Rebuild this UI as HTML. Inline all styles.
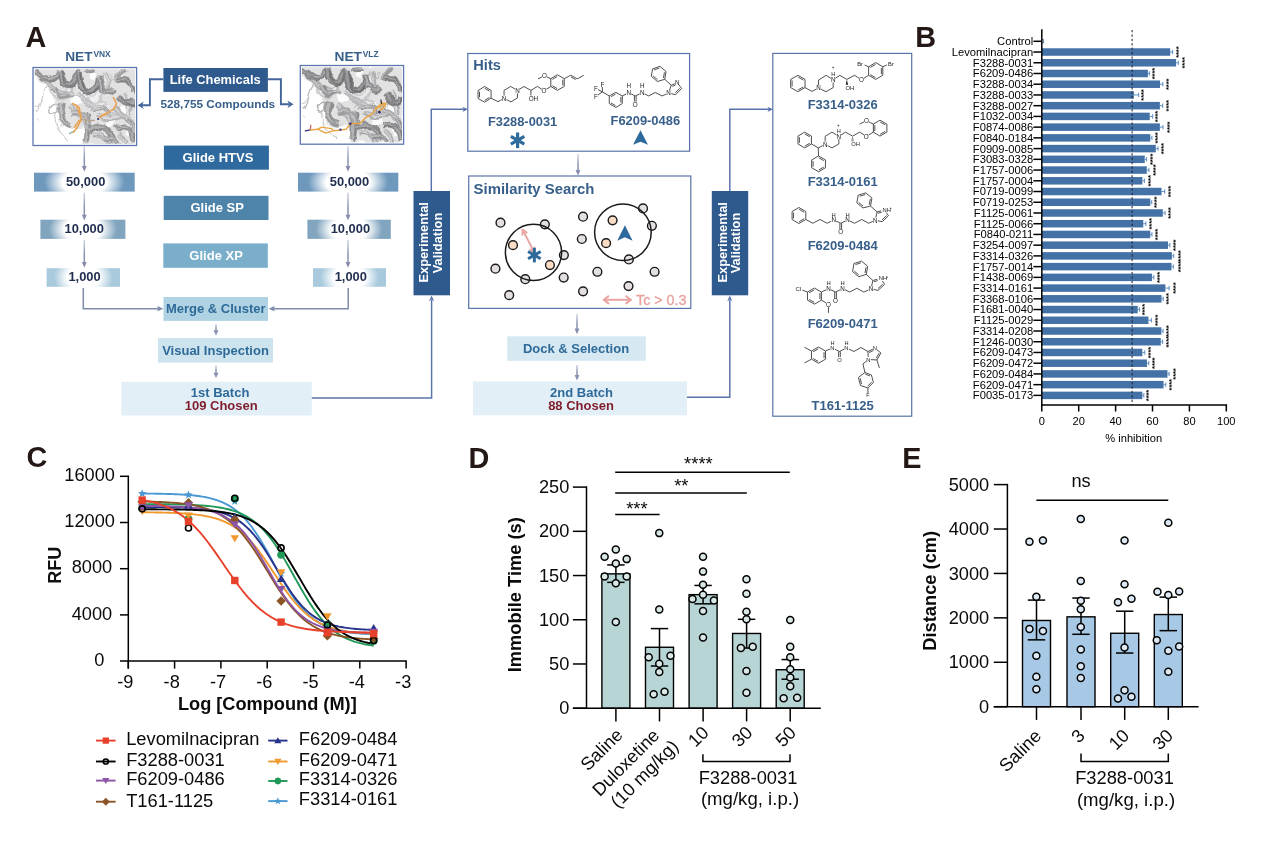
<!DOCTYPE html>
<html lang="en"><head><meta charset="utf-8"><title>Figure</title>
<style>
html,body{margin:0;padding:0;background:#fff;}
body{width:1270px;height:851px;overflow:hidden;}
svg{display:block;font-family:"Liberation Sans", Arial, sans-serif;}
</style></head><body>
<svg width="1270" height="851" viewBox="0 0 1270 851">
<rect width="1270" height="851" fill="#fff"/>
<defs>
<radialGradient id="g50" cx=".5" cy=".5" r="1" gradientTransform="translate(.5 .5) scale(.4 1.17) translate(-.5 -.5)"><stop offset="0" stop-color="#fff"/><stop offset=".55" stop-color="#fff"/><stop offset="1" stop-color="#6e99bd"/></radialGradient>
<radialGradient id="g10" cx=".5" cy=".5" r="1" gradientTransform="translate(.5 .5) scale(.4 1.17) translate(-.5 -.5)"><stop offset="0" stop-color="#fff"/><stop offset=".55" stop-color="#fff"/><stop offset="1" stop-color="#82a5bf"/></radialGradient>
<radialGradient id="g1" cx=".5" cy=".5" r="1" gradientTransform="translate(.5 .5) scale(.4 1.17) translate(-.5 -.5)"><stop offset="0" stop-color="#fff"/><stop offset=".55" stop-color="#fff"/><stop offset="1" stop-color="#a9cadd"/></radialGradient>
<linearGradient id="ag" x1="0" y1="0" x2="0" y2="1"><stop offset="0" stop-color="#d3d7e6"/><stop offset=".6" stop-color="#8d94b3"/><stop offset="1" stop-color="#878dac"/></linearGradient>
</defs>
<text x="25.60" y="46.70" font-size="28.8" fill="#231815" font-weight="bold" text-anchor="start" >A</text>
<text x="65.2" y="60.8" font-size="13.7" font-weight="bold" fill="#375f8a" text-anchor="start">NET<tspan font-size="8.4" dy="-4.3" dx="0.8">VNX</tspan></text>
<text x="334.6" y="60.8" font-size="13.7" font-weight="bold" fill="#375f8a" text-anchor="start">NET<tspan font-size="8.4" dy="-4.3" dx="0.8">VLZ</tspan></text>
<rect x="163.40" y="68.00" width="104.50" height="23.90" fill="#2f5a8e" />
<text x="215.20" y="84.20" font-size="12.9" fill="#fff" font-weight="bold" text-anchor="middle" >Life Chemicals</text>
<text x="217.80" y="107.80" font-size="11.8" fill="#375f8a" font-weight="bold" text-anchor="middle" >528,755 Compounds</text>
<rect x="163.90" y="145.60" width="105.00" height="24.10" fill="#2f6a9e" />
<text x="218.00" y="161.90" font-size="13" fill="#fff" font-weight="bold" text-anchor="middle" >Glide HTVS</text>
<rect x="163.70" y="195.80" width="104.80" height="24.20" fill="#4f84aa" />
<text x="217.20" y="212.20" font-size="13" fill="#fff" font-weight="bold" text-anchor="middle" >Glide SP</text>
<rect x="163.30" y="243.40" width="104.50" height="24.40" fill="#7aaeca" />
<text x="216.10" y="259.80" font-size="13" fill="#fff" font-weight="bold" text-anchor="middle" >Glide XP</text>
<rect x="163.50" y="297.00" width="104.50" height="23.90" fill="#b0d3e3" />
<text x="215.80" y="313.30" font-size="13" fill="#2e6a99" font-weight="bold" text-anchor="middle" >Merge &amp; Cluster</text>
<rect x="157.90" y="338.00" width="115.10" height="24.60" fill="#cde3ee" />
<text x="215.50" y="354.60" font-size="13" fill="#2e6a99" font-weight="bold" text-anchor="middle" >Visual Inspection</text>
<rect x="121.30" y="381.80" width="190.50" height="33.70" fill="#e3eff7" />
<text x="220.10" y="396.50" font-size="13" fill="#2e6a99" font-weight="bold" text-anchor="middle" >1st Batch</text>
<text x="221.20" y="409.80" font-size="13" fill="#7f1d2b" font-weight="bold" text-anchor="middle" >109 Chosen</text>
<polyline points="163.40,79.30 149.90,79.30 149.90,105.30 142.00,105.30" stroke="#44659a" stroke-width="1.9" fill="none" />
<polygon points="137.60,105.30 143.80,101.60 141.94,105.30 143.80,109.00" fill="#44659a" stroke="none" stroke-width="1" />
<polyline points="267.90,79.30 280.90,79.30 280.90,104.30 289.00,104.30" stroke="#44659a" stroke-width="1.9" fill="none" />
<polygon points="293.60,104.30 287.40,108.00 289.26,104.30 287.40,100.60" fill="#44659a" stroke="none" stroke-width="1" />
<rect x="34.00" y="172.70" width="100.70" height="18.90" fill="url(#g50)" />
<rect x="40.40" y="219.70" width="85.00" height="19.20" fill="url(#g10)" />
<rect x="46.60" y="268.20" width="73.40" height="18.60" fill="url(#g1)" />
<text x="85.65" y="185.90" font-size="12.9" fill="#1f2d4f" font-weight="bold" text-anchor="middle" >50,000</text>
<text x="84.20" y="232.90" font-size="12.9" fill="#1f2d4f" font-weight="bold" text-anchor="middle" >10,000</text>
<text x="84.60" y="280.80" font-size="12.9" fill="#1f2d4f" font-weight="bold" text-anchor="middle" >1,000</text>
<rect x="83.55" y="146.00" width="1.50" height="20.80" fill="url(#ag)" />
<polygon points="81.85,166.00 86.75,166.00 84.30,171.80" fill="#898fae" stroke="none" stroke-width="1" />
<rect x="83.55" y="192.50" width="1.50" height="23.00" fill="url(#ag)" />
<polygon points="81.85,214.70 86.75,214.70 84.30,220.50" fill="#898fae" stroke="none" stroke-width="1" />
<rect x="83.55" y="239.80" width="1.50" height="23.00" fill="url(#ag)" />
<polygon points="81.85,262.00 86.75,262.00 84.30,267.80" fill="#898fae" stroke="none" stroke-width="1" />
<rect x="298.00" y="172.70" width="100.30" height="18.90" fill="url(#g50)" />
<rect x="307.40" y="219.70" width="83.40" height="19.20" fill="url(#g10)" />
<rect x="313.00" y="268.20" width="73.00" height="18.60" fill="url(#g1)" />
<text x="349.45" y="185.90" font-size="12.9" fill="#1f2d4f" font-weight="bold" text-anchor="middle" >50,000</text>
<text x="350.40" y="232.90" font-size="12.9" fill="#1f2d4f" font-weight="bold" text-anchor="middle" >10,000</text>
<text x="350.80" y="280.80" font-size="12.9" fill="#1f2d4f" font-weight="bold" text-anchor="middle" >1,000</text>
<rect x="347.25" y="146.00" width="1.50" height="20.80" fill="url(#ag)" />
<polygon points="345.55,166.00 350.45,166.00 348.00,171.80" fill="#898fae" stroke="none" stroke-width="1" />
<rect x="347.25" y="192.50" width="1.50" height="23.00" fill="url(#ag)" />
<polygon points="345.55,214.70 350.45,214.70 348.00,220.50" fill="#898fae" stroke="none" stroke-width="1" />
<rect x="347.25" y="239.80" width="1.50" height="23.00" fill="url(#ag)" />
<polygon points="345.55,262.00 350.45,262.00 348.00,267.80" fill="#898fae" stroke="none" stroke-width="1" />
<polyline points="83.30,288.00 83.30,308.70 158.50,308.70" stroke="#7f8cab" stroke-width="1.5" fill="none" />
<polygon points="163.30,308.70 157.60,306.10 157.60,311.30" fill="#7f8cab" stroke="none" stroke-width="1" />
<polyline points="348.20,288.00 348.20,308.70 273.50,308.70" stroke="#7f8cab" stroke-width="1.5" fill="none" />
<polygon points="268.70,308.70 274.40,306.10 274.40,311.30" fill="#7f8cab" stroke="none" stroke-width="1" />
<rect x="215.25" y="324.00" width="1.50" height="7.00" fill="url(#ag)" />
<polygon points="213.50,330.20 218.50,330.20 216.00,335.60" fill="#898fae" stroke="none" stroke-width="1" />
<rect x="215.25" y="365.50" width="1.50" height="8.00" fill="url(#ag)" />
<polygon points="213.50,372.70 218.50,372.70 216.00,378.10" fill="#898fae" stroke="none" stroke-width="1" />
<rect x="413.50" y="191.00" width="36.50" height="104.30" fill="#2f5a8e" />
<text transform="translate(428.3,242.3) rotate(-90)" font-size="12.8" font-weight="bold" fill="#fff" text-anchor="middle">Experimental</text>
<text transform="translate(441.9,243.0) rotate(-90)" font-size="12.8" font-weight="bold" fill="#fff" text-anchor="middle">Validation</text>
<polyline points="311.80,398.00 431.60,398.00 431.60,300.00" stroke="#5873a9" stroke-width="1.45" fill="none" />
<polygon points="431.60,295.60 434.20,301.20 431.60,299.52 429.00,301.20" fill="#5873a9" stroke="none" stroke-width="1" />
<polyline points="431.30,191.00 431.30,109.30 464.00,109.30" stroke="#5873a9" stroke-width="1.45" fill="none" />
<polygon points="468.00,109.30 462.40,111.90 464.08,109.30 462.40,106.70" fill="#5873a9" stroke="none" stroke-width="1" />
<rect x="467.80" y="53.50" width="221.80" height="97.70" fill="#fff" stroke="#5873a9" stroke-width="1.2" />
<text x="473.30" y="70.30" font-size="14.6" fill="#375f8a" font-weight="bold" text-anchor="start" >Hits</text>
<text x="522.60" y="126.30" font-size="12.85" fill="#375f8a" font-weight="bold" text-anchor="middle" >F3288-0031</text>
<text x="645.30" y="124.60" font-size="12.9" fill="#375f8a" font-weight="bold" text-anchor="middle" >F6209-0486</text>
<rect x="577.25" y="154.00" width="1.50" height="16.70" fill="url(#ag)" />
<polygon points="575.55,169.90 580.45,169.90 578.00,175.70" fill="#898fae" stroke="none" stroke-width="1" />
<rect x="468.70" y="176.00" width="222.10" height="132.40" fill="#fff" stroke="#5873a9" stroke-width="1.2" />
<text x="473.60" y="193.70" font-size="14.9" fill="#375f8a" font-weight="bold" text-anchor="start" >Similarity Search</text>
<rect x="576.25" y="314.00" width="1.50" height="15.20" fill="url(#ag)" />
<polygon points="574.55,328.40 579.45,328.40 577.00,334.20" fill="#898fae" stroke="none" stroke-width="1" />
<rect x="507.20" y="336.30" width="138.60" height="24.50" fill="#d6e8f1" />
<text x="576.00" y="353.00" font-size="13" fill="#2e6a99" font-weight="bold" text-anchor="middle" >Dock &amp; Selection</text>
<rect x="576.25" y="365.00" width="1.50" height="10.80" fill="url(#ag)" />
<polygon points="574.60,375.00 579.40,375.00 577.00,380.40" fill="#898fae" stroke="none" stroke-width="1" />
<rect x="473.00" y="381.40" width="214.00" height="33.90" fill="#e3eff7" />
<text x="581.50" y="396.50" font-size="13" fill="#2e6a99" font-weight="bold" text-anchor="middle" >2nd Batch</text>
<text x="581.00" y="410.00" font-size="13" fill="#7f1d2b" font-weight="bold" text-anchor="middle" >88 Chosen</text>
<rect x="711.80" y="191.00" width="36.40" height="104.30" fill="#2f5a8e" />
<text transform="translate(726.6,242.3) rotate(-90)" font-size="12.8" font-weight="bold" fill="#fff" text-anchor="middle">Experimental</text>
<text transform="translate(740.2,243.0) rotate(-90)" font-size="12.8" font-weight="bold" fill="#fff" text-anchor="middle">Validation</text>
<polyline points="687.00,397.30 729.80,397.30 729.80,300.00" stroke="#5873a9" stroke-width="1.45" fill="none" />
<polygon points="729.80,295.60 732.40,301.20 729.80,299.52 727.20,301.20" fill="#5873a9" stroke="none" stroke-width="1" />
<polyline points="729.80,191.00 729.80,109.30 769.00,109.30" stroke="#5873a9" stroke-width="1.45" fill="none" />
<polygon points="773.00,109.30 767.40,111.90 769.08,109.30 767.40,106.70" fill="#5873a9" stroke="none" stroke-width="1" />
<rect x="772.80" y="53.40" width="138.90" height="362.80" fill="#fff" stroke="#5873a9" stroke-width="1.2" />
<text x="842.70" y="108.60" font-size="13" fill="#375f8a" font-weight="bold" text-anchor="middle" >F3314-0326</text>
<text x="842.70" y="185.80" font-size="13" fill="#375f8a" font-weight="bold" text-anchor="middle" >F3314-0161</text>
<text x="842.70" y="250.00" font-size="13" fill="#375f8a" font-weight="bold" text-anchor="middle" >F6209-0484</text>
<text x="842.70" y="327.70" font-size="13" fill="#375f8a" font-weight="bold" text-anchor="middle" >F6209-0471</text>
<text x="842.70" y="410.00" font-size="13" fill="#375f8a" font-weight="bold" text-anchor="middle" >T161-1125</text>
<defs><clipPath id="cp1"><rect x="34.8" y="69.3" width="100.2" height="74.6"/></clipPath><clipPath id="cp2"><rect x="302.1" y="67.3" width="99.9" height="75.3"/></clipPath><filter id="blurcp1" x="-5%" y="-5%" width="110%" height="110%" color-interpolation-filters="sRGB"><feTurbulence type="fractalNoise" baseFrequency="0.09" numOctaves="2" seed="3" result="n"/><feDisplacementMap in="SourceGraphic" in2="n" scale="7" xChannelSelector="R" yChannelSelector="G" result="d"/><feGaussianBlur in="d" stdDeviation="0.65"/></filter><filter id="blurcp2" x="-5%" y="-5%" width="110%" height="110%" color-interpolation-filters="sRGB"><feTurbulence type="fractalNoise" baseFrequency="0.09" numOctaves="2" seed="7" result="n"/><feDisplacementMap in="SourceGraphic" in2="n" scale="7" xChannelSelector="R" yChannelSelector="G" result="d"/><feGaussianBlur in="d" stdDeviation="0.65"/></filter></defs>
<rect x="33.00" y="67.50" width="103.60" height="78.00" fill="#fff" />
<g clip-path="url(#cp1)" filter="url(#blurcp1)">
<path d="M 33.9,67.9 L 136.2,67.9 L 136.2,144.5 L 82.3,144.5 L 83.3,127.2 L 71.5,129.2 L 59.6,127.2 L 56.7,105.5 L 48.8,86.7 L 33.9,76.8 Z" fill="#cfcfd1" opacity="0.6"/>
<ellipse cx="76.4" cy="99.5" rx="6.9" ry="4.9" fill="#fff" opacity="0.9"/>
<ellipse cx="99.1" cy="105.5" rx="8.9" ry="3.9" fill="#fff" opacity="0.9"/>
<ellipse cx="54.7" cy="96.6" rx="3.9" ry="3.9" fill="#fff" opacity="0.9"/>
<ellipse cx="124.8" cy="110.4" rx="4.9" ry="3.9" fill="#fff" opacity="0.9"/>
<ellipse cx="93.2" cy="75.8" rx="3.0" ry="3.9" fill="#fff" opacity="0.9"/>
<ellipse cx="111.0" cy="123.2" rx="3.9" ry="4.9" fill="#fff" opacity="0.9"/>
<ellipse cx="128.7" cy="133.1" rx="3.0" ry="3.9" fill="#fff" opacity="0.9"/>
<path d="M 51.7,88.7 C 55.7,101.5 67.5,99.5 69.5,86.7" stroke="#d2d2d4" stroke-width="6.91" fill="none" stroke-linecap="butt" stroke-linejoin="round" opacity="1"/>
<path d="M 51.7,88.7 C 55.7,101.5 67.5,99.5 69.5,86.7" stroke="#f5f5f7" stroke-width="2.28" fill="none" stroke-linecap="butt" transform="translate(-0.7,-0.5)" opacity="0.85"/>
<path d="M 51.7,88.7 C 55.7,101.5 67.5,99.5 69.5,86.7" stroke="#bcbcbe" stroke-width="1.11" fill="none" stroke-linecap="butt" transform="translate(1.9,1.2)" opacity="0.7"/>
<path d="M 85.3,96.6 C 91.2,103.5 99.1,101.5 101.1,93.6" stroke="#d7d7d9" stroke-width="6.91" fill="none" stroke-linecap="butt" stroke-linejoin="round" opacity="1"/>
<path d="M 85.3,96.6 C 91.2,103.5 99.1,101.5 101.1,93.6" stroke="#f5f5f7" stroke-width="2.28" fill="none" stroke-linecap="butt" transform="translate(-0.7,-0.5)" opacity="0.85"/>
<path d="M 85.3,96.6 C 91.2,103.5 99.1,101.5 101.1,93.6" stroke="#c1c1c3" stroke-width="1.11" fill="none" stroke-linecap="butt" transform="translate(1.9,1.2)" opacity="0.7"/>
<path d="M 89.2,110.4 C 93.2,103.5 101.1,101.5 105.0,105.5" stroke="#cdcdcf" stroke-width="5.92" fill="none" stroke-linecap="butt" stroke-linejoin="round" opacity="1"/>
<path d="M 89.2,110.4 C 93.2,103.5 101.1,101.5 105.0,105.5" stroke="#f3f3f5" stroke-width="1.96" fill="none" stroke-linecap="butt" transform="translate(-0.7,-0.5)" opacity="0.85"/>
<path d="M 89.2,110.4 C 93.2,103.5 101.1,101.5 105.0,105.5" stroke="#b7b7b9" stroke-width="0.95" fill="none" stroke-linecap="butt" transform="translate(1.9,1.2)" opacity="0.7"/>
<path d="M 111.0,110.4 C 118.9,115.3 126.8,115.3 132.7,123.2" stroke="#c8c8ca" stroke-width="5.92" fill="none" stroke-linecap="butt" stroke-linejoin="round" opacity="1"/>
<path d="M 111.0,110.4 C 118.9,115.3 126.8,115.3 132.7,123.2" stroke="#eeeef0" stroke-width="1.96" fill="none" stroke-linecap="butt" transform="translate(-0.7,-0.5)" opacity="0.85"/>
<path d="M 111.0,110.4 C 118.9,115.3 126.8,115.3 132.7,123.2" stroke="#b2b2b4" stroke-width="0.95" fill="none" stroke-linecap="butt" transform="translate(1.9,1.2)" opacity="0.7"/>
<path d="M 99.1,127.2 C 105.0,133.1 109.0,137.1 111.0,143.0" stroke="#cdcdcf" stroke-width="6.91" fill="none" stroke-linecap="butt" stroke-linejoin="round" opacity="1"/>
<path d="M 99.1,127.2 C 105.0,133.1 109.0,137.1 111.0,143.0" stroke="#f3f3f5" stroke-width="2.28" fill="none" stroke-linecap="butt" transform="translate(-0.7,-0.5)" opacity="0.85"/>
<path d="M 99.1,127.2 C 105.0,133.1 109.0,137.1 111.0,143.0" stroke="#b7b7b9" stroke-width="1.11" fill="none" stroke-linecap="butt" transform="translate(1.9,1.2)" opacity="0.7"/>
<path d="M 122.8,93.6 C 127.8,101.5 128.7,107.4 129.7,115.3" stroke="#c3c3c5" stroke-width="5.92" fill="none" stroke-linecap="butt" stroke-linejoin="round" opacity="1"/>
<path d="M 122.8,93.6 C 127.8,101.5 128.7,107.4 129.7,115.3" stroke="#e9e9eb" stroke-width="1.96" fill="none" stroke-linecap="butt" transform="translate(-0.7,-0.5)" opacity="0.85"/>
<path d="M 122.8,93.6 C 127.8,101.5 128.7,107.4 129.7,115.3" stroke="#adadaf" stroke-width="0.95" fill="none" stroke-linecap="butt" transform="translate(1.9,1.2)" opacity="0.7"/>
<path d="M 40.9,75.8 C 49.7,88.7 62.6,96.6 72.5,93.6" stroke="#b6b6b8" stroke-width="5.13" fill="none" stroke-linecap="butt" stroke-linejoin="round" opacity="1"/>
<path d="M 40.9,75.8 C 49.7,88.7 62.6,96.6 72.5,93.6" stroke="#dcdcde" stroke-width="1.69" fill="none" stroke-linecap="butt" transform="translate(-0.7,-0.5)" opacity="0.85"/>
<path d="M 40.9,75.8 C 49.7,88.7 62.6,96.6 72.5,93.6" stroke="#a0a0a2" stroke-width="0.82" fill="none" stroke-linecap="butt" transform="translate(1.9,1.2)" opacity="0.7"/>
<path d="M 76.4,93.6 C 85.3,101.5 93.2,105.5 101.1,107.4" stroke="#bebec0" stroke-width="4.94" fill="none" stroke-linecap="butt" stroke-linejoin="round" opacity="1"/>
<path d="M 76.4,93.6 C 85.3,101.5 93.2,105.5 101.1,107.4" stroke="#e4e4e6" stroke-width="1.63" fill="none" stroke-linecap="butt" transform="translate(-0.7,-0.5)" opacity="0.85"/>
<path d="M 76.4,93.6 C 85.3,101.5 93.2,105.5 101.1,107.4" stroke="#a8a8aa" stroke-width="0.79" fill="none" stroke-linecap="butt" transform="translate(1.9,1.2)" opacity="0.7"/>
<path d="M 69.5,105.5 C 76.4,111.4 83.3,119.3 85.3,129.2" stroke="#bababc" stroke-width="4.74" fill="none" stroke-linecap="butt" stroke-linejoin="round" opacity="1"/>
<path d="M 69.5,105.5 C 76.4,111.4 83.3,119.3 85.3,129.2" stroke="#e0e0e2" stroke-width="1.56" fill="none" stroke-linecap="butt" transform="translate(-0.7,-0.5)" opacity="0.85"/>
<path d="M 69.5,105.5 C 76.4,111.4 83.3,119.3 85.3,129.2" stroke="#a4a4a6" stroke-width="0.76" fill="none" stroke-linecap="butt" transform="translate(1.9,1.2)" opacity="0.7"/>
<path d="M 97.1,115.3 C 105.0,119.3 114.9,119.3 124.8,115.3" stroke="#bcbcbe" stroke-width="4.94" fill="none" stroke-linecap="butt" stroke-linejoin="round" opacity="1"/>
<path d="M 97.1,115.3 C 105.0,119.3 114.9,119.3 124.8,115.3" stroke="#e2e2e4" stroke-width="1.63" fill="none" stroke-linecap="butt" transform="translate(-0.7,-0.5)" opacity="0.85"/>
<path d="M 97.1,115.3 C 105.0,119.3 114.9,119.3 124.8,115.3" stroke="#a6a6a8" stroke-width="0.79" fill="none" stroke-linecap="butt" transform="translate(1.9,1.2)" opacity="0.7"/>
<path d="M 114.9,106.5 C 118.9,113.4 124.8,119.3 132.7,119.3" stroke="#b4b4b6" stroke-width="4.54" fill="none" stroke-linecap="butt" stroke-linejoin="round" opacity="1"/>
<path d="M 114.9,106.5 C 118.9,113.4 124.8,119.3 132.7,119.3" stroke="#dadadc" stroke-width="1.50" fill="none" stroke-linecap="butt" transform="translate(-0.7,-0.5)" opacity="0.85"/>
<path d="M 114.9,106.5 C 118.9,113.4 124.8,119.3 132.7,119.3" stroke="#9e9ea0" stroke-width="0.73" fill="none" stroke-linecap="butt" transform="translate(1.9,1.2)" opacity="0.7"/>
<path d="M 93.2,135.1 C 101.1,133.1 107.0,139.0 109.0,144.0" stroke="#b6b6b8" stroke-width="4.94" fill="none" stroke-linecap="butt" stroke-linejoin="round" opacity="1"/>
<path d="M 93.2,135.1 C 101.1,133.1 107.0,139.0 109.0,144.0" stroke="#dcdcde" stroke-width="1.63" fill="none" stroke-linecap="butt" transform="translate(-0.7,-0.5)" opacity="0.85"/>
<path d="M 93.2,135.1 C 101.1,133.1 107.0,139.0 109.0,144.0" stroke="#a0a0a2" stroke-width="0.79" fill="none" stroke-linecap="butt" transform="translate(1.9,1.2)" opacity="0.7"/>
<path d="M 118.9,133.1 C 122.8,137.1 124.8,141.0 126.8,144.0" stroke="#bababc" stroke-width="4.34" fill="none" stroke-linecap="butt" stroke-linejoin="round" opacity="1"/>
<path d="M 118.9,133.1 C 122.8,137.1 124.8,141.0 126.8,144.0" stroke="#e0e0e2" stroke-width="1.43" fill="none" stroke-linecap="butt" transform="translate(-0.7,-0.5)" opacity="0.85"/>
<path d="M 118.9,133.1 C 122.8,137.1 124.8,141.0 126.8,144.0" stroke="#a4a4a6" stroke-width="0.70" fill="none" stroke-linecap="butt" transform="translate(1.9,1.2)" opacity="0.7"/>
<path d="M 105.0,72.9 C 108.0,79.8 109.0,86.7 107.0,93.6" stroke="#bcbcbe" stroke-width="4.34" fill="none" stroke-linecap="butt" stroke-linejoin="round" opacity="1"/>
<path d="M 105.0,72.9 C 108.0,79.8 109.0,86.7 107.0,93.6" stroke="#e2e2e4" stroke-width="1.43" fill="none" stroke-linecap="butt" transform="translate(-0.7,-0.5)" opacity="0.85"/>
<path d="M 105.0,72.9 C 108.0,79.8 109.0,86.7 107.0,93.6" stroke="#a6a6a8" stroke-width="0.70" fill="none" stroke-linecap="butt" transform="translate(1.9,1.2)" opacity="0.7"/>
<path d="M 34.4,110.4 C 44.8,111.4 38.9,89.7 48.8,85.2" stroke="#c3c3c5" stroke-width="1.18" fill="none" stroke-linecap="butt" stroke-linejoin="round" opacity="1"/>
<path d="M 34.9,105.5 C 40.9,105.5 41.8,101.5 42.8,96.6" stroke="#cdcdcf" stroke-width="0.99" fill="none" stroke-linecap="butt" stroke-linejoin="round" opacity="1"/>
<path d="M 49.7,111.4 C 52.7,101.5 61.6,103.5 58.6,107.4 C 56.7,115.3 49.7,115.3 49.7,111.4" stroke="#b4b4b6" stroke-width="1.38" fill="none" stroke-linecap="butt" stroke-linejoin="round" opacity="1"/>
<path d="M 54.7,113.4 C 54.7,131.1 65.5,135.1 68.0,143.0" stroke="#c3c3c5" stroke-width="0.99" fill="none" stroke-linecap="butt" stroke-linejoin="round" opacity="1"/>
<path d="M 109.0,75.8 C 112.0,71.9 113.9,75.8 109.0,83.7" stroke="#c3c3c5" stroke-width="1.18" fill="none" stroke-linecap="butt" stroke-linejoin="round" opacity="1"/>
<path d="M 34.9,117.3 C 35.9,119.3 36.9,119.3 37.9,119.3" stroke="#d2d2d4" stroke-width="0.79" fill="none" stroke-linecap="butt" stroke-linejoin="round" opacity="1"/>
<path d="M 34.9,70.9 C 38.9,72.9 42.8,80.8 50.7,79.8 C 55.7,78.8 58.6,73.9 59.6,69.9" stroke="#919193" stroke-width="6.12" fill="none" stroke-linecap="butt" stroke-linejoin="round" opacity="1"/>
<path d="M 34.9,70.9 C 38.9,72.9 42.8,80.8 50.7,79.8 C 55.7,78.8 58.6,73.9 59.6,69.9" stroke="#b7b7b9" stroke-width="2.02" fill="none" stroke-linecap="butt" transform="translate(-0.7,-0.5)" opacity="0.85"/>
<path d="M 34.9,70.9 C 38.9,72.9 42.8,80.8 50.7,79.8 C 55.7,78.8 58.6,73.9 59.6,69.9" stroke="#7b7b7d" stroke-width="0.98" fill="none" stroke-linecap="butt" transform="translate(1.9,1.2)" opacity="0.7"/>
<path d="M 59.6,70.9 C 62.6,83.7 69.5,88.7 73.4,81.8 C 76.4,76.8 77.4,73.9 79.4,71.9" stroke="#878789" stroke-width="6.52" fill="none" stroke-linecap="butt" stroke-linejoin="round" opacity="1"/>
<path d="M 59.6,70.9 C 62.6,83.7 69.5,88.7 73.4,81.8 C 76.4,76.8 77.4,73.9 79.4,71.9" stroke="#adadaf" stroke-width="2.15" fill="none" stroke-linecap="butt" transform="translate(-0.7,-0.5)" opacity="0.85"/>
<path d="M 59.6,70.9 C 62.6,83.7 69.5,88.7 73.4,81.8 C 76.4,76.8 77.4,73.9 79.4,71.9" stroke="#717173" stroke-width="1.04" fill="none" stroke-linecap="butt" transform="translate(1.9,1.2)" opacity="0.7"/>
<path d="M 79.4,72.9 C 80.4,86.7 85.3,96.6 93.2,91.6 C 98.1,88.7 99.1,81.8 99.1,76.8" stroke="#828284" stroke-width="6.91" fill="none" stroke-linecap="butt" stroke-linejoin="round" opacity="1"/>
<path d="M 79.4,72.9 C 80.4,86.7 85.3,96.6 93.2,91.6 C 98.1,88.7 99.1,81.8 99.1,76.8" stroke="#a8a8aa" stroke-width="2.28" fill="none" stroke-linecap="butt" transform="translate(-0.7,-0.5)" opacity="0.85"/>
<path d="M 79.4,72.9 C 80.4,86.7 85.3,96.6 93.2,91.6 C 98.1,88.7 99.1,81.8 99.1,76.8" stroke="#6c6c6e" stroke-width="1.11" fill="none" stroke-linecap="butt" transform="translate(1.9,1.2)" opacity="0.7"/>
<path d="M 85.3,69.9 C 89.2,72.9 93.2,72.9 94.2,70.9" stroke="#969698" stroke-width="3.95" fill="none" stroke-linecap="butt" stroke-linejoin="round" opacity="1"/>
<path d="M 85.3,69.9 C 89.2,72.9 93.2,72.9 94.2,70.9" stroke="#bcbcbe" stroke-width="1.30" fill="none" stroke-linecap="butt" transform="translate(-0.7,-0.5)" opacity="0.85"/>
<path d="M 85.3,69.9 C 89.2,72.9 93.2,72.9 94.2,70.9" stroke="#808082" stroke-width="0.63" fill="none" stroke-linecap="butt" transform="translate(1.9,1.2)" opacity="0.7"/>
<path d="M 99.1,77.8 C 102.1,93.6 109.0,96.6 113.9,88.7" stroke="#969698" stroke-width="5.92" fill="none" stroke-linecap="butt" stroke-linejoin="round" opacity="1"/>
<path d="M 99.1,77.8 C 102.1,93.6 109.0,96.6 113.9,88.7" stroke="#bcbcbe" stroke-width="1.96" fill="none" stroke-linecap="butt" transform="translate(-0.7,-0.5)" opacity="0.85"/>
<path d="M 99.1,77.8 C 102.1,93.6 109.0,96.6 113.9,88.7" stroke="#808082" stroke-width="0.95" fill="none" stroke-linecap="butt" transform="translate(1.9,1.2)" opacity="0.7"/>
<path d="M 114.9,81.8 C 118.9,72.9 122.8,69.9 125.8,69.9" stroke="#a0a0a2" stroke-width="4.34" fill="none" stroke-linecap="butt" stroke-linejoin="round" opacity="1"/>
<path d="M 114.9,81.8 C 118.9,72.9 122.8,69.9 125.8,69.9" stroke="#c6c6c8" stroke-width="1.43" fill="none" stroke-linecap="butt" transform="translate(-0.7,-0.5)" opacity="0.85"/>
<path d="M 114.9,81.8 C 118.9,72.9 122.8,69.9 125.8,69.9" stroke="#8a8a8c" stroke-width="0.70" fill="none" stroke-linecap="butt" transform="translate(1.9,1.2)" opacity="0.7"/>
<path d="M 116.9,80.8 C 124.8,77.8 132.7,81.8 133.7,93.6" stroke="#8c8c8e" stroke-width="5.53" fill="none" stroke-linecap="butt" stroke-linejoin="round" opacity="1"/>
<path d="M 116.9,80.8 C 124.8,77.8 132.7,81.8 133.7,93.6" stroke="#b2b2b4" stroke-width="1.82" fill="none" stroke-linecap="butt" transform="translate(-0.7,-0.5)" opacity="0.85"/>
<path d="M 116.9,80.8 C 124.8,77.8 132.7,81.8 133.7,93.6" stroke="#767678" stroke-width="0.88" fill="none" stroke-linecap="butt" transform="translate(1.9,1.2)" opacity="0.7"/>
<path d="M 118.9,96.6 C 124.8,105.5 132.7,105.5 134.7,99.5" stroke="#878789" stroke-width="6.91" fill="none" stroke-linecap="butt" stroke-linejoin="round" opacity="1"/>
<path d="M 118.9,96.6 C 124.8,105.5 132.7,105.5 134.7,99.5" stroke="#adadaf" stroke-width="2.28" fill="none" stroke-linecap="butt" transform="translate(-0.7,-0.5)" opacity="0.85"/>
<path d="M 118.9,96.6 C 124.8,105.5 132.7,105.5 134.7,99.5" stroke="#717173" stroke-width="1.11" fill="none" stroke-linecap="butt" transform="translate(1.9,1.2)" opacity="0.7"/>
<path d="M 54.7,87.7 C 57.6,96.6 63.6,98.6 67.5,93.6" stroke="#a0a0a2" stroke-width="4.94" fill="none" stroke-linecap="butt" stroke-linejoin="round" opacity="1"/>
<path d="M 54.7,87.7 C 57.6,96.6 63.6,98.6 67.5,93.6" stroke="#c6c6c8" stroke-width="1.63" fill="none" stroke-linecap="butt" transform="translate(-0.7,-0.5)" opacity="0.85"/>
<path d="M 54.7,87.7 C 57.6,96.6 63.6,98.6 67.5,93.6" stroke="#8a8a8c" stroke-width="0.79" fill="none" stroke-linecap="butt" transform="translate(1.9,1.2)" opacity="0.7"/>
<path d="M 62.6,103.5 C 59.6,115.3 62.6,125.2 71.5,125.2" stroke="#a0a0a2" stroke-width="6.52" fill="none" stroke-linecap="butt" stroke-linejoin="round" opacity="1"/>
<path d="M 62.6,103.5 C 59.6,115.3 62.6,125.2 71.5,125.2" stroke="#c6c6c8" stroke-width="2.15" fill="none" stroke-linecap="butt" transform="translate(-0.7,-0.5)" opacity="0.85"/>
<path d="M 62.6,103.5 C 59.6,115.3 62.6,125.2 71.5,125.2" stroke="#8a8a8c" stroke-width="1.04" fill="none" stroke-linecap="butt" transform="translate(1.9,1.2)" opacity="0.7"/>
<path d="M 89.2,113.4 C 85.3,123.2 88.3,133.1 85.3,142.0" stroke="#9b9b9d" stroke-width="6.52" fill="none" stroke-linecap="butt" stroke-linejoin="round" opacity="1"/>
<path d="M 89.2,113.4 C 85.3,123.2 88.3,133.1 85.3,142.0" stroke="#c1c1c3" stroke-width="2.15" fill="none" stroke-linecap="butt" transform="translate(-0.7,-0.5)" opacity="0.85"/>
<path d="M 89.2,113.4 C 85.3,123.2 88.3,133.1 85.3,142.0" stroke="#858587" stroke-width="1.04" fill="none" stroke-linecap="butt" transform="translate(1.9,1.2)" opacity="0.7"/>
<path d="M 71.5,113.4 C 81.3,110.4 85.3,117.3 89.2,125.2" stroke="#aaaaac" stroke-width="5.53" fill="none" stroke-linecap="butt" stroke-linejoin="round" opacity="1"/>
<path d="M 71.5,113.4 C 81.3,110.4 85.3,117.3 89.2,125.2" stroke="#d0d0d2" stroke-width="1.82" fill="none" stroke-linecap="butt" transform="translate(-0.7,-0.5)" opacity="0.85"/>
<path d="M 71.5,113.4 C 81.3,110.4 85.3,117.3 89.2,125.2" stroke="#949496" stroke-width="0.88" fill="none" stroke-linecap="butt" transform="translate(1.9,1.2)" opacity="0.7"/>
<path d="M 93.2,110.4 C 99.1,106.5 105.0,107.4 109.0,115.3" stroke="#aaaaac" stroke-width="4.94" fill="none" stroke-linecap="butt" stroke-linejoin="round" opacity="1"/>
<path d="M 93.2,110.4 C 99.1,106.5 105.0,107.4 109.0,115.3" stroke="#d0d0d2" stroke-width="1.63" fill="none" stroke-linecap="butt" transform="translate(-0.7,-0.5)" opacity="0.85"/>
<path d="M 93.2,110.4 C 99.1,106.5 105.0,107.4 109.0,115.3" stroke="#949496" stroke-width="0.79" fill="none" stroke-linecap="butt" transform="translate(1.9,1.2)" opacity="0.7"/>
<path d="M 89.2,131.1 C 99.1,123.2 109.0,125.2 114.9,142.0" stroke="#919193" stroke-width="6.12" fill="none" stroke-linecap="butt" stroke-linejoin="round" opacity="1"/>
<path d="M 89.2,131.1 C 99.1,123.2 109.0,125.2 114.9,142.0" stroke="#b7b7b9" stroke-width="2.02" fill="none" stroke-linecap="butt" transform="translate(-0.7,-0.5)" opacity="0.85"/>
<path d="M 89.2,131.1 C 99.1,123.2 109.0,125.2 114.9,142.0" stroke="#7b7b7d" stroke-width="0.98" fill="none" stroke-linecap="butt" transform="translate(1.9,1.2)" opacity="0.7"/>
<path d="M 116.9,129.2 C 123.8,123.2 132.7,127.2 134.7,142.0" stroke="#919193" stroke-width="5.92" fill="none" stroke-linecap="butt" stroke-linejoin="round" opacity="1"/>
<path d="M 116.9,129.2 C 123.8,123.2 132.7,127.2 134.7,142.0" stroke="#b7b7b9" stroke-width="1.96" fill="none" stroke-linecap="butt" transform="translate(-0.7,-0.5)" opacity="0.85"/>
<path d="M 116.9,129.2 C 123.8,123.2 132.7,127.2 134.7,142.0" stroke="#7b7b7d" stroke-width="0.95" fill="none" stroke-linecap="butt" transform="translate(1.9,1.2)" opacity="0.7"/>
<path d="M 105.0,139.0 C 111.0,137.1 116.9,140.0 118.9,143.0" stroke="#a0a0a2" stroke-width="4.94" fill="none" stroke-linecap="butt" stroke-linejoin="round" opacity="1"/>
<path d="M 105.0,139.0 C 111.0,137.1 116.9,140.0 118.9,143.0" stroke="#c6c6c8" stroke-width="1.63" fill="none" stroke-linecap="butt" transform="translate(-0.7,-0.5)" opacity="0.85"/>
<path d="M 105.0,139.0 C 111.0,137.1 116.9,140.0 118.9,143.0" stroke="#8a8a8c" stroke-width="0.79" fill="none" stroke-linecap="butt" transform="translate(1.9,1.2)" opacity="0.7"/>
<path d="M 128.7,119.3 C 132.7,123.2 133.7,127.2 134.7,133.1" stroke="#a0a0a2" stroke-width="4.34" fill="none" stroke-linecap="butt" stroke-linejoin="round" opacity="1"/>
<path d="M 128.7,119.3 C 132.7,123.2 133.7,127.2 134.7,133.1" stroke="#c6c6c8" stroke-width="1.43" fill="none" stroke-linecap="butt" transform="translate(-0.7,-0.5)" opacity="0.85"/>
<path d="M 128.7,119.3 C 132.7,123.2 133.7,127.2 134.7,133.1" stroke="#8a8a8c" stroke-width="0.70" fill="none" stroke-linecap="butt" transform="translate(1.9,1.2)" opacity="0.7"/>
</g>
<polyline points="69.50,133.62 73.45,131.15" stroke="#8fb59a" stroke-width="1.2" fill="none" stroke-linejoin="round" stroke-linecap="round"/>
<polyline points="73.45,132.13 77.40,127.20 81.35,119.30 78.39,110.41 76.41,105.47 72.46,103.50" stroke="#e8a353" stroke-width="1.6" fill="none" stroke-linejoin="round" stroke-linecap="round"/>
<polyline points="74.44,127.20 79.37,120.29" stroke="#e8a353" stroke-width="1.6" fill="none" stroke-linejoin="round" stroke-linecap="round"/>
<polyline points="76.41,105.47 79.37,107.45 81.35,119.30" stroke="#e8a353" stroke-width="1.3" fill="none" stroke-linejoin="round" stroke-linecap="round"/>
<polyline points="81.35,119.30 89.25,120.78 94.18,120.29" stroke="#b9a58a" stroke-width="1.4" fill="none" stroke-linejoin="round" stroke-linecap="round"/>
<polyline points="99.12,117.82 102.08,115.35 108.01,112.39 113.93,108.93 116.40,103.50 113.44,97.57" stroke="#e8a353" stroke-width="1.6" fill="none" stroke-linejoin="round" stroke-linecap="round"/>
<polyline points="101.10,116.34 107.02,113.87" stroke="#e8a353" stroke-width="1.4" fill="none" stroke-linejoin="round" stroke-linecap="round"/>
<circle cx="98.13" cy="119.00" r="1.10" fill="#2a2f7a" stroke="none" stroke-width="1" />
<rect x="33.00" y="67.50" width="103.60" height="78.00" fill="none" stroke="#5e76b0" stroke-width="1.3" />
<rect x="300.30" y="65.50" width="103.30" height="78.70" fill="#fff" />
<g clip-path="url(#cp2)" filter="url(#blurcp2)">
<path d="M 300.9,65.9 L 403.2,65.9 L 403.2,142.5 L 349.3,142.5 L 350.3,125.2 L 338.5,127.2 L 326.6,125.2 L 323.7,103.5 L 315.8,84.7 L 300.9,74.8 Z" fill="#cfcfd1" opacity="0.6"/>
<ellipse cx="343.4" cy="97.5" rx="6.9" ry="4.9" fill="#fff" opacity="0.9"/>
<ellipse cx="366.1" cy="103.5" rx="8.9" ry="3.9" fill="#fff" opacity="0.9"/>
<ellipse cx="321.7" cy="94.6" rx="3.9" ry="3.9" fill="#fff" opacity="0.9"/>
<ellipse cx="391.8" cy="108.4" rx="4.9" ry="3.9" fill="#fff" opacity="0.9"/>
<ellipse cx="360.2" cy="73.8" rx="3.0" ry="3.9" fill="#fff" opacity="0.9"/>
<ellipse cx="378.0" cy="121.2" rx="3.9" ry="4.9" fill="#fff" opacity="0.9"/>
<ellipse cx="395.7" cy="131.1" rx="3.0" ry="3.9" fill="#fff" opacity="0.9"/>
<path d="M 318.7,86.7 C 322.7,99.5 334.5,97.5 336.5,84.7" stroke="#cacacc" stroke-width="6.91" fill="none" stroke-linecap="butt" stroke-linejoin="round" opacity="1"/>
<path d="M 318.7,86.7 C 322.7,99.5 334.5,97.5 336.5,84.7" stroke="#ededef" stroke-width="2.28" fill="none" stroke-linecap="butt" transform="translate(-0.7,-0.5)" opacity="0.85"/>
<path d="M 318.7,86.7 C 322.7,99.5 334.5,97.5 336.5,84.7" stroke="#b4b4b6" stroke-width="1.11" fill="none" stroke-linecap="butt" transform="translate(1.9,1.2)" opacity="0.7"/>
<path d="M 352.3,94.6 C 358.2,101.5 366.1,99.5 368.1,91.6" stroke="#cfcfd1" stroke-width="6.91" fill="none" stroke-linecap="butt" stroke-linejoin="round" opacity="1"/>
<path d="M 352.3,94.6 C 358.2,101.5 366.1,99.5 368.1,91.6" stroke="#ededef" stroke-width="2.28" fill="none" stroke-linecap="butt" transform="translate(-0.7,-0.5)" opacity="0.85"/>
<path d="M 352.3,94.6 C 358.2,101.5 366.1,99.5 368.1,91.6" stroke="#b9b9bb" stroke-width="1.11" fill="none" stroke-linecap="butt" transform="translate(1.9,1.2)" opacity="0.7"/>
<path d="M 356.2,108.4 C 360.2,101.5 368.1,99.5 372.0,103.5" stroke="#c5c5c7" stroke-width="5.92" fill="none" stroke-linecap="butt" stroke-linejoin="round" opacity="1"/>
<path d="M 356.2,108.4 C 360.2,101.5 368.1,99.5 372.0,103.5" stroke="#ebebed" stroke-width="1.96" fill="none" stroke-linecap="butt" transform="translate(-0.7,-0.5)" opacity="0.85"/>
<path d="M 356.2,108.4 C 360.2,101.5 368.1,99.5 372.0,103.5" stroke="#afafb1" stroke-width="0.95" fill="none" stroke-linecap="butt" transform="translate(1.9,1.2)" opacity="0.7"/>
<path d="M 378.0,108.4 C 385.9,113.3 393.8,113.3 399.7,121.2" stroke="#c0c0c2" stroke-width="5.92" fill="none" stroke-linecap="butt" stroke-linejoin="round" opacity="1"/>
<path d="M 378.0,108.4 C 385.9,113.3 393.8,113.3 399.7,121.2" stroke="#e6e6e8" stroke-width="1.96" fill="none" stroke-linecap="butt" transform="translate(-0.7,-0.5)" opacity="0.85"/>
<path d="M 378.0,108.4 C 385.9,113.3 393.8,113.3 399.7,121.2" stroke="#aaaaac" stroke-width="0.95" fill="none" stroke-linecap="butt" transform="translate(1.9,1.2)" opacity="0.7"/>
<path d="M 366.1,125.2 C 372.0,131.1 376.0,135.1 378.0,141.0" stroke="#c5c5c7" stroke-width="6.91" fill="none" stroke-linecap="butt" stroke-linejoin="round" opacity="1"/>
<path d="M 366.1,125.2 C 372.0,131.1 376.0,135.1 378.0,141.0" stroke="#ebebed" stroke-width="2.28" fill="none" stroke-linecap="butt" transform="translate(-0.7,-0.5)" opacity="0.85"/>
<path d="M 366.1,125.2 C 372.0,131.1 376.0,135.1 378.0,141.0" stroke="#afafb1" stroke-width="1.11" fill="none" stroke-linecap="butt" transform="translate(1.9,1.2)" opacity="0.7"/>
<path d="M 389.8,91.6 C 394.8,99.5 395.7,105.4 396.7,113.3" stroke="#bbbbbd" stroke-width="5.92" fill="none" stroke-linecap="butt" stroke-linejoin="round" opacity="1"/>
<path d="M 389.8,91.6 C 394.8,99.5 395.7,105.4 396.7,113.3" stroke="#e1e1e3" stroke-width="1.96" fill="none" stroke-linecap="butt" transform="translate(-0.7,-0.5)" opacity="0.85"/>
<path d="M 389.8,91.6 C 394.8,99.5 395.7,105.4 396.7,113.3" stroke="#a5a5a7" stroke-width="0.95" fill="none" stroke-linecap="butt" transform="translate(1.9,1.2)" opacity="0.7"/>
<path d="M 307.9,73.8 C 316.7,86.7 329.6,94.6 339.5,91.6" stroke="#aeaeb0" stroke-width="5.13" fill="none" stroke-linecap="butt" stroke-linejoin="round" opacity="1"/>
<path d="M 307.9,73.8 C 316.7,86.7 329.6,94.6 339.5,91.6" stroke="#d4d4d6" stroke-width="1.69" fill="none" stroke-linecap="butt" transform="translate(-0.7,-0.5)" opacity="0.85"/>
<path d="M 307.9,73.8 C 316.7,86.7 329.6,94.6 339.5,91.6" stroke="#98989a" stroke-width="0.82" fill="none" stroke-linecap="butt" transform="translate(1.9,1.2)" opacity="0.7"/>
<path d="M 343.4,91.6 C 352.3,99.5 360.2,103.5 368.1,105.4" stroke="#b6b6b8" stroke-width="4.94" fill="none" stroke-linecap="butt" stroke-linejoin="round" opacity="1"/>
<path d="M 343.4,91.6 C 352.3,99.5 360.2,103.5 368.1,105.4" stroke="#dcdcde" stroke-width="1.63" fill="none" stroke-linecap="butt" transform="translate(-0.7,-0.5)" opacity="0.85"/>
<path d="M 343.4,91.6 C 352.3,99.5 360.2,103.5 368.1,105.4" stroke="#a0a0a2" stroke-width="0.79" fill="none" stroke-linecap="butt" transform="translate(1.9,1.2)" opacity="0.7"/>
<path d="M 336.5,103.5 C 343.4,109.4 350.3,117.3 352.3,127.2" stroke="#b2b2b4" stroke-width="4.74" fill="none" stroke-linecap="butt" stroke-linejoin="round" opacity="1"/>
<path d="M 336.5,103.5 C 343.4,109.4 350.3,117.3 352.3,127.2" stroke="#d8d8da" stroke-width="1.56" fill="none" stroke-linecap="butt" transform="translate(-0.7,-0.5)" opacity="0.85"/>
<path d="M 336.5,103.5 C 343.4,109.4 350.3,117.3 352.3,127.2" stroke="#9c9c9e" stroke-width="0.76" fill="none" stroke-linecap="butt" transform="translate(1.9,1.2)" opacity="0.7"/>
<path d="M 364.1,113.3 C 372.0,117.3 381.9,117.3 391.8,113.3" stroke="#b4b4b6" stroke-width="4.94" fill="none" stroke-linecap="butt" stroke-linejoin="round" opacity="1"/>
<path d="M 364.1,113.3 C 372.0,117.3 381.9,117.3 391.8,113.3" stroke="#dadadc" stroke-width="1.63" fill="none" stroke-linecap="butt" transform="translate(-0.7,-0.5)" opacity="0.85"/>
<path d="M 364.1,113.3 C 372.0,117.3 381.9,117.3 391.8,113.3" stroke="#9e9ea0" stroke-width="0.79" fill="none" stroke-linecap="butt" transform="translate(1.9,1.2)" opacity="0.7"/>
<path d="M 381.9,104.5 C 385.9,111.4 391.8,117.3 399.7,117.3" stroke="#acacae" stroke-width="4.54" fill="none" stroke-linecap="butt" stroke-linejoin="round" opacity="1"/>
<path d="M 381.9,104.5 C 385.9,111.4 391.8,117.3 399.7,117.3" stroke="#d2d2d4" stroke-width="1.50" fill="none" stroke-linecap="butt" transform="translate(-0.7,-0.5)" opacity="0.85"/>
<path d="M 381.9,104.5 C 385.9,111.4 391.8,117.3 399.7,117.3" stroke="#969698" stroke-width="0.73" fill="none" stroke-linecap="butt" transform="translate(1.9,1.2)" opacity="0.7"/>
<path d="M 360.2,133.1 C 368.1,131.1 374.0,137.0 376.0,142.0" stroke="#aeaeb0" stroke-width="4.94" fill="none" stroke-linecap="butt" stroke-linejoin="round" opacity="1"/>
<path d="M 360.2,133.1 C 368.1,131.1 374.0,137.0 376.0,142.0" stroke="#d4d4d6" stroke-width="1.63" fill="none" stroke-linecap="butt" transform="translate(-0.7,-0.5)" opacity="0.85"/>
<path d="M 360.2,133.1 C 368.1,131.1 374.0,137.0 376.0,142.0" stroke="#98989a" stroke-width="0.79" fill="none" stroke-linecap="butt" transform="translate(1.9,1.2)" opacity="0.7"/>
<path d="M 385.9,131.1 C 389.8,135.1 391.8,139.0 393.8,142.0" stroke="#b2b2b4" stroke-width="4.34" fill="none" stroke-linecap="butt" stroke-linejoin="round" opacity="1"/>
<path d="M 385.9,131.1 C 389.8,135.1 391.8,139.0 393.8,142.0" stroke="#d8d8da" stroke-width="1.43" fill="none" stroke-linecap="butt" transform="translate(-0.7,-0.5)" opacity="0.85"/>
<path d="M 385.9,131.1 C 389.8,135.1 391.8,139.0 393.8,142.0" stroke="#9c9c9e" stroke-width="0.70" fill="none" stroke-linecap="butt" transform="translate(1.9,1.2)" opacity="0.7"/>
<path d="M 372.0,70.9 C 375.0,77.8 376.0,84.7 374.0,91.6" stroke="#b4b4b6" stroke-width="4.34" fill="none" stroke-linecap="butt" stroke-linejoin="round" opacity="1"/>
<path d="M 372.0,70.9 C 375.0,77.8 376.0,84.7 374.0,91.6" stroke="#dadadc" stroke-width="1.43" fill="none" stroke-linecap="butt" transform="translate(-0.7,-0.5)" opacity="0.85"/>
<path d="M 372.0,70.9 C 375.0,77.8 376.0,84.7 374.0,91.6" stroke="#9e9ea0" stroke-width="0.70" fill="none" stroke-linecap="butt" transform="translate(1.9,1.2)" opacity="0.7"/>
<path d="M 301.4,108.4 C 311.8,109.4 305.9,87.7 315.8,83.2" stroke="#bbbbbd" stroke-width="1.18" fill="none" stroke-linecap="butt" stroke-linejoin="round" opacity="1"/>
<path d="M 301.9,103.5 C 307.9,103.5 308.8,99.5 309.8,94.6" stroke="#c5c5c7" stroke-width="0.99" fill="none" stroke-linecap="butt" stroke-linejoin="round" opacity="1"/>
<path d="M 316.7,109.4 C 319.7,99.5 328.6,101.5 325.6,105.4 C 323.7,113.3 316.7,113.3 316.7,109.4" stroke="#acacae" stroke-width="1.38" fill="none" stroke-linecap="butt" stroke-linejoin="round" opacity="1"/>
<path d="M 321.7,111.4 C 321.7,129.1 332.5,133.1 335.0,141.0" stroke="#bbbbbd" stroke-width="0.99" fill="none" stroke-linecap="butt" stroke-linejoin="round" opacity="1"/>
<path d="M 376.0,73.8 C 379.0,69.9 380.9,73.8 376.0,81.7" stroke="#bbbbbd" stroke-width="1.18" fill="none" stroke-linecap="butt" stroke-linejoin="round" opacity="1"/>
<path d="M 301.9,115.3 C 302.9,117.3 303.9,117.3 304.9,117.3" stroke="#cacacc" stroke-width="0.79" fill="none" stroke-linecap="butt" stroke-linejoin="round" opacity="1"/>
<path d="M 301.9,68.9 C 305.9,70.9 309.8,78.8 317.7,77.8 C 322.7,76.8 325.6,71.9 326.6,67.9" stroke="#89898b" stroke-width="6.12" fill="none" stroke-linecap="butt" stroke-linejoin="round" opacity="1"/>
<path d="M 301.9,68.9 C 305.9,70.9 309.8,78.8 317.7,77.8 C 322.7,76.8 325.6,71.9 326.6,67.9" stroke="#afafb1" stroke-width="2.02" fill="none" stroke-linecap="butt" transform="translate(-0.7,-0.5)" opacity="0.85"/>
<path d="M 301.9,68.9 C 305.9,70.9 309.8,78.8 317.7,77.8 C 322.7,76.8 325.6,71.9 326.6,67.9" stroke="#737375" stroke-width="0.98" fill="none" stroke-linecap="butt" transform="translate(1.9,1.2)" opacity="0.7"/>
<path d="M 326.6,68.9 C 329.6,81.7 336.5,86.7 340.4,79.8 C 343.4,74.8 344.4,71.9 346.4,69.9" stroke="#7f7f81" stroke-width="6.52" fill="none" stroke-linecap="butt" stroke-linejoin="round" opacity="1"/>
<path d="M 326.6,68.9 C 329.6,81.7 336.5,86.7 340.4,79.8 C 343.4,74.8 344.4,71.9 346.4,69.9" stroke="#a5a5a7" stroke-width="2.15" fill="none" stroke-linecap="butt" transform="translate(-0.7,-0.5)" opacity="0.85"/>
<path d="M 326.6,68.9 C 329.6,81.7 336.5,86.7 340.4,79.8 C 343.4,74.8 344.4,71.9 346.4,69.9" stroke="#69696b" stroke-width="1.04" fill="none" stroke-linecap="butt" transform="translate(1.9,1.2)" opacity="0.7"/>
<path d="M 346.4,70.9 C 347.4,84.7 352.3,94.6 360.2,89.6 C 365.1,86.7 366.1,79.8 366.1,74.8" stroke="#7a7a7c" stroke-width="6.91" fill="none" stroke-linecap="butt" stroke-linejoin="round" opacity="1"/>
<path d="M 346.4,70.9 C 347.4,84.7 352.3,94.6 360.2,89.6 C 365.1,86.7 366.1,79.8 366.1,74.8" stroke="#a0a0a2" stroke-width="2.28" fill="none" stroke-linecap="butt" transform="translate(-0.7,-0.5)" opacity="0.85"/>
<path d="M 346.4,70.9 C 347.4,84.7 352.3,94.6 360.2,89.6 C 365.1,86.7 366.1,79.8 366.1,74.8" stroke="#646466" stroke-width="1.11" fill="none" stroke-linecap="butt" transform="translate(1.9,1.2)" opacity="0.7"/>
<path d="M 352.3,67.9 C 356.2,70.9 360.2,70.9 361.2,68.9" stroke="#8e8e90" stroke-width="3.95" fill="none" stroke-linecap="butt" stroke-linejoin="round" opacity="1"/>
<path d="M 352.3,67.9 C 356.2,70.9 360.2,70.9 361.2,68.9" stroke="#b4b4b6" stroke-width="1.30" fill="none" stroke-linecap="butt" transform="translate(-0.7,-0.5)" opacity="0.85"/>
<path d="M 352.3,67.9 C 356.2,70.9 360.2,70.9 361.2,68.9" stroke="#78787a" stroke-width="0.63" fill="none" stroke-linecap="butt" transform="translate(1.9,1.2)" opacity="0.7"/>
<path d="M 366.1,75.8 C 369.1,91.6 376.0,94.6 380.9,86.7" stroke="#8e8e90" stroke-width="5.92" fill="none" stroke-linecap="butt" stroke-linejoin="round" opacity="1"/>
<path d="M 366.1,75.8 C 369.1,91.6 376.0,94.6 380.9,86.7" stroke="#b4b4b6" stroke-width="1.96" fill="none" stroke-linecap="butt" transform="translate(-0.7,-0.5)" opacity="0.85"/>
<path d="M 366.1,75.8 C 369.1,91.6 376.0,94.6 380.9,86.7" stroke="#78787a" stroke-width="0.95" fill="none" stroke-linecap="butt" transform="translate(1.9,1.2)" opacity="0.7"/>
<path d="M 381.9,79.8 C 385.9,70.9 389.8,67.9 392.8,67.9" stroke="#98989a" stroke-width="4.34" fill="none" stroke-linecap="butt" stroke-linejoin="round" opacity="1"/>
<path d="M 381.9,79.8 C 385.9,70.9 389.8,67.9 392.8,67.9" stroke="#bebec0" stroke-width="1.43" fill="none" stroke-linecap="butt" transform="translate(-0.7,-0.5)" opacity="0.85"/>
<path d="M 381.9,79.8 C 385.9,70.9 389.8,67.9 392.8,67.9" stroke="#828284" stroke-width="0.70" fill="none" stroke-linecap="butt" transform="translate(1.9,1.2)" opacity="0.7"/>
<path d="M 383.9,78.8 C 391.8,75.8 399.7,79.8 400.7,91.6" stroke="#848486" stroke-width="5.53" fill="none" stroke-linecap="butt" stroke-linejoin="round" opacity="1"/>
<path d="M 383.9,78.8 C 391.8,75.8 399.7,79.8 400.7,91.6" stroke="#aaaaac" stroke-width="1.82" fill="none" stroke-linecap="butt" transform="translate(-0.7,-0.5)" opacity="0.85"/>
<path d="M 383.9,78.8 C 391.8,75.8 399.7,79.8 400.7,91.6" stroke="#6e6e70" stroke-width="0.88" fill="none" stroke-linecap="butt" transform="translate(1.9,1.2)" opacity="0.7"/>
<path d="M 385.9,94.6 C 391.8,103.5 399.7,103.5 401.7,97.5" stroke="#7f7f81" stroke-width="6.91" fill="none" stroke-linecap="butt" stroke-linejoin="round" opacity="1"/>
<path d="M 385.9,94.6 C 391.8,103.5 399.7,103.5 401.7,97.5" stroke="#a5a5a7" stroke-width="2.28" fill="none" stroke-linecap="butt" transform="translate(-0.7,-0.5)" opacity="0.85"/>
<path d="M 385.9,94.6 C 391.8,103.5 399.7,103.5 401.7,97.5" stroke="#69696b" stroke-width="1.11" fill="none" stroke-linecap="butt" transform="translate(1.9,1.2)" opacity="0.7"/>
<path d="M 321.7,85.7 C 324.6,94.6 330.6,96.6 334.5,91.6" stroke="#98989a" stroke-width="4.94" fill="none" stroke-linecap="butt" stroke-linejoin="round" opacity="1"/>
<path d="M 321.7,85.7 C 324.6,94.6 330.6,96.6 334.5,91.6" stroke="#bebec0" stroke-width="1.63" fill="none" stroke-linecap="butt" transform="translate(-0.7,-0.5)" opacity="0.85"/>
<path d="M 321.7,85.7 C 324.6,94.6 330.6,96.6 334.5,91.6" stroke="#828284" stroke-width="0.79" fill="none" stroke-linecap="butt" transform="translate(1.9,1.2)" opacity="0.7"/>
<path d="M 329.6,101.5 C 326.6,113.3 329.6,123.2 338.5,123.2" stroke="#98989a" stroke-width="6.52" fill="none" stroke-linecap="butt" stroke-linejoin="round" opacity="1"/>
<path d="M 329.6,101.5 C 326.6,113.3 329.6,123.2 338.5,123.2" stroke="#bebec0" stroke-width="2.15" fill="none" stroke-linecap="butt" transform="translate(-0.7,-0.5)" opacity="0.85"/>
<path d="M 329.6,101.5 C 326.6,113.3 329.6,123.2 338.5,123.2" stroke="#828284" stroke-width="1.04" fill="none" stroke-linecap="butt" transform="translate(1.9,1.2)" opacity="0.7"/>
<path d="M 356.2,111.4 C 352.3,121.2 355.3,131.1 352.3,140.0" stroke="#939395" stroke-width="6.52" fill="none" stroke-linecap="butt" stroke-linejoin="round" opacity="1"/>
<path d="M 356.2,111.4 C 352.3,121.2 355.3,131.1 352.3,140.0" stroke="#b9b9bb" stroke-width="2.15" fill="none" stroke-linecap="butt" transform="translate(-0.7,-0.5)" opacity="0.85"/>
<path d="M 356.2,111.4 C 352.3,121.2 355.3,131.1 352.3,140.0" stroke="#7d7d7f" stroke-width="1.04" fill="none" stroke-linecap="butt" transform="translate(1.9,1.2)" opacity="0.7"/>
<path d="M 338.5,111.4 C 348.3,108.4 352.3,115.3 356.2,123.2" stroke="#a2a2a4" stroke-width="5.53" fill="none" stroke-linecap="butt" stroke-linejoin="round" opacity="1"/>
<path d="M 338.5,111.4 C 348.3,108.4 352.3,115.3 356.2,123.2" stroke="#c8c8ca" stroke-width="1.82" fill="none" stroke-linecap="butt" transform="translate(-0.7,-0.5)" opacity="0.85"/>
<path d="M 338.5,111.4 C 348.3,108.4 352.3,115.3 356.2,123.2" stroke="#8c8c8e" stroke-width="0.88" fill="none" stroke-linecap="butt" transform="translate(1.9,1.2)" opacity="0.7"/>
<path d="M 360.2,108.4 C 366.1,104.5 372.0,105.4 376.0,113.3" stroke="#a2a2a4" stroke-width="4.94" fill="none" stroke-linecap="butt" stroke-linejoin="round" opacity="1"/>
<path d="M 360.2,108.4 C 366.1,104.5 372.0,105.4 376.0,113.3" stroke="#c8c8ca" stroke-width="1.63" fill="none" stroke-linecap="butt" transform="translate(-0.7,-0.5)" opacity="0.85"/>
<path d="M 360.2,108.4 C 366.1,104.5 372.0,105.4 376.0,113.3" stroke="#8c8c8e" stroke-width="0.79" fill="none" stroke-linecap="butt" transform="translate(1.9,1.2)" opacity="0.7"/>
<path d="M 356.2,129.1 C 366.1,121.2 376.0,123.2 381.9,140.0" stroke="#89898b" stroke-width="6.12" fill="none" stroke-linecap="butt" stroke-linejoin="round" opacity="1"/>
<path d="M 356.2,129.1 C 366.1,121.2 376.0,123.2 381.9,140.0" stroke="#afafb1" stroke-width="2.02" fill="none" stroke-linecap="butt" transform="translate(-0.7,-0.5)" opacity="0.85"/>
<path d="M 356.2,129.1 C 366.1,121.2 376.0,123.2 381.9,140.0" stroke="#737375" stroke-width="0.98" fill="none" stroke-linecap="butt" transform="translate(1.9,1.2)" opacity="0.7"/>
<path d="M 383.9,127.2 C 390.8,121.2 399.7,125.2 401.7,140.0" stroke="#89898b" stroke-width="5.92" fill="none" stroke-linecap="butt" stroke-linejoin="round" opacity="1"/>
<path d="M 383.9,127.2 C 390.8,121.2 399.7,125.2 401.7,140.0" stroke="#afafb1" stroke-width="1.96" fill="none" stroke-linecap="butt" transform="translate(-0.7,-0.5)" opacity="0.85"/>
<path d="M 383.9,127.2 C 390.8,121.2 399.7,125.2 401.7,140.0" stroke="#737375" stroke-width="0.95" fill="none" stroke-linecap="butt" transform="translate(1.9,1.2)" opacity="0.7"/>
<path d="M 372.0,137.0 C 378.0,135.1 383.9,138.0 385.9,141.0" stroke="#98989a" stroke-width="4.94" fill="none" stroke-linecap="butt" stroke-linejoin="round" opacity="1"/>
<path d="M 372.0,137.0 C 378.0,135.1 383.9,138.0 385.9,141.0" stroke="#bebec0" stroke-width="1.63" fill="none" stroke-linecap="butt" transform="translate(-0.7,-0.5)" opacity="0.85"/>
<path d="M 372.0,137.0 C 378.0,135.1 383.9,138.0 385.9,141.0" stroke="#828284" stroke-width="0.79" fill="none" stroke-linecap="butt" transform="translate(1.9,1.2)" opacity="0.7"/>
<path d="M 395.7,117.3 C 399.7,121.2 400.7,125.2 401.7,131.1" stroke="#98989a" stroke-width="4.34" fill="none" stroke-linecap="butt" stroke-linejoin="round" opacity="1"/>
<path d="M 395.7,117.3 C 399.7,121.2 400.7,125.2 401.7,131.1" stroke="#bebec0" stroke-width="1.43" fill="none" stroke-linecap="butt" transform="translate(-0.7,-0.5)" opacity="0.85"/>
<path d="M 395.7,117.3 C 399.7,121.2 400.7,125.2 401.7,131.1" stroke="#828284" stroke-width="0.70" fill="none" stroke-linecap="butt" transform="translate(1.9,1.2)" opacity="0.7"/>
</g>
<polyline points="305.39,130.83 310.33,129.94" stroke="#2a2f7a" stroke-width="1.3" fill="none" stroke-linejoin="round" stroke-linecap="round"/>
<polyline points="310.33,129.94 310.82,125.20" stroke="#d0605a" stroke-width="1.2" fill="none" stroke-linejoin="round" stroke-linecap="round"/>
<polyline points="310.33,129.94 317.74,129.15 325.64,133.10 333.54,130.63 339.46,130.13" stroke="#e9a648" stroke-width="1.5" fill="none" stroke-linejoin="round" stroke-linecap="round"/>
<polyline points="317.74,129.15 321.69,127.17 331.56,128.65 333.54,130.63" stroke="#e9a648" stroke-width="1.4" fill="none" stroke-linejoin="round" stroke-linecap="round"/>
<polyline points="339.46,130.13 346.37,129.15 350.32,123.72" stroke="#e9a648" stroke-width="1.5" fill="none" stroke-linejoin="round" stroke-linecap="round"/>
<polyline points="350.32,123.72 360.20,123.22 366.12,117.30 372.05,114.34 376.00,108.41 384.88,104.46" stroke="#e9a648" stroke-width="1.6" fill="none" stroke-linejoin="round" stroke-linecap="round"/>
<polyline points="376.00,108.41 381.92,102.98 385.87,103.47 384.88,106.44 378.96,111.37" stroke="#e9a648" stroke-width="1.4" fill="none" stroke-linejoin="round" stroke-linecap="round"/>
<polyline points="380.93,100.02 381.43,103.47" stroke="#333" stroke-width="1.3" fill="none" stroke-linejoin="round" stroke-linecap="round"/>
<circle cx="340.45" cy="129.64" r="1.20" fill="#3b3f9a" stroke="none" stroke-width="1" />
<circle cx="350.32" cy="123.72" r="1.20" fill="#2a2f7a" stroke="none" stroke-width="1" />
<circle cx="379.45" cy="112.16" r="1.30" fill="#2a2f7a" stroke="none" stroke-width="1" />
<rect x="300.30" y="65.50" width="103.30" height="78.70" fill="none" stroke="#5e76b0" stroke-width="1.3" />
<g id="sim">
<circle cx="500.49" cy="222.70" r="4.40" fill="#e4e0e1" stroke="#1a1a1a" stroke-width="1.4" />
<circle cx="544.86" cy="224.33" r="4.40" fill="#e4e0e1" stroke="#1a1a1a" stroke-width="1.4" />
<circle cx="563.88" cy="255.11" r="4.40" fill="#e4e0e1" stroke="#1a1a1a" stroke-width="1.4" />
<circle cx="495.42" cy="268.70" r="4.40" fill="#e4e0e1" stroke="#1a1a1a" stroke-width="1.4" />
<circle cx="525.30" cy="279.20" r="4.40" fill="#e4e0e1" stroke="#1a1a1a" stroke-width="1.4" />
<circle cx="563.70" cy="277.57" r="4.40" fill="#e4e0e1" stroke="#1a1a1a" stroke-width="1.4" />
<circle cx="509.19" cy="295.14" r="4.40" fill="#e4e0e1" stroke="#1a1a1a" stroke-width="1.4" />
<circle cx="583.07" cy="216.72" r="4.40" fill="#e4e0e1" stroke="#1a1a1a" stroke-width="1.4" />
<circle cx="581.81" cy="239.00" r="4.40" fill="#e4e0e1" stroke="#1a1a1a" stroke-width="1.4" />
<circle cx="597.38" cy="271.77" r="4.40" fill="#e4e0e1" stroke="#1a1a1a" stroke-width="1.4" />
<circle cx="583.07" cy="291.33" r="4.40" fill="#e4e0e1" stroke="#1a1a1a" stroke-width="1.4" />
<circle cx="628.53" cy="286.08" r="4.40" fill="#e4e0e1" stroke="#1a1a1a" stroke-width="1.4" />
<circle cx="654.61" cy="271.77" r="4.40" fill="#e4e0e1" stroke="#1a1a1a" stroke-width="1.4" />
<circle cx="643.02" cy="208.39" r="4.40" fill="#e4e0e1" stroke="#1a1a1a" stroke-width="1.4" />
<circle cx="651.89" cy="225.78" r="4.40" fill="#e4e0e1" stroke="#1a1a1a" stroke-width="1.4" />
<circle cx="628.89" cy="259.46" r="4.40" fill="#e4e0e1" stroke="#1a1a1a" stroke-width="1.4" />
<circle cx="512.99" cy="245.15" r="4.40" fill="#fbdcc5" stroke="#1a1a1a" stroke-width="1.4" />
<circle cx="549.93" cy="265.07" r="4.40" fill="#fbdcc5" stroke="#1a1a1a" stroke-width="1.4" />
<circle cx="612.59" cy="220.34" r="4.40" fill="#fbdcc5" stroke="#1a1a1a" stroke-width="1.4" />
<circle cx="606.07" cy="243.16" r="4.40" fill="#fbdcc5" stroke="#1a1a1a" stroke-width="1.4" />
<circle cx="533.50" cy="252.40" r="28.10" fill="none" stroke="#1a1a1a" stroke-width="1.5" />
<circle cx="622.90" cy="232.20" r="28.30" fill="none" stroke="#1a1a1a" stroke-width="1.5" />
<line x1="522.59" y1="229.76" x2="534.36" y2="252.40" stroke="#e9a3a1" stroke-width="1.9" />
<line x1="522.59" y1="229.76" x2="522.49" y2="234.76" stroke="#e9a3a1" stroke-width="1.9" stroke-linecap="round"/>
<line x1="522.59" y1="229.76" x2="526.74" y2="232.55" stroke="#e9a3a1" stroke-width="1.9" stroke-linecap="round"/>
<line x1="534.36" y1="252.40" x2="534.46" y2="247.40" stroke="#e9a3a1" stroke-width="1.9" stroke-linecap="round"/>
<line x1="534.36" y1="252.40" x2="530.21" y2="249.61" stroke="#e9a3a1" stroke-width="1.9" stroke-linecap="round"/>
<line x1="534.36" y1="247.81" x2="534.36" y2="262.41" stroke="#2f6a9c" stroke-width="3.0" />
<line x1="540.68" y1="251.46" x2="528.04" y2="258.76" stroke="#2f6a9c" stroke-width="3.0" />
<line x1="540.68" y1="258.76" x2="528.04" y2="251.46" stroke="#2f6a9c" stroke-width="3.0" />
<polygon points="624.91,225.27 632.61,240.77 624.91,237.36 617.21,240.77" fill="#2f6a9c" stroke="none" stroke-width="1" />
<line x1="604.50" y1="299.80" x2="630.00" y2="299.80" stroke="#e9a3a1" stroke-width="2.0" />
<line x1="603.80" y1="299.80" x2="608.40" y2="303.40" stroke="#e9a3a1" stroke-width="2.0" stroke-linecap="round"/>
<line x1="603.80" y1="299.80" x2="608.40" y2="296.20" stroke="#e9a3a1" stroke-width="2.0" stroke-linecap="round"/>
<line x1="630.80" y1="299.80" x2="626.20" y2="303.40" stroke="#e9a3a1" stroke-width="2.0" stroke-linecap="round"/>
<line x1="630.80" y1="299.80" x2="626.20" y2="296.20" stroke="#e9a3a1" stroke-width="2.0" stroke-linecap="round"/>
<text x="636.00" y="304.90" font-size="14.3" fill="#e9a3a1" font-weight="normal" text-anchor="start" stroke="#e9a3a1" stroke-width="0.35">Tc &gt; 0.3</text>
<line x1="517.60" y1="132.50" x2="517.60" y2="148.10" stroke="#2f6a9c" stroke-width="3.2" />
<line x1="524.35" y1="136.40" x2="510.85" y2="144.20" stroke="#2f6a9c" stroke-width="3.2" />
<line x1="524.35" y1="144.20" x2="510.85" y2="136.40" stroke="#2f6a9c" stroke-width="3.2" />
<polygon points="640.50,130.35 648.00,144.85 640.50,141.66 633.00,144.85" fill="#2f6a9c" stroke="none" stroke-width="1" />
</g>
<g id="chem">
<line x1="484.56" y1="86.46" x2="491.06" y2="90.36" stroke="#3c3c3c" stroke-width="0.9" />
<line x1="484.72" y1="88.25" x2="489.40" y2="91.05" stroke="#3c3c3c" stroke-width="0.9" />
<line x1="491.06" y1="90.36" x2="491.06" y2="98.15" stroke="#3c3c3c" stroke-width="0.9" />
<line x1="491.06" y1="98.15" x2="484.56" y2="102.22" stroke="#3c3c3c" stroke-width="0.9" />
<line x1="489.38" y1="97.49" x2="484.70" y2="100.42" stroke="#3c3c3c" stroke-width="0.9" />
<line x1="484.56" y1="102.22" x2="478.06" y2="98.41" stroke="#3c3c3c" stroke-width="0.9" />
<line x1="478.06" y1="98.41" x2="478.06" y2="90.61" stroke="#3c3c3c" stroke-width="0.9" />
<line x1="479.51" y1="97.32" x2="479.51" y2="91.71" stroke="#3c3c3c" stroke-width="0.9" />
<line x1="478.06" y1="90.61" x2="484.56" y2="86.46" stroke="#3c3c3c" stroke-width="0.9" />
<line x1="491.06" y1="98.15" x2="497.99" y2="101.62" stroke="#3c3c3c" stroke-width="0.9" />
<line x1="497.99" y1="101.62" x2="501.66" y2="99.67" stroke="#3c3c3c" stroke-width="0.9" />
<line x1="504.05" y1="95.71" x2="504.05" y2="90.36" stroke="#3c3c3c" stroke-width="0.9" />
<line x1="504.05" y1="90.36" x2="510.72" y2="86.46" stroke="#3c3c3c" stroke-width="0.9" />
<line x1="510.72" y1="86.46" x2="515.17" y2="89.20" stroke="#3c3c3c" stroke-width="0.9" />
<line x1="517.47" y1="93.31" x2="517.47" y2="97.89" stroke="#3c3c3c" stroke-width="0.9" />
<line x1="517.47" y1="97.89" x2="510.98" y2="101.88" stroke="#3c3c3c" stroke-width="0.9" />
<line x1="510.98" y1="101.88" x2="506.46" y2="99.62" stroke="#3c3c3c" stroke-width="0.9" />
<line x1="519.75" y1="89.16" x2="523.97" y2="86.46" stroke="#3c3c3c" stroke-width="0.9" />
<line x1="523.97" y1="86.46" x2="530.90" y2="90.36" stroke="#3c3c3c" stroke-width="0.9" />
<line x1="530.90" y1="90.36" x2="537.40" y2="86.46" stroke="#3c3c3c" stroke-width="0.9" />
<line x1="537.40" y1="86.46" x2="541.77" y2="89.19" stroke="#3c3c3c" stroke-width="0.9" />
<line x1="530.90" y1="90.36" x2="530.90" y2="95.49" stroke="#3c3c3c" stroke-width="0.9" />
<line x1="557.32" y1="74.76" x2="564.25" y2="78.66" stroke="#3c3c3c" stroke-width="0.9" />
<line x1="564.25" y1="78.66" x2="564.25" y2="86.46" stroke="#3c3c3c" stroke-width="0.9" />
<line x1="562.80" y1="79.75" x2="562.80" y2="85.37" stroke="#3c3c3c" stroke-width="0.9" />
<line x1="564.25" y1="86.46" x2="557.32" y2="90.36" stroke="#3c3c3c" stroke-width="0.9" />
<line x1="557.32" y1="90.36" x2="550.82" y2="86.46" stroke="#3c3c3c" stroke-width="0.9" />
<line x1="557.15" y1="88.57" x2="552.48" y2="85.76" stroke="#3c3c3c" stroke-width="0.9" />
<line x1="550.82" y1="86.46" x2="550.82" y2="78.66" stroke="#3c3c3c" stroke-width="0.9" />
<line x1="550.82" y1="78.66" x2="557.32" y2="74.76" stroke="#3c3c3c" stroke-width="0.9" />
<line x1="552.48" y1="79.36" x2="557.15" y2="76.55" stroke="#3c3c3c" stroke-width="0.9" />
<line x1="546.37" y1="89.20" x2="550.82" y2="86.46" stroke="#3c3c3c" stroke-width="0.9" />
<line x1="550.82" y1="78.66" x2="546.81" y2="76.95" stroke="#3c3c3c" stroke-width="0.9" />
<line x1="541.88" y1="77.03" x2="538.00" y2="78.83" stroke="#3c3c3c" stroke-width="0.9" />
<line x1="564.25" y1="78.66" x2="570.74" y2="75.20" stroke="#3c3c3c" stroke-width="0.9" />
<line x1="570.74" y1="75.20" x2="577.24" y2="78.83" stroke="#3c3c3c" stroke-width="0.9" />
<line x1="570.95" y1="76.97" x2="575.62" y2="79.59" stroke="#3c3c3c" stroke-width="0.9" />
<line x1="577.24" y1="78.83" x2="583.74" y2="75.37" stroke="#3c3c3c" stroke-width="0.9" />
<text x="504.05" y="100.68" font-size="6.3" fill="#222" font-weight="normal" text-anchor="middle" >N</text>
<text x="517.47" y="92.88" font-size="6.3" fill="#222" font-weight="normal" text-anchor="middle" >N</text>
<text x="544.07" y="92.88" font-size="6.3" fill="#222" font-weight="normal" text-anchor="middle" >O</text>
<text x="544.33" y="78.16" font-size="6.3" fill="#222" font-weight="normal" text-anchor="middle" >O</text>
<text x="528.73" y="100.68" font-size="6.3" fill="#222" font-weight="normal" text-anchor="start" >OH</text>
<line x1="615.78" y1="92.32" x2="622.28" y2="95.95" stroke="#3c3c3c" stroke-width="0.9" />
<line x1="622.28" y1="95.95" x2="622.28" y2="103.58" stroke="#3c3c3c" stroke-width="0.9" />
<line x1="620.83" y1="97.02" x2="620.83" y2="102.51" stroke="#3c3c3c" stroke-width="0.9" />
<line x1="622.28" y1="103.58" x2="615.78" y2="107.47" stroke="#3c3c3c" stroke-width="0.9" />
<line x1="615.78" y1="107.47" x2="609.28" y2="103.58" stroke="#3c3c3c" stroke-width="0.9" />
<line x1="615.62" y1="105.69" x2="610.94" y2="102.88" stroke="#3c3c3c" stroke-width="0.9" />
<line x1="609.28" y1="103.58" x2="609.28" y2="95.95" stroke="#3c3c3c" stroke-width="0.9" />
<line x1="609.28" y1="95.95" x2="615.78" y2="92.32" stroke="#3c3c3c" stroke-width="0.9" />
<line x1="610.90" y1="96.71" x2="615.58" y2="94.09" stroke="#3c3c3c" stroke-width="0.9" />
<line x1="609.28" y1="95.95" x2="602.36" y2="91.88" stroke="#3c3c3c" stroke-width="0.9" />
<line x1="602.36" y1="91.88" x2="602.36" y2="87.09" stroke="#3c3c3c" stroke-width="0.9" />
<line x1="602.36" y1="91.88" x2="597.98" y2="89.55" stroke="#3c3c3c" stroke-width="0.9" />
<line x1="602.36" y1="91.88" x2="597.82" y2="95.09" stroke="#3c3c3c" stroke-width="0.9" />
<line x1="622.28" y1="95.95" x2="626.35" y2="93.94" stroke="#3c3c3c" stroke-width="0.9" />
<line x1="631.19" y1="93.94" x2="635.27" y2="95.95" stroke="#3c3c3c" stroke-width="0.9" />
<line x1="635.27" y1="95.95" x2="639.75" y2="93.88" stroke="#3c3c3c" stroke-width="0.9" />
<line x1="634.42" y1="95.95" x2="634.42" y2="101.57" stroke="#3c3c3c" stroke-width="0.9" />
<line x1="636.12" y1="95.95" x2="636.12" y2="101.57" stroke="#3c3c3c" stroke-width="0.9" />
<line x1="644.62" y1="93.94" x2="648.70" y2="95.95" stroke="#3c3c3c" stroke-width="0.9" />
<line x1="648.70" y1="95.95" x2="655.19" y2="92.49" stroke="#3c3c3c" stroke-width="0.9" />
<line x1="655.19" y1="92.49" x2="662.12" y2="95.95" stroke="#3c3c3c" stroke-width="0.9" />
<line x1="662.12" y1="95.95" x2="666.16" y2="94.12" stroke="#3c3c3c" stroke-width="0.9" />
<line x1="669.47" y1="90.45" x2="671.22" y2="85.21" stroke="#3c3c3c" stroke-width="0.9" />
<line x1="671.22" y1="85.21" x2="674.77" y2="83.79" stroke="#3c3c3c" stroke-width="0.9" />
<line x1="672.25" y1="86.36" x2="675.31" y2="85.14" stroke="#3c3c3c" stroke-width="0.9" />
<line x1="678.93" y1="84.93" x2="681.61" y2="88.42" stroke="#3c3c3c" stroke-width="0.9" />
<line x1="681.61" y1="88.42" x2="675.55" y2="94.74" stroke="#3c3c3c" stroke-width="0.9" />
<line x1="679.71" y1="88.30" x2="675.35" y2="92.85" stroke="#3c3c3c" stroke-width="0.9" />
<line x1="675.55" y1="94.74" x2="671.24" y2="93.66" stroke="#3c3c3c" stroke-width="0.9" />
<line x1="664.72" y1="79.32" x2="666.02" y2="71.53" stroke="#3c3c3c" stroke-width="0.9" />
<line x1="663.47" y1="77.99" x2="664.41" y2="72.38" stroke="#3c3c3c" stroke-width="0.9" />
<line x1="666.02" y1="71.53" x2="659.96" y2="66.33" stroke="#3c3c3c" stroke-width="0.9" />
<line x1="659.96" y1="66.33" x2="652.59" y2="68.93" stroke="#3c3c3c" stroke-width="0.9" />
<line x1="659.41" y1="68.06" x2="654.11" y2="69.93" stroke="#3c3c3c" stroke-width="0.9" />
<line x1="652.59" y1="68.93" x2="651.29" y2="76.29" stroke="#3c3c3c" stroke-width="0.9" />
<line x1="651.29" y1="76.29" x2="657.36" y2="81.49" stroke="#3c3c3c" stroke-width="0.9" />
<line x1="653.09" y1="75.92" x2="657.45" y2="79.66" stroke="#3c3c3c" stroke-width="0.9" />
<line x1="657.36" y1="81.49" x2="664.72" y2="79.32" stroke="#3c3c3c" stroke-width="0.9" />
<line x1="671.22" y1="85.21" x2="664.72" y2="79.32" stroke="#3c3c3c" stroke-width="0.9" />
<text x="602.36" y="86.96" font-size="6.3" fill="#222" font-weight="normal" text-anchor="middle" >F</text>
<text x="595.86" y="90.69" font-size="6.3" fill="#222" font-weight="normal" text-anchor="middle" >F</text>
<text x="595.86" y="98.74" font-size="6.3" fill="#222" font-weight="normal" text-anchor="middle" >F</text>
<text x="628.77" y="95.02" font-size="6.3" fill="#222" font-weight="normal" text-anchor="middle" >N</text>
<text x="642.20" y="95.02" font-size="6.3" fill="#222" font-weight="normal" text-anchor="middle" >N</text>
<text x="635.27" y="106.54" font-size="6.3" fill="#222" font-weight="normal" text-anchor="middle" >O</text>
<text x="668.62" y="95.28" font-size="6.3" fill="#222" font-weight="normal" text-anchor="middle" >N</text>
<text x="677.28" y="85.06" font-size="6.3" fill="#222" font-weight="normal" text-anchor="middle" >N</text>
<text x="628.77" y="88.35" font-size="6.3" fill="#222" font-weight="normal" text-anchor="middle" >H</text>
<text x="642.20" y="88.35" font-size="6.3" fill="#222" font-weight="normal" text-anchor="middle" >H</text>
<line x1="797.95" y1="75.32" x2="805.03" y2="79.38" stroke="#3c3c3c" stroke-width="0.9" />
<line x1="798.22" y1="77.14" x2="803.32" y2="80.07" stroke="#3c3c3c" stroke-width="0.9" />
<line x1="805.03" y1="79.38" x2="805.03" y2="87.60" stroke="#3c3c3c" stroke-width="0.9" />
<line x1="805.03" y1="87.60" x2="797.95" y2="91.66" stroke="#3c3c3c" stroke-width="0.9" />
<line x1="803.32" y1="86.91" x2="798.22" y2="89.84" stroke="#3c3c3c" stroke-width="0.9" />
<line x1="797.95" y1="91.66" x2="790.67" y2="87.60" stroke="#3c3c3c" stroke-width="0.9" />
<line x1="790.67" y1="87.60" x2="790.67" y2="79.38" stroke="#3c3c3c" stroke-width="0.9" />
<line x1="792.12" y1="86.45" x2="792.12" y2="80.53" stroke="#3c3c3c" stroke-width="0.9" />
<line x1="790.67" y1="79.38" x2="797.95" y2="75.32" stroke="#3c3c3c" stroke-width="0.9" />
<line x1="805.03" y1="87.60" x2="811.93" y2="91.38" stroke="#3c3c3c" stroke-width="0.9" />
<line x1="811.93" y1="91.38" x2="816.13" y2="89.28" stroke="#3c3c3c" stroke-width="0.9" />
<line x1="818.54" y1="85.37" x2="818.54" y2="80.04" stroke="#3c3c3c" stroke-width="0.9" />
<line x1="818.54" y1="80.04" x2="826.10" y2="75.32" stroke="#3c3c3c" stroke-width="0.9" />
<line x1="826.10" y1="75.32" x2="830.90" y2="78.32" stroke="#3c3c3c" stroke-width="0.9" />
<line x1="833.19" y1="82.46" x2="833.19" y2="87.60" stroke="#3c3c3c" stroke-width="0.9" />
<line x1="833.19" y1="87.60" x2="826.10" y2="91.66" stroke="#3c3c3c" stroke-width="0.9" />
<line x1="826.10" y1="91.66" x2="820.98" y2="89.23" stroke="#3c3c3c" stroke-width="0.9" />
<line x1="835.43" y1="78.25" x2="839.80" y2="75.32" stroke="#3c3c3c" stroke-width="0.9" />
<line x1="839.80" y1="75.32" x2="846.89" y2="79.38" stroke="#3c3c3c" stroke-width="0.9" />
<line x1="846.89" y1="79.38" x2="854.45" y2="75.32" stroke="#3c3c3c" stroke-width="0.9" />
<line x1="854.45" y1="75.32" x2="859.25" y2="78.32" stroke="#3c3c3c" stroke-width="0.9" />
<polygon points="846.89,79.38 845.69,84.75 848.09,84.75" fill="#222" stroke="none" stroke-width="1" />
<line x1="875.71" y1="62.56" x2="882.80" y2="66.81" stroke="#3c3c3c" stroke-width="0.9" />
<line x1="882.80" y1="66.81" x2="882.80" y2="75.32" stroke="#3c3c3c" stroke-width="0.9" />
<line x1="881.35" y1="68.00" x2="881.35" y2="74.13" stroke="#3c3c3c" stroke-width="0.9" />
<line x1="882.80" y1="75.32" x2="875.71" y2="79.38" stroke="#3c3c3c" stroke-width="0.9" />
<line x1="875.71" y1="79.38" x2="868.62" y2="75.32" stroke="#3c3c3c" stroke-width="0.9" />
<line x1="875.44" y1="77.55" x2="870.34" y2="74.63" stroke="#3c3c3c" stroke-width="0.9" />
<line x1="868.62" y1="75.32" x2="868.62" y2="66.81" stroke="#3c3c3c" stroke-width="0.9" />
<line x1="868.62" y1="66.81" x2="875.71" y2="62.56" stroke="#3c3c3c" stroke-width="0.9" />
<line x1="870.36" y1="67.46" x2="875.47" y2="64.40" stroke="#3c3c3c" stroke-width="0.9" />
<line x1="863.83" y1="78.32" x2="868.62" y2="75.32" stroke="#3c3c3c" stroke-width="0.9" />
<line x1="868.62" y1="66.81" x2="864.64" y2="65.01" stroke="#3c3c3c" stroke-width="0.9" />
<line x1="882.80" y1="66.81" x2="886.78" y2="65.01" stroke="#3c3c3c" stroke-width="0.9" />
<text x="818.54" y="90.34" font-size="6.3" fill="#222" font-weight="normal" text-anchor="middle" >N</text>
<text x="833.19" y="82.02" font-size="6.3" fill="#222" font-weight="normal" text-anchor="middle" >N</text>
<text x="861.54" y="82.02" font-size="6.3" fill="#222" font-weight="normal" text-anchor="middle" >O</text>
<text x="833.19" y="76.39" font-size="5.6" fill="#222" font-weight="normal" text-anchor="middle" >H</text>
<text x="833.19" y="69.09" font-size="4.5" fill="#222" font-weight="normal" text-anchor="middle" >+</text>
<text x="845.47" y="89.88" font-size="5.8" fill="#222" font-weight="normal" text-anchor="start" >OH</text>
<text x="860.12" y="65.59" font-size="5.8" fill="#222" font-weight="normal" text-anchor="middle" >Br</text>
<text x="891.02" y="65.59" font-size="5.8" fill="#222" font-weight="normal" text-anchor="middle" >Br</text>
<line x1="804.65" y1="132.13" x2="811.46" y2="136.10" stroke="#3c3c3c" stroke-width="0.9" />
<line x1="804.88" y1="133.93" x2="809.77" y2="136.79" stroke="#3c3c3c" stroke-width="0.9" />
<line x1="811.46" y1="136.10" x2="811.46" y2="143.94" stroke="#3c3c3c" stroke-width="0.9" />
<line x1="811.46" y1="143.94" x2="804.65" y2="147.91" stroke="#3c3c3c" stroke-width="0.9" />
<line x1="809.77" y1="143.24" x2="804.88" y2="146.10" stroke="#3c3c3c" stroke-width="0.9" />
<line x1="804.65" y1="147.91" x2="797.95" y2="143.94" stroke="#3c3c3c" stroke-width="0.9" />
<line x1="797.95" y1="143.94" x2="797.95" y2="136.10" stroke="#3c3c3c" stroke-width="0.9" />
<line x1="799.40" y1="142.84" x2="799.40" y2="137.19" stroke="#3c3c3c" stroke-width="0.9" />
<line x1="797.95" y1="136.10" x2="804.65" y2="132.13" stroke="#3c3c3c" stroke-width="0.9" />
<line x1="811.46" y1="143.94" x2="818.26" y2="147.91" stroke="#3c3c3c" stroke-width="0.9" />
<line x1="818.26" y1="147.91" x2="822.76" y2="145.56" stroke="#3c3c3c" stroke-width="0.9" />
<line x1="818.54" y1="155.94" x2="825.44" y2="159.91" stroke="#3c3c3c" stroke-width="0.9" />
<line x1="818.79" y1="157.75" x2="823.75" y2="160.61" stroke="#3c3c3c" stroke-width="0.9" />
<line x1="825.44" y1="159.91" x2="825.44" y2="167.75" stroke="#3c3c3c" stroke-width="0.9" />
<line x1="825.44" y1="167.75" x2="818.54" y2="171.72" stroke="#3c3c3c" stroke-width="0.9" />
<line x1="823.75" y1="167.05" x2="818.79" y2="169.91" stroke="#3c3c3c" stroke-width="0.9" />
<line x1="818.54" y1="171.72" x2="811.65" y2="167.75" stroke="#3c3c3c" stroke-width="0.9" />
<line x1="811.65" y1="167.75" x2="811.65" y2="159.91" stroke="#3c3c3c" stroke-width="0.9" />
<line x1="813.10" y1="166.65" x2="813.10" y2="161.01" stroke="#3c3c3c" stroke-width="0.9" />
<line x1="811.65" y1="159.91" x2="818.54" y2="155.94" stroke="#3c3c3c" stroke-width="0.9" />
<line x1="818.26" y1="147.91" x2="818.54" y2="155.94" stroke="#3c3c3c" stroke-width="0.9" />
<line x1="825.16" y1="141.62" x2="825.16" y2="136.38" stroke="#3c3c3c" stroke-width="0.9" />
<line x1="825.16" y1="136.38" x2="831.96" y2="132.13" stroke="#3c3c3c" stroke-width="0.9" />
<line x1="831.96" y1="132.13" x2="836.56" y2="134.96" stroke="#3c3c3c" stroke-width="0.9" />
<line x1="838.86" y1="139.08" x2="838.86" y2="143.94" stroke="#3c3c3c" stroke-width="0.9" />
<line x1="838.86" y1="143.94" x2="831.96" y2="147.91" stroke="#3c3c3c" stroke-width="0.9" />
<line x1="831.96" y1="147.91" x2="827.55" y2="145.58" stroke="#3c3c3c" stroke-width="0.9" />
<line x1="841.13" y1="134.92" x2="845.47" y2="132.13" stroke="#3c3c3c" stroke-width="0.9" />
<line x1="845.47" y1="132.13" x2="852.56" y2="136.10" stroke="#3c3c3c" stroke-width="0.9" />
<line x1="852.56" y1="136.10" x2="859.65" y2="132.13" stroke="#3c3c3c" stroke-width="0.9" />
<line x1="859.65" y1="132.13" x2="863.99" y2="134.92" stroke="#3c3c3c" stroke-width="0.9" />
<line x1="852.04" y1="137.27" x2="853.09" y2="137.27" stroke="#333" stroke-width="0.6" />
<line x1="851.81" y1="138.45" x2="853.31" y2="138.45" stroke="#333" stroke-width="0.6" />
<line x1="851.59" y1="139.63" x2="853.54" y2="139.63" stroke="#333" stroke-width="0.6" />
<line x1="851.36" y1="140.80" x2="853.76" y2="140.80" stroke="#333" stroke-width="0.6" />
<line x1="879.96" y1="120.22" x2="886.86" y2="124.09" stroke="#3c3c3c" stroke-width="0.9" />
<line x1="880.22" y1="122.03" x2="885.19" y2="124.82" stroke="#3c3c3c" stroke-width="0.9" />
<line x1="886.86" y1="124.09" x2="886.86" y2="132.13" stroke="#3c3c3c" stroke-width="0.9" />
<line x1="886.86" y1="132.13" x2="879.96" y2="136.10" stroke="#3c3c3c" stroke-width="0.9" />
<line x1="885.17" y1="131.43" x2="880.21" y2="134.28" stroke="#3c3c3c" stroke-width="0.9" />
<line x1="879.96" y1="136.10" x2="873.35" y2="132.13" stroke="#3c3c3c" stroke-width="0.9" />
<line x1="873.35" y1="132.13" x2="873.35" y2="124.09" stroke="#3c3c3c" stroke-width="0.9" />
<line x1="874.80" y1="131.00" x2="874.80" y2="125.22" stroke="#3c3c3c" stroke-width="0.9" />
<line x1="873.35" y1="124.09" x2="879.96" y2="120.22" stroke="#3c3c3c" stroke-width="0.9" />
<line x1="868.58" y1="134.99" x2="873.35" y2="132.13" stroke="#3c3c3c" stroke-width="0.9" />
<line x1="873.35" y1="124.09" x2="868.87" y2="121.89" stroke="#3c3c3c" stroke-width="0.9" />
<line x1="864.04" y1="121.90" x2="859.65" y2="124.09" stroke="#3c3c3c" stroke-width="0.9" />
<text x="825.16" y="146.58" font-size="6.3" fill="#222" font-weight="normal" text-anchor="middle" >N</text>
<text x="838.86" y="138.65" font-size="6.3" fill="#222" font-weight="normal" text-anchor="middle" >N</text>
<text x="866.26" y="138.65" font-size="6.3" fill="#222" font-weight="normal" text-anchor="middle" >O</text>
<text x="866.45" y="122.96" font-size="6.3" fill="#222" font-weight="normal" text-anchor="middle" >O</text>
<text x="838.86" y="132.91" font-size="5.6" fill="#222" font-weight="normal" text-anchor="middle" >H</text>
<text x="838.39" y="126.57" font-size="4.5" fill="#222" font-weight="normal" text-anchor="middle" >+</text>
<text x="851.14" y="146.31" font-size="5.8" fill="#222" font-weight="normal" text-anchor="start" >OH</text>
<line x1="798.89" y1="207.48" x2="805.79" y2="211.54" stroke="#3c3c3c" stroke-width="0.9" />
<line x1="799.12" y1="209.30" x2="804.09" y2="212.22" stroke="#3c3c3c" stroke-width="0.9" />
<line x1="805.79" y1="211.54" x2="805.79" y2="219.48" stroke="#3c3c3c" stroke-width="0.9" />
<line x1="805.79" y1="219.48" x2="798.89" y2="223.54" stroke="#3c3c3c" stroke-width="0.9" />
<line x1="804.09" y1="218.80" x2="799.12" y2="221.73" stroke="#3c3c3c" stroke-width="0.9" />
<line x1="798.89" y1="223.54" x2="792.09" y2="219.48" stroke="#3c3c3c" stroke-width="0.9" />
<line x1="792.09" y1="219.48" x2="792.09" y2="211.54" stroke="#3c3c3c" stroke-width="0.9" />
<line x1="793.54" y1="218.37" x2="793.54" y2="212.66" stroke="#3c3c3c" stroke-width="0.9" />
<line x1="792.09" y1="211.54" x2="798.89" y2="207.48" stroke="#3c3c3c" stroke-width="0.9" />
<line x1="805.79" y1="219.48" x2="812.87" y2="223.26" stroke="#3c3c3c" stroke-width="0.9" />
<line x1="812.87" y1="223.26" x2="819.96" y2="219.48" stroke="#3c3c3c" stroke-width="0.9" />
<line x1="819.96" y1="219.48" x2="827.05" y2="223.26" stroke="#3c3c3c" stroke-width="0.9" />
<line x1="827.05" y1="223.26" x2="831.23" y2="221.23" stroke="#3c3c3c" stroke-width="0.9" />
<line x1="836.12" y1="221.16" x2="840.75" y2="223.26" stroke="#3c3c3c" stroke-width="0.9" />
<line x1="840.75" y1="223.26" x2="845.11" y2="221.20" stroke="#3c3c3c" stroke-width="0.9" />
<line x1="839.90" y1="223.26" x2="839.90" y2="229.07" stroke="#3c3c3c" stroke-width="0.9" />
<line x1="841.60" y1="223.26" x2="841.60" y2="229.07" stroke="#3c3c3c" stroke-width="0.9" />
<line x1="850.01" y1="221.16" x2="854.64" y2="223.26" stroke="#3c3c3c" stroke-width="0.9" />
<line x1="854.64" y1="223.26" x2="861.73" y2="219.48" stroke="#3c3c3c" stroke-width="0.9" />
<line x1="861.73" y1="219.48" x2="868.62" y2="223.26" stroke="#3c3c3c" stroke-width="0.9" />
<line x1="868.62" y1="223.26" x2="872.78" y2="221.36" stroke="#3c3c3c" stroke-width="0.9" />
<line x1="875.84" y1="217.60" x2="877.13" y2="211.92" stroke="#3c3c3c" stroke-width="0.9" />
<line x1="877.13" y1="211.92" x2="881.31" y2="210.84" stroke="#3c3c3c" stroke-width="0.9" />
<line x1="878.08" y1="213.17" x2="881.67" y2="212.24" stroke="#3c3c3c" stroke-width="0.9" />
<line x1="886.27" y1="212.63" x2="888.47" y2="215.70" stroke="#3c3c3c" stroke-width="0.9" />
<line x1="888.47" y1="215.70" x2="882.33" y2="221.65" stroke="#3c3c3c" stroke-width="0.9" />
<line x1="886.60" y1="215.49" x2="882.18" y2="219.78" stroke="#3c3c3c" stroke-width="0.9" />
<line x1="882.33" y1="221.65" x2="877.89" y2="220.77" stroke="#3c3c3c" stroke-width="0.9" />
<line x1="870.51" y1="206.06" x2="871.93" y2="198.03" stroke="#3c3c3c" stroke-width="0.9" />
<line x1="869.28" y1="204.69" x2="870.31" y2="198.90" stroke="#3c3c3c" stroke-width="0.9" />
<line x1="871.93" y1="198.03" x2="865.79" y2="192.83" stroke="#3c3c3c" stroke-width="0.9" />
<line x1="865.79" y1="192.83" x2="858.23" y2="195.20" stroke="#3c3c3c" stroke-width="0.9" />
<line x1="865.16" y1="194.55" x2="859.72" y2="196.25" stroke="#3c3c3c" stroke-width="0.9" />
<line x1="858.23" y1="195.20" x2="856.81" y2="202.76" stroke="#3c3c3c" stroke-width="0.9" />
<line x1="856.81" y1="202.76" x2="862.96" y2="207.95" stroke="#3c3c3c" stroke-width="0.9" />
<line x1="858.61" y1="202.38" x2="863.03" y2="206.12" stroke="#3c3c3c" stroke-width="0.9" />
<line x1="862.96" y1="207.95" x2="870.51" y2="206.06" stroke="#3c3c3c" stroke-width="0.9" />
<line x1="877.13" y1="211.92" x2="870.51" y2="206.06" stroke="#3c3c3c" stroke-width="0.9" />
<text x="833.66" y="222.32" font-size="6.3" fill="#222" font-weight="normal" text-anchor="middle" >N</text>
<text x="847.55" y="222.32" font-size="6.3" fill="#222" font-weight="normal" text-anchor="middle" >N</text>
<text x="840.75" y="234.03" font-size="6.3" fill="#222" font-weight="normal" text-anchor="middle" >O</text>
<text x="875.24" y="222.51" font-size="6.3" fill="#222" font-weight="normal" text-anchor="middle" >N</text>
<text x="833.66" y="216.94" font-size="5.8" fill="#222" font-weight="normal" text-anchor="middle" >H</text>
<text x="847.55" y="216.94" font-size="5.8" fill="#222" font-weight="normal" text-anchor="middle" >H</text>
<text x="882.51" y="212.12" font-size="5.8" fill="#222" font-weight="normal" text-anchor="start" >NH</text>
<text x="890.83" y="209.47" font-size="4.2" fill="#222" font-weight="normal" text-anchor="middle" >+</text>
<line x1="814.48" y1="288.07" x2="821.38" y2="292.04" stroke="#3c3c3c" stroke-width="0.9" />
<line x1="821.38" y1="292.04" x2="821.38" y2="300.17" stroke="#3c3c3c" stroke-width="0.9" />
<line x1="819.93" y1="293.18" x2="819.93" y2="299.03" stroke="#3c3c3c" stroke-width="0.9" />
<line x1="821.38" y1="300.17" x2="814.48" y2="304.14" stroke="#3c3c3c" stroke-width="0.9" />
<line x1="814.48" y1="304.14" x2="807.49" y2="300.17" stroke="#3c3c3c" stroke-width="0.9" />
<line x1="814.22" y1="302.32" x2="809.18" y2="299.46" stroke="#3c3c3c" stroke-width="0.9" />
<line x1="807.49" y1="300.17" x2="807.49" y2="292.04" stroke="#3c3c3c" stroke-width="0.9" />
<line x1="807.49" y1="292.04" x2="814.48" y2="288.07" stroke="#3c3c3c" stroke-width="0.9" />
<line x1="809.18" y1="292.75" x2="814.22" y2="289.89" stroke="#3c3c3c" stroke-width="0.9" />
<line x1="807.49" y1="292.04" x2="802.35" y2="290.05" stroke="#3c3c3c" stroke-width="0.9" />
<line x1="821.38" y1="292.04" x2="826.04" y2="289.74" stroke="#3c3c3c" stroke-width="0.9" />
<line x1="830.89" y1="289.74" x2="835.55" y2="292.04" stroke="#3c3c3c" stroke-width="0.9" />
<line x1="835.55" y1="292.04" x2="840.22" y2="289.74" stroke="#3c3c3c" stroke-width="0.9" />
<line x1="834.70" y1="292.04" x2="834.70" y2="298.32" stroke="#3c3c3c" stroke-width="0.9" />
<line x1="836.40" y1="292.04" x2="836.40" y2="298.32" stroke="#3c3c3c" stroke-width="0.9" />
<line x1="845.06" y1="289.74" x2="849.73" y2="292.04" stroke="#3c3c3c" stroke-width="0.9" />
<line x1="849.73" y1="292.04" x2="856.81" y2="288.26" stroke="#3c3c3c" stroke-width="0.9" />
<line x1="856.81" y1="288.26" x2="863.90" y2="292.04" stroke="#3c3c3c" stroke-width="0.9" />
<line x1="863.90" y1="292.04" x2="868.53" y2="289.94" stroke="#3c3c3c" stroke-width="0.9" />
<line x1="871.59" y1="286.19" x2="872.88" y2="280.51" stroke="#3c3c3c" stroke-width="0.9" />
<line x1="872.88" y1="280.51" x2="877.36" y2="279.22" stroke="#3c3c3c" stroke-width="0.9" />
<line x1="873.91" y1="281.73" x2="877.76" y2="280.62" stroke="#3c3c3c" stroke-width="0.9" />
<line x1="882.30" y1="280.94" x2="884.69" y2="284.29" stroke="#3c3c3c" stroke-width="0.9" />
<line x1="884.69" y1="284.29" x2="878.07" y2="290.43" stroke="#3c3c3c" stroke-width="0.9" />
<line x1="882.78" y1="284.09" x2="878.01" y2="288.51" stroke="#3c3c3c" stroke-width="0.9" />
<line x1="878.07" y1="290.43" x2="873.62" y2="289.42" stroke="#3c3c3c" stroke-width="0.9" />
<line x1="866.26" y1="274.37" x2="867.68" y2="266.34" stroke="#3c3c3c" stroke-width="0.9" />
<line x1="865.03" y1="272.99" x2="866.05" y2="267.21" stroke="#3c3c3c" stroke-width="0.9" />
<line x1="867.68" y1="266.34" x2="861.54" y2="261.14" stroke="#3c3c3c" stroke-width="0.9" />
<line x1="861.54" y1="261.14" x2="853.98" y2="263.50" stroke="#3c3c3c" stroke-width="0.9" />
<line x1="860.91" y1="262.86" x2="855.47" y2="264.56" stroke="#3c3c3c" stroke-width="0.9" />
<line x1="853.98" y1="263.50" x2="852.56" y2="271.54" stroke="#3c3c3c" stroke-width="0.9" />
<line x1="852.56" y1="271.54" x2="858.70" y2="276.73" stroke="#3c3c3c" stroke-width="0.9" />
<line x1="854.36" y1="271.16" x2="858.78" y2="274.90" stroke="#3c3c3c" stroke-width="0.9" />
<line x1="858.70" y1="276.73" x2="866.26" y2="274.37" stroke="#3c3c3c" stroke-width="0.9" />
<line x1="872.88" y1="280.51" x2="866.26" y2="274.37" stroke="#3c3c3c" stroke-width="0.9" />
<line x1="821.38" y1="300.17" x2="826.14" y2="302.96" stroke="#3c3c3c" stroke-width="0.9" />
<line x1="828.47" y1="307.02" x2="828.47" y2="312.83" stroke="#3c3c3c" stroke-width="0.9" />
<text x="828.47" y="290.81" font-size="6.3" fill="#222" font-weight="normal" text-anchor="middle" >N</text>
<text x="842.64" y="290.81" font-size="6.3" fill="#222" font-weight="normal" text-anchor="middle" >N</text>
<text x="835.55" y="303.29" font-size="6.3" fill="#222" font-weight="normal" text-anchor="middle" >O</text>
<text x="870.99" y="291.10" font-size="6.3" fill="#222" font-weight="normal" text-anchor="middle" >N</text>
<text x="828.47" y="306.59" font-size="6.3" fill="#222" font-weight="normal" text-anchor="middle" >O</text>
<text x="828.47" y="285.15" font-size="5.8" fill="#222" font-weight="normal" text-anchor="middle" >H</text>
<text x="842.64" y="285.15" font-size="5.8" fill="#222" font-weight="normal" text-anchor="middle" >H</text>
<text x="798.23" y="290.80" font-size="6.0" fill="#222" font-weight="normal" text-anchor="middle" >Cl</text>
<text x="878.74" y="280.33" font-size="5.8" fill="#222" font-weight="normal" text-anchor="start" >NH</text>
<text x="887.24" y="277.77" font-size="4.2" fill="#222" font-weight="normal" text-anchor="middle" >+</text>
<line x1="818.47" y1="346.99" x2="825.47" y2="350.99" stroke="#3c3c3c" stroke-width="0.9" />
<line x1="825.47" y1="350.99" x2="825.47" y2="359.18" stroke="#3c3c3c" stroke-width="0.9" />
<line x1="824.02" y1="352.13" x2="824.02" y2="358.03" stroke="#3c3c3c" stroke-width="0.9" />
<line x1="825.47" y1="359.18" x2="818.47" y2="363.28" stroke="#3c3c3c" stroke-width="0.9" />
<line x1="818.47" y1="363.28" x2="811.48" y2="359.18" stroke="#3c3c3c" stroke-width="0.9" />
<line x1="818.23" y1="361.45" x2="813.19" y2="358.50" stroke="#3c3c3c" stroke-width="0.9" />
<line x1="811.48" y1="359.18" x2="811.48" y2="350.99" stroke="#3c3c3c" stroke-width="0.9" />
<line x1="811.48" y1="350.99" x2="818.47" y2="346.99" stroke="#3c3c3c" stroke-width="0.9" />
<line x1="813.18" y1="351.69" x2="818.21" y2="348.81" stroke="#3c3c3c" stroke-width="0.9" />
<line x1="811.48" y1="350.99" x2="804.48" y2="347.29" stroke="#3c3c3c" stroke-width="0.9" />
<line x1="811.48" y1="359.18" x2="804.48" y2="362.98" stroke="#3c3c3c" stroke-width="0.9" />
<line x1="825.47" y1="350.99" x2="829.98" y2="349.05" stroke="#3c3c3c" stroke-width="0.9" />
<line x1="834.88" y1="349.20" x2="839.46" y2="351.49" stroke="#3c3c3c" stroke-width="0.9" />
<line x1="839.46" y1="351.49" x2="844.04" y2="349.20" stroke="#3c3c3c" stroke-width="0.9" />
<line x1="838.61" y1="351.49" x2="838.61" y2="356.98" stroke="#3c3c3c" stroke-width="0.9" />
<line x1="840.31" y1="351.49" x2="840.31" y2="356.98" stroke="#3c3c3c" stroke-width="0.9" />
<line x1="848.90" y1="349.13" x2="853.94" y2="351.49" stroke="#3c3c3c" stroke-width="0.9" />
<line x1="853.94" y1="351.49" x2="860.94" y2="347.49" stroke="#3c3c3c" stroke-width="0.9" />
<line x1="860.94" y1="347.49" x2="867.93" y2="351.49" stroke="#3c3c3c" stroke-width="0.9" />
<line x1="867.93" y1="351.49" x2="872.76" y2="349.21" stroke="#3c3c3c" stroke-width="0.9" />
<line x1="869.23" y1="352.48" x2="873.38" y2="350.52" stroke="#3c3c3c" stroke-width="0.9" />
<line x1="876.80" y1="349.69" x2="880.92" y2="352.98" stroke="#3c3c3c" stroke-width="0.9" />
<line x1="880.92" y1="352.98" x2="876.93" y2="359.98" stroke="#3c3c3c" stroke-width="0.9" />
<line x1="879.10" y1="353.24" x2="876.23" y2="358.28" stroke="#3c3c3c" stroke-width="0.9" />
<line x1="876.93" y1="359.98" x2="870.83" y2="359.62" stroke="#3c3c3c" stroke-width="0.9" />
<line x1="868.28" y1="357.08" x2="867.93" y2="351.49" stroke="#3c3c3c" stroke-width="0.9" />
<line x1="876.93" y1="359.98" x2="879.42" y2="367.97" stroke="#3c3c3c" stroke-width="0.9" />
<line x1="866.58" y1="361.00" x2="862.94" y2="363.98" stroke="#3c3c3c" stroke-width="0.9" />
<line x1="864.94" y1="372.47" x2="871.43" y2="374.97" stroke="#3c3c3c" stroke-width="0.9" />
<line x1="865.32" y1="374.17" x2="870.00" y2="375.97" stroke="#3c3c3c" stroke-width="0.9" />
<line x1="871.43" y1="374.97" x2="873.43" y2="382.46" stroke="#3c3c3c" stroke-width="0.9" />
<line x1="873.43" y1="382.46" x2="867.93" y2="387.96" stroke="#3c3c3c" stroke-width="0.9" />
<line x1="871.63" y1="382.20" x2="867.68" y2="386.16" stroke="#3c3c3c" stroke-width="0.9" />
<line x1="867.93" y1="387.96" x2="860.44" y2="385.46" stroke="#3c3c3c" stroke-width="0.9" />
<line x1="860.44" y1="385.46" x2="858.44" y2="377.46" stroke="#3c3c3c" stroke-width="0.9" />
<line x1="861.57" y1="383.99" x2="860.13" y2="378.23" stroke="#3c3c3c" stroke-width="0.9" />
<line x1="858.44" y1="377.46" x2="864.94" y2="372.47" stroke="#3c3c3c" stroke-width="0.9" />
<line x1="862.94" y1="363.98" x2="864.94" y2="372.47" stroke="#3c3c3c" stroke-width="0.9" />
<line x1="867.93" y1="387.96" x2="867.93" y2="393.05" stroke="#3c3c3c" stroke-width="0.9" />
<text x="832.46" y="350.08" font-size="5.8" fill="#222" font-weight="normal" text-anchor="middle" >N</text>
<text x="846.45" y="350.08" font-size="5.8" fill="#222" font-weight="normal" text-anchor="middle" >N</text>
<text x="839.46" y="361.77" font-size="5.8" fill="#222" font-weight="normal" text-anchor="middle" >O</text>
<text x="874.93" y="350.28" font-size="5.8" fill="#222" font-weight="normal" text-anchor="middle" >N</text>
<text x="868.43" y="361.57" font-size="5.8" fill="#222" font-weight="normal" text-anchor="middle" >N</text>
<text x="867.93" y="397.39" font-size="5.4" fill="#222" font-weight="normal" text-anchor="middle" >F</text>
<text x="832.46" y="345.21" font-size="5.6" fill="#222" font-weight="normal" text-anchor="middle" >H</text>
<text x="846.45" y="345.21" font-size="5.6" fill="#222" font-weight="normal" text-anchor="middle" >H</text>
</g>
<text x="915.30" y="46.60" font-size="28.8" fill="#231815" font-weight="bold" text-anchor="start" >B</text>
<g id="panelB">
<rect x="1041.80" y="39.70" width="1.80" height="3.20" fill="#fff" stroke="#4472a7" stroke-width="0.8" />
<line x1="1033.40" y1="41.30" x2="1041.80" y2="41.30" stroke="#000" stroke-width="1.5" />
<text x="1033.20" y="45.20" font-size="11.2" fill="#000" font-weight="normal" text-anchor="end" >Control</text>
<rect x="1041.80" y="48.28" width="128.41" height="7.50" fill="#4472a7" />
<line x1="1170.21" y1="52.03" x2="1172.61" y2="52.03" stroke="#5b8cc4" stroke-width="1.0" />
<line x1="1172.61" y1="49.83" x2="1172.61" y2="54.23" stroke="#5b8cc4" stroke-width="1.0" />
<text transform="translate(1180.55,52.13) rotate(-90)" font-size="7.5" font-weight="bold" text-anchor="middle" fill="#000" letter-spacing="-0.1">****</text>
<line x1="1033.40" y1="52.03" x2="1041.80" y2="52.03" stroke="#000" stroke-width="1.5" />
<text x="1033.20" y="55.93" font-size="11.2" fill="#000" font-weight="normal" text-anchor="end" >Levomilnacipran</text>
<rect x="1041.80" y="59.01" width="134.32" height="7.50" fill="#4472a7" />
<line x1="1176.12" y1="62.76" x2="1178.33" y2="62.76" stroke="#5b8cc4" stroke-width="1.0" />
<line x1="1178.33" y1="60.56" x2="1178.33" y2="64.96" stroke="#5b8cc4" stroke-width="1.0" />
<text transform="translate(1186.64,62.86) rotate(-90)" font-size="7.5" font-weight="bold" text-anchor="middle" fill="#000" letter-spacing="-0.1">****</text>
<line x1="1033.40" y1="62.76" x2="1041.80" y2="62.76" stroke="#000" stroke-width="1.5" />
<text x="1033.20" y="66.66" font-size="11.2" fill="#000" font-weight="normal" text-anchor="end" >F3288-0031</text>
<rect x="1041.80" y="69.74" width="106.09" height="7.50" fill="#4472a7" />
<line x1="1147.89" y1="73.49" x2="1149.36" y2="73.49" stroke="#5b8cc4" stroke-width="1.0" />
<line x1="1149.36" y1="71.29" x2="1149.36" y2="75.69" stroke="#5b8cc4" stroke-width="1.0" />
<text transform="translate(1157.12,73.59) rotate(-90)" font-size="7.5" font-weight="bold" text-anchor="middle" fill="#000" letter-spacing="-0.1">****</text>
<line x1="1033.40" y1="73.49" x2="1041.80" y2="73.49" stroke="#000" stroke-width="1.5" />
<text x="1033.20" y="77.39" font-size="11.2" fill="#000" font-weight="normal" text-anchor="end" >F6209-0486</text>
<rect x="1041.80" y="80.47" width="118.26" height="7.50" fill="#4472a7" />
<line x1="1160.06" y1="84.22" x2="1162.83" y2="84.22" stroke="#5b8cc4" stroke-width="1.0" />
<line x1="1162.83" y1="82.02" x2="1162.83" y2="86.42" stroke="#5b8cc4" stroke-width="1.0" />
<text transform="translate(1170.77,84.32) rotate(-90)" font-size="7.5" font-weight="bold" text-anchor="middle" fill="#000" letter-spacing="-0.1">****</text>
<line x1="1033.40" y1="84.22" x2="1041.80" y2="84.22" stroke="#000" stroke-width="1.5" />
<text x="1033.20" y="88.12" font-size="11.2" fill="#000" font-weight="normal" text-anchor="end" >F3288-0034</text>
<rect x="1041.80" y="91.20" width="92.07" height="7.50" fill="#4472a7" />
<line x1="1133.87" y1="94.95" x2="1138.66" y2="94.95" stroke="#5b8cc4" stroke-width="1.0" />
<line x1="1138.66" y1="92.75" x2="1138.66" y2="97.15" stroke="#5b8cc4" stroke-width="1.0" />
<text transform="translate(1146.05,95.05) rotate(-90)" font-size="7.5" font-weight="bold" text-anchor="middle" fill="#000" letter-spacing="-0.1">****</text>
<line x1="1033.40" y1="94.95" x2="1041.80" y2="94.95" stroke="#000" stroke-width="1.5" />
<text x="1033.20" y="98.85" font-size="11.2" fill="#000" font-weight="normal" text-anchor="end" >F3288-0033</text>
<rect x="1041.80" y="101.93" width="118.08" height="7.50" fill="#4472a7" />
<line x1="1159.88" y1="105.68" x2="1162.65" y2="105.68" stroke="#5b8cc4" stroke-width="1.0" />
<line x1="1162.65" y1="103.48" x2="1162.65" y2="107.88" stroke="#5b8cc4" stroke-width="1.0" />
<text transform="translate(1170.77,105.78) rotate(-90)" font-size="7.5" font-weight="bold" text-anchor="middle" fill="#000" letter-spacing="-0.1">****</text>
<line x1="1033.40" y1="105.68" x2="1041.80" y2="105.68" stroke="#000" stroke-width="1.5" />
<text x="1033.20" y="109.58" font-size="11.2" fill="#000" font-weight="normal" text-anchor="end" >F3288-0027</text>
<rect x="1041.80" y="112.66" width="107.93" height="7.50" fill="#4472a7" />
<line x1="1149.73" y1="116.41" x2="1152.68" y2="116.41" stroke="#5b8cc4" stroke-width="1.0" />
<line x1="1152.68" y1="114.21" x2="1152.68" y2="118.61" stroke="#5b8cc4" stroke-width="1.0" />
<text transform="translate(1160.44,116.51) rotate(-90)" font-size="7.5" font-weight="bold" text-anchor="middle" fill="#000" letter-spacing="-0.1">****</text>
<line x1="1033.40" y1="116.41" x2="1041.80" y2="116.41" stroke="#000" stroke-width="1.5" />
<text x="1033.20" y="120.31" font-size="11.2" fill="#000" font-weight="normal" text-anchor="end" >F1032-0034</text>
<rect x="1041.80" y="123.39" width="118.08" height="7.50" fill="#4472a7" />
<line x1="1159.88" y1="127.14" x2="1163.02" y2="127.14" stroke="#5b8cc4" stroke-width="1.0" />
<line x1="1163.02" y1="124.94" x2="1163.02" y2="129.34" stroke="#5b8cc4" stroke-width="1.0" />
<text transform="translate(1171.51,127.24) rotate(-90)" font-size="7.5" font-weight="bold" text-anchor="middle" fill="#000" letter-spacing="-0.1">****</text>
<line x1="1033.40" y1="127.14" x2="1041.80" y2="127.14" stroke="#000" stroke-width="1.5" />
<text x="1033.20" y="131.04" font-size="11.2" fill="#000" font-weight="normal" text-anchor="end" >F0874-0086</text>
<rect x="1041.80" y="134.12" width="108.49" height="7.50" fill="#4472a7" />
<line x1="1150.29" y1="137.87" x2="1151.95" y2="137.87" stroke="#5b8cc4" stroke-width="1.0" />
<line x1="1151.95" y1="135.67" x2="1151.95" y2="140.07" stroke="#5b8cc4" stroke-width="1.0" />
<text transform="translate(1160.07,137.97) rotate(-90)" font-size="7.5" font-weight="bold" text-anchor="middle" fill="#000" letter-spacing="-0.1">****</text>
<line x1="1033.40" y1="137.87" x2="1041.80" y2="137.87" stroke="#000" stroke-width="1.5" />
<text x="1033.20" y="141.77" font-size="11.2" fill="#000" font-weight="normal" text-anchor="end" >F0840-0184</text>
<rect x="1041.80" y="144.85" width="114.02" height="7.50" fill="#4472a7" />
<line x1="1155.82" y1="148.60" x2="1158.03" y2="148.60" stroke="#5b8cc4" stroke-width="1.0" />
<line x1="1158.03" y1="146.40" x2="1158.03" y2="150.80" stroke="#5b8cc4" stroke-width="1.0" />
<text transform="translate(1166.34,148.70) rotate(-90)" font-size="7.5" font-weight="bold" text-anchor="middle" fill="#000" letter-spacing="-0.1">****</text>
<line x1="1033.40" y1="148.60" x2="1041.80" y2="148.60" stroke="#000" stroke-width="1.5" />
<text x="1033.20" y="152.50" font-size="11.2" fill="#000" font-weight="normal" text-anchor="end" >F0909-0085</text>
<rect x="1041.80" y="155.58" width="102.95" height="7.50" fill="#4472a7" />
<line x1="1144.75" y1="159.33" x2="1146.60" y2="159.33" stroke="#5b8cc4" stroke-width="1.0" />
<line x1="1146.60" y1="157.13" x2="1146.60" y2="161.53" stroke="#5b8cc4" stroke-width="1.0" />
<text transform="translate(1154.90,159.43) rotate(-90)" font-size="7.5" font-weight="bold" text-anchor="middle" fill="#000" letter-spacing="-0.1">****</text>
<line x1="1033.40" y1="159.33" x2="1041.80" y2="159.33" stroke="#000" stroke-width="1.5" />
<text x="1033.20" y="163.23" font-size="11.2" fill="#000" font-weight="normal" text-anchor="end" >F3083-0328</text>
<rect x="1041.80" y="166.31" width="104.98" height="7.50" fill="#4472a7" />
<line x1="1146.78" y1="170.06" x2="1148.99" y2="170.06" stroke="#5b8cc4" stroke-width="1.0" />
<line x1="1148.99" y1="167.86" x2="1148.99" y2="172.26" stroke="#5b8cc4" stroke-width="1.0" />
<text transform="translate(1157.67,170.16) rotate(-90)" font-size="7.5" font-weight="bold" text-anchor="middle" fill="#000" letter-spacing="-0.1">****</text>
<line x1="1033.40" y1="170.06" x2="1041.80" y2="170.06" stroke="#000" stroke-width="1.5" />
<text x="1033.20" y="173.96" font-size="11.2" fill="#000" font-weight="normal" text-anchor="end" >F1757-0006</text>
<rect x="1041.80" y="177.04" width="100.55" height="7.50" fill="#4472a7" />
<line x1="1142.35" y1="180.79" x2="1144.38" y2="180.79" stroke="#5b8cc4" stroke-width="1.0" />
<line x1="1144.38" y1="178.59" x2="1144.38" y2="182.99" stroke="#5b8cc4" stroke-width="1.0" />
<text transform="translate(1152.69,180.89) rotate(-90)" font-size="7.5" font-weight="bold" text-anchor="middle" fill="#000" letter-spacing="-0.1">****</text>
<line x1="1033.40" y1="180.79" x2="1041.80" y2="180.79" stroke="#000" stroke-width="1.5" />
<text x="1033.20" y="184.69" font-size="11.2" fill="#000" font-weight="normal" text-anchor="end" >F1757-0004</text>
<rect x="1041.80" y="187.77" width="119.74" height="7.50" fill="#4472a7" />
<line x1="1161.54" y1="191.52" x2="1164.68" y2="191.52" stroke="#5b8cc4" stroke-width="1.0" />
<line x1="1164.68" y1="189.32" x2="1164.68" y2="193.72" stroke="#5b8cc4" stroke-width="1.0" />
<text transform="translate(1172.80,191.62) rotate(-90)" font-size="7.5" font-weight="bold" text-anchor="middle" fill="#000" letter-spacing="-0.1">****</text>
<line x1="1033.40" y1="191.52" x2="1041.80" y2="191.52" stroke="#000" stroke-width="1.5" />
<text x="1033.20" y="195.42" font-size="11.2" fill="#000" font-weight="normal" text-anchor="end" >F0719-0099</text>
<rect x="1041.80" y="198.50" width="108.49" height="7.50" fill="#4472a7" />
<line x1="1150.29" y1="202.25" x2="1151.76" y2="202.25" stroke="#5b8cc4" stroke-width="1.0" />
<line x1="1151.76" y1="200.05" x2="1151.76" y2="204.45" stroke="#5b8cc4" stroke-width="1.0" />
<text transform="translate(1159.15,202.35) rotate(-90)" font-size="7.5" font-weight="bold" text-anchor="middle" fill="#000" letter-spacing="-0.1">****</text>
<line x1="1033.40" y1="202.25" x2="1041.80" y2="202.25" stroke="#000" stroke-width="1.5" />
<text x="1033.20" y="206.15" font-size="11.2" fill="#000" font-weight="normal" text-anchor="end" >F0719-0253</text>
<rect x="1041.80" y="209.23" width="121.03" height="7.50" fill="#4472a7" />
<line x1="1162.83" y1="212.98" x2="1165.05" y2="212.98" stroke="#5b8cc4" stroke-width="1.0" />
<line x1="1165.05" y1="210.78" x2="1165.05" y2="215.18" stroke="#5b8cc4" stroke-width="1.0" />
<text transform="translate(1172.80,213.08) rotate(-90)" font-size="7.5" font-weight="bold" text-anchor="middle" fill="#000" letter-spacing="-0.1">****</text>
<line x1="1033.40" y1="212.98" x2="1041.80" y2="212.98" stroke="#000" stroke-width="1.5" />
<text x="1033.20" y="216.88" font-size="11.2" fill="#000" font-weight="normal" text-anchor="end" >F1125-0061</text>
<rect x="1041.80" y="219.96" width="101.47" height="7.50" fill="#4472a7" />
<line x1="1143.27" y1="223.71" x2="1145.86" y2="223.71" stroke="#5b8cc4" stroke-width="1.0" />
<line x1="1145.86" y1="221.51" x2="1145.86" y2="225.91" stroke="#5b8cc4" stroke-width="1.0" />
<text transform="translate(1154.17,223.81) rotate(-90)" font-size="7.5" font-weight="bold" text-anchor="middle" fill="#000" letter-spacing="-0.1">****</text>
<line x1="1033.40" y1="223.71" x2="1041.80" y2="223.71" stroke="#000" stroke-width="1.5" />
<text x="1033.20" y="227.61" font-size="11.2" fill="#000" font-weight="normal" text-anchor="end" >F1125-0066</text>
<rect x="1041.80" y="230.69" width="108.49" height="7.50" fill="#4472a7" />
<line x1="1150.29" y1="234.44" x2="1151.95" y2="234.44" stroke="#5b8cc4" stroke-width="1.0" />
<line x1="1151.95" y1="232.24" x2="1151.95" y2="236.64" stroke="#5b8cc4" stroke-width="1.0" />
<text transform="translate(1160.07,234.54) rotate(-90)" font-size="7.5" font-weight="bold" text-anchor="middle" fill="#000" letter-spacing="-0.1">****</text>
<line x1="1033.40" y1="234.44" x2="1041.80" y2="234.44" stroke="#000" stroke-width="1.5" />
<text x="1033.20" y="238.34" font-size="11.2" fill="#000" font-weight="normal" text-anchor="end" >F0840-0211</text>
<rect x="1041.80" y="241.42" width="126.20" height="7.50" fill="#4472a7" />
<line x1="1168.00" y1="245.17" x2="1169.84" y2="245.17" stroke="#5b8cc4" stroke-width="1.0" />
<line x1="1169.84" y1="242.97" x2="1169.84" y2="247.37" stroke="#5b8cc4" stroke-width="1.0" />
<text transform="translate(1178.15,245.27) rotate(-90)" font-size="7.5" font-weight="bold" text-anchor="middle" fill="#000" letter-spacing="-0.1">****</text>
<line x1="1033.40" y1="245.17" x2="1041.80" y2="245.17" stroke="#000" stroke-width="1.5" />
<text x="1033.20" y="249.07" font-size="11.2" fill="#000" font-weight="normal" text-anchor="end" >F3254-0097</text>
<rect x="1041.80" y="252.15" width="130.07" height="7.50" fill="#4472a7" />
<line x1="1171.87" y1="255.90" x2="1173.72" y2="255.90" stroke="#5b8cc4" stroke-width="1.0" />
<line x1="1173.72" y1="253.70" x2="1173.72" y2="258.10" stroke="#5b8cc4" stroke-width="1.0" />
<text transform="translate(1182.95,256.00) rotate(-90)" font-size="7.5" font-weight="bold" text-anchor="middle" fill="#000" letter-spacing="-0.1">****</text>
<line x1="1033.40" y1="255.90" x2="1041.80" y2="255.90" stroke="#000" stroke-width="1.5" />
<text x="1033.20" y="259.80" font-size="11.2" fill="#000" font-weight="normal" text-anchor="end" >F3314-0326</text>
<rect x="1041.80" y="262.88" width="129.70" height="7.50" fill="#4472a7" />
<line x1="1171.50" y1="266.63" x2="1173.35" y2="266.63" stroke="#5b8cc4" stroke-width="1.0" />
<line x1="1173.35" y1="264.43" x2="1173.35" y2="268.83" stroke="#5b8cc4" stroke-width="1.0" />
<text transform="translate(1182.58,266.73) rotate(-90)" font-size="7.5" font-weight="bold" text-anchor="middle" fill="#000" letter-spacing="-0.1">****</text>
<line x1="1033.40" y1="266.63" x2="1041.80" y2="266.63" stroke="#000" stroke-width="1.5" />
<text x="1033.20" y="270.53" font-size="11.2" fill="#000" font-weight="normal" text-anchor="end" >F1757-0014</text>
<rect x="1041.80" y="273.61" width="110.15" height="7.50" fill="#4472a7" />
<line x1="1151.95" y1="277.36" x2="1153.79" y2="277.36" stroke="#5b8cc4" stroke-width="1.0" />
<line x1="1153.79" y1="275.16" x2="1153.79" y2="279.56" stroke="#5b8cc4" stroke-width="1.0" />
<text transform="translate(1162.10,277.46) rotate(-90)" font-size="7.5" font-weight="bold" text-anchor="middle" fill="#000" letter-spacing="-0.1">****</text>
<line x1="1033.40" y1="277.36" x2="1041.80" y2="277.36" stroke="#000" stroke-width="1.5" />
<text x="1033.20" y="281.26" font-size="11.2" fill="#000" font-weight="normal" text-anchor="end" >F1438-0069</text>
<rect x="1041.80" y="284.34" width="123.62" height="7.50" fill="#4472a7" />
<line x1="1165.41" y1="288.09" x2="1169.11" y2="288.09" stroke="#5b8cc4" stroke-width="1.0" />
<line x1="1169.11" y1="285.89" x2="1169.11" y2="290.29" stroke="#5b8cc4" stroke-width="1.0" />
<text transform="translate(1178.15,288.19) rotate(-90)" font-size="7.5" font-weight="bold" text-anchor="middle" fill="#000" letter-spacing="-0.1">****</text>
<line x1="1033.40" y1="288.09" x2="1041.80" y2="288.09" stroke="#000" stroke-width="1.5" />
<text x="1033.20" y="291.99" font-size="11.2" fill="#000" font-weight="normal" text-anchor="end" >F3314-0161</text>
<rect x="1041.80" y="295.07" width="119.74" height="7.50" fill="#4472a7" />
<line x1="1161.54" y1="298.82" x2="1163.20" y2="298.82" stroke="#5b8cc4" stroke-width="1.0" />
<line x1="1163.20" y1="296.62" x2="1163.20" y2="301.02" stroke="#5b8cc4" stroke-width="1.0" />
<text transform="translate(1170.77,298.92) rotate(-90)" font-size="7.5" font-weight="bold" text-anchor="middle" fill="#000" letter-spacing="-0.1">****</text>
<line x1="1033.40" y1="298.82" x2="1041.80" y2="298.82" stroke="#000" stroke-width="1.5" />
<text x="1033.20" y="302.72" font-size="11.2" fill="#000" font-weight="normal" text-anchor="end" >F3368-0106</text>
<rect x="1041.80" y="305.80" width="95.94" height="7.50" fill="#4472a7" />
<line x1="1137.74" y1="309.55" x2="1139.59" y2="309.55" stroke="#5b8cc4" stroke-width="1.0" />
<line x1="1139.59" y1="307.35" x2="1139.59" y2="311.75" stroke="#5b8cc4" stroke-width="1.0" />
<text transform="translate(1147.34,309.65) rotate(-90)" font-size="7.5" font-weight="bold" text-anchor="middle" fill="#000" letter-spacing="-0.1">****</text>
<line x1="1033.40" y1="309.55" x2="1041.80" y2="309.55" stroke="#000" stroke-width="1.5" />
<text x="1033.20" y="313.45" font-size="11.2" fill="#000" font-weight="normal" text-anchor="end" >F1681-0040</text>
<rect x="1041.80" y="316.53" width="106.64" height="7.50" fill="#4472a7" />
<line x1="1148.44" y1="320.28" x2="1151.39" y2="320.28" stroke="#5b8cc4" stroke-width="1.0" />
<line x1="1151.39" y1="318.08" x2="1151.39" y2="322.48" stroke="#5b8cc4" stroke-width="1.0" />
<text transform="translate(1159.70,320.38) rotate(-90)" font-size="7.5" font-weight="bold" text-anchor="middle" fill="#000" letter-spacing="-0.1">****</text>
<line x1="1033.40" y1="320.28" x2="1041.80" y2="320.28" stroke="#000" stroke-width="1.5" />
<text x="1033.20" y="324.18" font-size="11.2" fill="#000" font-weight="normal" text-anchor="end" >F1125-0029</text>
<rect x="1041.80" y="327.26" width="119.56" height="7.50" fill="#4472a7" />
<line x1="1161.36" y1="331.01" x2="1163.02" y2="331.01" stroke="#5b8cc4" stroke-width="1.0" />
<line x1="1163.02" y1="328.81" x2="1163.02" y2="333.21" stroke="#5b8cc4" stroke-width="1.0" />
<text transform="translate(1170.77,331.11) rotate(-90)" font-size="7.5" font-weight="bold" text-anchor="middle" fill="#000" letter-spacing="-0.1">****</text>
<line x1="1033.40" y1="331.01" x2="1041.80" y2="331.01" stroke="#000" stroke-width="1.5" />
<text x="1033.20" y="334.91" font-size="11.2" fill="#000" font-weight="normal" text-anchor="end" >F3314-0208</text>
<rect x="1041.80" y="337.99" width="119.00" height="7.50" fill="#4472a7" />
<line x1="1160.80" y1="341.74" x2="1162.65" y2="341.74" stroke="#5b8cc4" stroke-width="1.0" />
<line x1="1162.65" y1="339.54" x2="1162.65" y2="343.94" stroke="#5b8cc4" stroke-width="1.0" />
<text transform="translate(1170.77,341.84) rotate(-90)" font-size="7.5" font-weight="bold" text-anchor="middle" fill="#000" letter-spacing="-0.1">****</text>
<line x1="1033.40" y1="341.74" x2="1041.80" y2="341.74" stroke="#000" stroke-width="1.5" />
<text x="1033.20" y="345.64" font-size="11.2" fill="#000" font-weight="normal" text-anchor="end" >F1246-0030</text>
<rect x="1041.80" y="348.72" width="100.55" height="7.50" fill="#4472a7" />
<line x1="1142.35" y1="352.47" x2="1144.75" y2="352.47" stroke="#5b8cc4" stroke-width="1.0" />
<line x1="1144.75" y1="350.27" x2="1144.75" y2="354.67" stroke="#5b8cc4" stroke-width="1.0" />
<text transform="translate(1152.69,352.57) rotate(-90)" font-size="7.5" font-weight="bold" text-anchor="middle" fill="#000" letter-spacing="-0.1">****</text>
<line x1="1033.40" y1="352.47" x2="1041.80" y2="352.47" stroke="#000" stroke-width="1.5" />
<text x="1033.20" y="356.37" font-size="11.2" fill="#000" font-weight="normal" text-anchor="end" >F6209-0473</text>
<rect x="1041.80" y="359.45" width="105.16" height="7.50" fill="#4472a7" />
<line x1="1146.96" y1="363.20" x2="1148.81" y2="363.20" stroke="#5b8cc4" stroke-width="1.0" />
<line x1="1148.81" y1="361.00" x2="1148.81" y2="365.40" stroke="#5b8cc4" stroke-width="1.0" />
<text transform="translate(1157.12,363.30) rotate(-90)" font-size="7.5" font-weight="bold" text-anchor="middle" fill="#000" letter-spacing="-0.1">****</text>
<line x1="1033.40" y1="363.20" x2="1041.80" y2="363.20" stroke="#000" stroke-width="1.5" />
<text x="1033.20" y="367.10" font-size="11.2" fill="#000" font-weight="normal" text-anchor="end" >F6209-0472</text>
<rect x="1041.80" y="370.18" width="125.64" height="7.50" fill="#4472a7" />
<line x1="1167.44" y1="373.93" x2="1169.11" y2="373.93" stroke="#5b8cc4" stroke-width="1.0" />
<line x1="1169.11" y1="371.73" x2="1169.11" y2="376.13" stroke="#5b8cc4" stroke-width="1.0" />
<text transform="translate(1178.15,374.03) rotate(-90)" font-size="7.5" font-weight="bold" text-anchor="middle" fill="#000" letter-spacing="-0.1">****</text>
<line x1="1033.40" y1="373.93" x2="1041.80" y2="373.93" stroke="#000" stroke-width="1.5" />
<text x="1033.20" y="377.83" font-size="11.2" fill="#000" font-weight="normal" text-anchor="end" >F6209-0484</text>
<rect x="1041.80" y="380.91" width="121.77" height="7.50" fill="#4472a7" />
<line x1="1163.57" y1="384.66" x2="1165.78" y2="384.66" stroke="#5b8cc4" stroke-width="1.0" />
<line x1="1165.78" y1="382.46" x2="1165.78" y2="386.86" stroke="#5b8cc4" stroke-width="1.0" />
<text transform="translate(1173.72,384.76) rotate(-90)" font-size="7.5" font-weight="bold" text-anchor="middle" fill="#000" letter-spacing="-0.1">****</text>
<line x1="1033.40" y1="384.66" x2="1041.80" y2="384.66" stroke="#000" stroke-width="1.5" />
<text x="1033.20" y="388.56" font-size="11.2" fill="#000" font-weight="normal" text-anchor="end" >F6209-0471</text>
<rect x="1041.80" y="391.64" width="100.55" height="7.50" fill="#4472a7" />
<line x1="1142.35" y1="395.39" x2="1143.83" y2="395.39" stroke="#5b8cc4" stroke-width="1.0" />
<line x1="1143.83" y1="393.19" x2="1143.83" y2="397.59" stroke="#5b8cc4" stroke-width="1.0" />
<text transform="translate(1151.21,395.49) rotate(-90)" font-size="7.5" font-weight="bold" text-anchor="middle" fill="#000" letter-spacing="-0.1">****</text>
<line x1="1033.40" y1="395.39" x2="1041.80" y2="395.39" stroke="#000" stroke-width="1.5" />
<text x="1033.20" y="399.29" font-size="11.2" fill="#000" font-weight="normal" text-anchor="end" >F0035-0173</text>
<line x1="1041.80" y1="29.30" x2="1041.80" y2="405.70" stroke="#000" stroke-width="1.5" />
<line x1="1041.05" y1="405.00" x2="1227.05" y2="405.00" stroke="#000" stroke-width="1.5" />
<line x1="1041.80" y1="405.00" x2="1041.80" y2="411.50" stroke="#000" stroke-width="1.5" />
<text x="1041.80" y="424.80" font-size="11.1" fill="#000" font-weight="normal" text-anchor="middle" >0</text>
<line x1="1078.70" y1="405.00" x2="1078.70" y2="411.50" stroke="#000" stroke-width="1.5" />
<text x="1078.70" y="424.80" font-size="11.1" fill="#000" font-weight="normal" text-anchor="middle" >20</text>
<line x1="1115.60" y1="405.00" x2="1115.60" y2="411.50" stroke="#000" stroke-width="1.5" />
<text x="1115.60" y="424.80" font-size="11.1" fill="#000" font-weight="normal" text-anchor="middle" >40</text>
<line x1="1152.50" y1="405.00" x2="1152.50" y2="411.50" stroke="#000" stroke-width="1.5" />
<text x="1152.50" y="424.80" font-size="11.1" fill="#000" font-weight="normal" text-anchor="middle" >60</text>
<line x1="1189.40" y1="405.00" x2="1189.40" y2="411.50" stroke="#000" stroke-width="1.5" />
<text x="1189.40" y="424.80" font-size="11.1" fill="#000" font-weight="normal" text-anchor="middle" >80</text>
<line x1="1226.30" y1="405.00" x2="1226.30" y2="411.50" stroke="#000" stroke-width="1.5" />
<text x="1226.30" y="424.80" font-size="11.1" fill="#000" font-weight="normal" text-anchor="middle" >100</text>
<line x1="1132.10" y1="30.00" x2="1132.10" y2="405.00" stroke="#1a1a2a" stroke-width="1" stroke-dasharray="2.3 2.1"/>
<text x="1133.70" y="441.60" font-size="11.1" fill="#000" font-weight="normal" text-anchor="middle" >% inhibition</text>
</g>
<text x="26.60" y="467.30" font-size="28.8" fill="#231815" font-weight="bold" text-anchor="start" >C</text>
<g id="panelC">
<polyline points="142.19,493.54 144.12,493.55 146.05,493.57 147.98,493.59 149.91,493.61 151.84,493.63 153.77,493.66 155.69,493.69 157.62,493.72 159.55,493.75 161.48,493.79 163.41,493.83 165.34,493.88 167.27,493.93 169.20,493.98 171.13,494.04 173.06,494.11 174.99,494.19 176.92,494.27 178.84,494.36 180.77,494.47 182.70,494.58 184.63,494.70 186.56,494.84 188.49,494.99 190.42,495.16 192.35,495.35 194.28,495.55 196.21,495.77 198.14,496.02 200.07,496.29 201.99,496.59 203.92,496.93 205.85,497.29 207.78,497.69 209.71,498.13 211.64,498.61 213.57,499.14 215.50,499.73 217.43,500.36 219.36,501.06 221.29,501.83 223.22,502.66 225.14,503.58 227.07,504.57 229.00,505.65 230.93,506.83 232.86,508.10 234.79,509.49 236.72,510.98 238.65,512.59 240.58,514.32 242.51,516.19 244.44,518.18 246.37,520.31 248.29,522.57 250.22,524.98 252.15,527.52 254.08,530.19 256.01,533.00 257.94,535.94 259.87,539.00 261.80,542.17 263.73,545.44 265.66,548.80 267.59,552.24 269.52,555.73 271.44,559.26 273.37,562.83 275.30,566.39 277.23,569.95 279.16,573.48 281.09,576.96 283.02,580.38 284.95,583.73 286.88,586.98 288.81,590.13 290.74,593.16 292.67,596.07 294.59,598.86 296.52,601.51 298.45,604.02 300.38,606.40 302.31,608.64 304.24,610.74 306.17,612.70 308.10,614.54 310.03,616.25 311.96,617.84 313.89,619.31 315.82,620.67 317.74,621.92 319.67,623.08 321.60,624.14 323.53,625.12 325.46,626.02 327.39,626.84 329.32,627.59 331.25,628.27 333.18,628.90 335.11,629.47 337.04,629.99 338.97,630.47 340.89,630.90 342.82,631.29 344.75,631.65 346.68,631.97 348.61,632.27 350.54,632.54 352.47,632.78 354.40,633.00 356.33,633.20 358.26,633.38 360.19,633.54 362.12,633.69 364.04,633.83 365.97,633.95 367.90,634.06 369.83,634.16 371.76,634.25 373.69,634.33" stroke="#4a98d3" stroke-width="1.9" fill="none" stroke-linejoin="round"/>
<polyline points="142.19,504.10 144.12,504.10 146.05,504.11 147.98,504.12 149.91,504.13 151.84,504.14 153.77,504.15 155.69,504.17 157.62,504.18 159.55,504.20 161.48,504.22 163.41,504.24 165.34,504.26 167.27,504.28 169.20,504.31 171.13,504.34 173.06,504.37 174.99,504.41 176.92,504.44 178.84,504.49 180.77,504.53 182.70,504.59 184.63,504.64 186.56,504.71 188.49,504.77 190.42,504.85 192.35,504.93 194.28,505.02 196.21,505.12 198.14,505.23 200.07,505.35 201.99,505.49 203.92,505.63 205.85,505.79 207.78,505.97 209.71,506.16 211.64,506.38 213.57,506.61 215.50,506.87 217.43,507.15 219.36,507.45 221.29,507.79 223.22,508.16 225.14,508.56 227.07,509.00 229.00,509.49 230.93,510.01 232.86,510.59 234.79,511.22 236.72,511.90 238.65,512.65 240.58,513.46 242.51,514.35 244.44,515.30 246.37,516.34 248.29,517.47 250.22,518.69 252.15,520.00 254.08,521.41 256.01,522.94 257.94,524.57 259.87,526.32 261.80,528.19 263.73,530.18 265.66,532.30 267.59,534.55 269.52,536.92 271.44,539.42 273.37,542.05 275.30,544.79 277.23,547.66 279.16,550.63 281.09,553.71 283.02,556.88 284.95,560.14 286.88,563.46 288.81,566.84 290.74,570.26 292.67,573.72 294.59,577.18 296.52,580.63 298.45,584.07 300.38,587.47 302.31,590.82 304.24,594.11 306.17,597.32 308.10,600.44 310.03,603.46 311.96,606.38 313.89,609.18 315.82,611.86 317.74,614.41 319.67,616.84 321.60,619.14 323.53,621.32 325.46,623.36 327.39,625.29 329.32,627.09 331.25,628.77 333.18,630.34 335.11,631.81 337.04,633.16 338.97,634.42 340.89,635.59 342.82,636.66 344.75,637.66 346.68,638.57 348.61,639.42 350.54,640.19 352.47,640.90 354.40,641.55 356.33,642.15 358.26,642.70 360.19,643.20 362.12,643.66 364.04,644.08 365.97,644.47 367.90,644.82 369.83,645.14 371.76,645.43 373.69,645.70" stroke="#1f9858" stroke-width="1.9" fill="none" stroke-linejoin="round"/>
<polyline points="142.19,512.28 144.12,512.30 146.05,512.31 147.98,512.34 149.91,512.36 151.84,512.38 153.77,512.41 155.69,512.44 157.62,512.48 159.55,512.51 161.48,512.55 163.41,512.60 165.34,512.65 167.27,512.70 169.20,512.76 171.13,512.83 173.06,512.90 174.99,512.98 176.92,513.07 178.84,513.17 180.77,513.27 182.70,513.39 184.63,513.52 186.56,513.66 188.49,513.81 190.42,513.98 192.35,514.16 194.28,514.37 196.21,514.59 198.14,514.84 200.07,515.10 201.99,515.40 203.92,515.72 205.85,516.07 207.78,516.46 209.71,516.88 211.64,517.34 213.57,517.84 215.50,518.39 217.43,518.99 219.36,519.64 221.29,520.35 223.22,521.11 225.14,521.95 227.07,522.85 229.00,523.83 230.93,524.89 232.86,526.03 234.79,527.26 236.72,528.58 238.65,530.00 240.58,531.51 242.51,533.13 244.44,534.85 246.37,536.68 248.29,538.62 250.22,540.67 252.15,542.82 254.08,545.08 256.01,547.45 257.94,549.91 259.87,552.46 261.80,555.10 263.73,557.81 265.66,560.59 267.59,563.42 269.52,566.30 271.44,569.22 273.37,572.15 275.30,575.08 277.23,578.01 279.16,580.92 281.09,583.79 283.02,586.61 284.95,589.38 286.88,592.08 288.81,594.70 290.74,597.23 292.67,599.67 294.59,602.02 296.52,604.25 298.45,606.39 300.38,608.41 302.31,610.33 304.24,612.14 306.17,613.84 308.10,615.44 310.03,616.94 311.96,618.33 313.89,619.63 315.82,620.85 317.74,621.97 319.67,623.01 321.60,623.97 323.53,624.86 325.46,625.68 327.39,626.44 329.32,627.14 331.25,627.78 333.18,628.36 335.11,628.90 337.04,629.40 338.97,629.85 340.89,630.26 342.82,630.64 344.75,630.99 346.68,631.30 348.61,631.59 350.54,631.85 352.47,632.09 354.40,632.31 356.33,632.51 358.26,632.70 360.19,632.86 362.12,633.01 364.04,633.15 365.97,633.28 367.90,633.39 369.83,633.49 371.76,633.59 373.69,633.67" stroke="#f2992e" stroke-width="1.9" fill="none" stroke-linejoin="round"/>
<polyline points="142.19,506.99 144.12,507.00 146.05,507.01 147.98,507.02 149.91,507.03 151.84,507.04 153.77,507.06 155.69,507.07 157.62,507.09 159.55,507.11 161.48,507.14 163.41,507.16 165.34,507.19 167.27,507.22 169.20,507.26 171.13,507.29 173.06,507.34 174.99,507.39 176.92,507.44 178.84,507.50 180.77,507.56 182.70,507.64 184.63,507.72 186.56,507.80 188.49,507.90 190.42,508.01 192.35,508.14 194.28,508.27 196.21,508.42 198.14,508.59 200.07,508.77 201.99,508.98 203.92,509.20 205.85,509.45 207.78,509.73 209.71,510.03 211.64,510.37 213.57,510.75 215.50,511.16 217.43,511.61 219.36,512.11 221.29,512.67 223.22,513.28 225.14,513.94 227.07,514.68 229.00,515.48 230.93,516.36 232.86,517.33 234.79,518.38 236.72,519.53 238.65,520.77 240.58,522.13 242.51,523.59 244.44,525.17 246.37,526.88 248.29,528.71 250.22,530.67 252.15,532.76 254.08,534.99 256.01,537.34 257.94,539.83 259.87,542.44 261.80,545.17 263.73,548.01 265.66,550.95 267.59,553.99 269.52,557.10 271.44,560.28 273.37,563.50 275.30,566.74 277.23,570.00 279.16,573.26 281.09,576.48 283.02,579.67 284.95,582.79 286.88,585.85 288.81,588.81 290.74,591.67 292.67,594.43 294.59,597.06 296.52,599.57 298.45,601.95 300.38,604.20 302.31,606.32 304.24,608.31 306.17,610.16 308.10,611.89 310.03,613.50 311.96,614.99 313.89,616.36 315.82,617.63 317.74,618.80 319.67,619.87 321.60,620.85 323.53,621.75 325.46,622.57 327.39,623.31 329.32,624.00 331.25,624.62 333.18,625.18 335.11,625.69 337.04,626.15 338.97,626.58 340.89,626.96 342.82,627.30 344.75,627.61 346.68,627.90 348.61,628.15 350.54,628.38 352.47,628.59 354.40,628.78 356.33,628.95 358.26,629.10 360.19,629.24 362.12,629.36 364.04,629.47 365.97,629.58 367.90,629.67 369.83,629.75 371.76,629.82 373.69,629.89" stroke="#27348b" stroke-width="1.9" fill="none" stroke-linejoin="round"/>
<polyline points="142.19,501.51 144.12,501.55 146.05,501.59 147.98,501.63 149.91,501.68 151.84,501.73 153.77,501.78 155.69,501.85 157.62,501.91 159.55,501.99 161.48,502.07 163.41,502.16 165.34,502.25 167.27,502.36 169.20,502.48 171.13,502.60 173.06,502.74 174.99,502.89 176.92,503.06 178.84,503.24 180.77,503.44 182.70,503.66 184.63,503.89 186.56,504.15 188.49,504.43 190.42,504.74 192.35,505.07 194.28,505.43 196.21,505.83 198.14,506.26 200.07,506.73 201.99,507.24 203.92,507.80 205.85,508.40 207.78,509.06 209.71,509.77 211.64,510.53 213.57,511.37 215.50,512.26 217.43,513.23 219.36,514.28 221.29,515.40 223.22,516.62 225.14,517.91 227.07,519.31 229.00,520.80 230.93,522.39 232.86,524.08 234.79,525.88 236.72,527.79 238.65,529.81 240.58,531.94 242.51,534.18 244.44,536.53 246.37,538.99 248.29,541.56 250.22,544.22 252.15,546.98 254.08,549.82 256.01,552.74 257.94,555.74 259.87,558.79 261.80,561.89 263.73,565.03 265.66,568.19 267.59,571.36 269.52,574.52 271.44,577.67 273.37,580.80 275.30,583.88 277.23,586.91 279.16,589.88 281.09,592.77 283.02,595.58 284.95,598.30 286.88,600.92 288.81,603.45 290.74,605.86 292.67,608.17 294.59,610.37 296.52,612.45 298.45,614.43 300.38,616.30 302.31,618.05 304.24,619.70 306.17,621.25 308.10,622.70 310.03,624.06 311.96,625.32 313.89,626.50 315.82,627.59 317.74,628.61 319.67,629.55 321.60,630.42 323.53,631.22 325.46,631.97 327.39,632.65 329.32,633.29 331.25,633.87 333.18,634.41 335.11,634.90 337.04,635.36 338.97,635.77 340.89,636.16 342.82,636.51 344.75,636.83 346.68,637.13 348.61,637.40 350.54,637.65 352.47,637.88 354.40,638.08 356.33,638.28 358.26,638.45 360.19,638.61 362.12,638.76 364.04,638.89 365.97,639.01 367.90,639.13 369.83,639.23 371.76,639.32 373.69,639.41" stroke="#8b5426" stroke-width="1.9" fill="none" stroke-linejoin="round"/>
<polyline points="142.19,505.88 144.12,505.90 146.05,505.91 147.98,505.93 149.91,505.95 151.84,505.97 153.77,506.00 155.69,506.02 157.62,506.05 159.55,506.09 161.48,506.12 163.41,506.17 165.34,506.21 167.27,506.26 169.20,506.32 171.13,506.38 173.06,506.45 174.99,506.53 176.92,506.62 178.84,506.71 180.77,506.82 182.70,506.93 184.63,507.06 186.56,507.21 188.49,507.37 190.42,507.55 192.35,507.74 194.28,507.96 196.21,508.20 198.14,508.47 200.07,508.76 201.99,509.09 203.92,509.45 205.85,509.85 207.78,510.29 209.71,510.77 211.64,511.31 213.57,511.90 215.50,512.54 217.43,513.25 219.36,514.03 221.29,514.89 223.22,515.83 225.14,516.85 227.07,517.97 229.00,519.18 230.93,520.51 232.86,521.94 234.79,523.49 236.72,525.17 238.65,526.97 240.58,528.90 242.51,530.97 244.44,533.17 246.37,535.51 248.29,537.99 250.22,540.60 252.15,543.33 254.08,546.19 256.01,549.16 257.94,552.23 259.87,555.39 261.80,558.63 263.73,561.93 265.66,565.26 267.59,568.62 269.52,571.99 271.44,575.34 273.37,578.66 275.30,581.93 277.23,585.14 279.16,588.26 281.09,591.29 283.02,594.21 284.95,597.02 286.88,599.70 288.81,602.25 290.74,604.67 292.67,606.95 294.59,609.09 296.52,611.10 298.45,612.97 300.38,614.72 302.31,616.34 304.24,617.84 306.17,619.22 308.10,620.50 310.03,621.67 311.96,622.74 313.89,623.73 315.82,624.63 317.74,625.45 319.67,626.20 321.60,626.88 323.53,627.50 325.46,628.07 327.39,628.58 329.32,629.04 331.25,629.46 333.18,629.85 335.11,630.19 337.04,630.50 338.97,630.79 340.89,631.04 342.82,631.27 344.75,631.48 346.68,631.67 348.61,631.84 350.54,631.99 352.47,632.13 354.40,632.25 356.33,632.36 358.26,632.46 360.19,632.56 362.12,632.64 364.04,632.71 365.97,632.78 367.90,632.84 369.83,632.89 371.76,632.94 373.69,632.98" stroke="#8d55a7" stroke-width="1.9" fill="none" stroke-linejoin="round"/>
<polyline points="142.19,509.27 144.12,509.28 146.05,509.28 147.98,509.29 149.91,509.30 151.84,509.31 153.77,509.32 155.69,509.32 157.62,509.34 159.55,509.35 161.48,509.36 163.41,509.38 165.34,509.39 167.27,509.41 169.20,509.43 171.13,509.45 173.06,509.47 174.99,509.50 176.92,509.53 178.84,509.56 180.77,509.59 182.70,509.63 184.63,509.67 186.56,509.71 188.49,509.76 190.42,509.82 192.35,509.88 194.28,509.95 196.21,510.02 198.14,510.10 200.07,510.19 201.99,510.28 203.92,510.39 205.85,510.51 207.78,510.64 209.71,510.78 211.64,510.93 213.57,511.10 215.50,511.29 217.43,511.50 219.36,511.72 221.29,511.97 223.22,512.24 225.14,512.54 227.07,512.86 229.00,513.22 230.93,513.61 232.86,514.04 234.79,514.50 236.72,515.01 238.65,515.57 240.58,516.18 242.51,516.84 244.44,517.56 246.37,518.34 248.29,519.20 250.22,520.12 252.15,521.12 254.08,522.21 256.01,523.38 257.94,524.65 259.87,526.02 261.80,527.48 263.73,529.06 265.66,530.74 267.59,532.55 269.52,534.46 271.44,536.50 273.37,538.67 275.30,540.95 277.23,543.35 279.16,545.88 281.09,548.52 283.02,551.27 284.95,554.13 286.88,557.08 288.81,560.12 290.74,563.24 292.67,566.43 294.59,569.67 296.52,572.94 298.45,576.24 300.38,579.55 302.31,582.86 304.24,586.14 306.17,589.39 308.10,592.58 310.03,595.72 311.96,598.77 313.89,601.75 315.82,604.62 317.74,607.40 319.67,610.06 321.60,612.61 323.53,615.04 325.46,617.34 327.39,619.53 329.32,621.59 331.25,623.54 333.18,625.36 335.11,627.07 337.04,628.67 338.97,630.16 340.89,631.54 342.82,632.83 344.75,634.02 346.68,635.12 348.61,636.14 350.54,637.08 352.47,637.95 354.40,638.75 356.33,639.48 358.26,640.15 360.19,640.77 362.12,641.34 364.04,641.86 365.97,642.33 367.90,642.77 369.83,643.16 371.76,643.53 373.69,643.86" stroke="#000000" stroke-width="1.9" fill="none" stroke-linejoin="round"/>
<polyline points="142.19,499.97 144.12,500.31 146.05,500.67 147.98,501.07 149.91,501.49 151.84,501.95 153.77,502.45 155.69,502.98 157.62,503.55 159.55,504.17 161.48,504.84 163.41,505.55 165.34,506.32 167.27,507.14 169.20,508.02 171.13,508.97 173.06,509.98 174.99,511.06 176.92,512.21 178.84,513.43 180.77,514.73 182.70,516.12 184.63,517.58 186.56,519.14 188.49,520.78 190.42,522.50 192.35,524.32 194.28,526.23 196.21,528.23 198.14,530.32 200.07,532.49 201.99,534.75 203.92,537.09 205.85,539.52 207.78,542.01 209.71,544.57 211.64,547.20 213.57,549.88 215.50,552.61 217.43,555.38 219.36,558.18 221.29,560.99 223.22,563.82 225.14,566.66 227.07,569.48 229.00,572.29 230.93,575.07 232.86,577.81 234.79,580.51 236.72,583.16 238.65,585.75 240.58,588.27 242.51,590.72 244.44,593.10 246.37,595.39 248.29,597.60 250.22,599.72 252.15,601.75 254.08,603.69 256.01,605.55 257.94,607.31 259.87,608.98 261.80,610.57 263.73,612.07 265.66,613.48 267.59,614.81 269.52,616.07 271.44,617.25 273.37,618.35 275.30,619.39 277.23,620.36 279.16,621.26 281.09,622.11 283.02,622.90 284.95,623.63 286.88,624.32 288.81,624.95 290.74,625.54 292.67,626.09 294.59,626.60 296.52,627.07 298.45,627.51 300.38,627.92 302.31,628.29 304.24,628.64 306.17,628.96 308.10,629.26 310.03,629.53 311.96,629.79 313.89,630.02 315.82,630.24 317.74,630.44 319.67,630.62 321.60,630.79 323.53,630.95 325.46,631.10 327.39,631.23 329.32,631.35 331.25,631.47 333.18,631.57 335.11,631.67 337.04,631.76 338.97,631.84 340.89,631.92 342.82,631.99 344.75,632.05 346.68,632.11 348.61,632.17 350.54,632.22 352.47,632.26 354.40,632.31 356.33,632.34 358.26,632.38 360.19,632.41 362.12,632.45 364.04,632.47 365.97,632.50 367.90,632.52 369.83,632.55 371.76,632.57 373.69,632.58" stroke="#e8412b" stroke-width="1.9" fill="none" stroke-linejoin="round"/>
<polygon points="142.19,489.14 143.31,492.08 146.45,492.24 144.00,494.21 144.82,497.25 142.19,495.53 139.56,497.25 140.38,494.21 137.93,492.24 141.07,492.08" fill="#4a98d3" stroke="none" stroke-width="1" />
<polygon points="188.49,490.42 189.61,493.36 192.75,493.51 190.30,495.48 191.12,498.52 188.49,496.80 185.86,498.52 186.68,495.48 184.23,493.51 187.37,493.36" fill="#4a98d3" stroke="none" stroke-width="1" />
<polygon points="234.79,496.88 235.91,499.82 239.05,499.98 236.60,501.95 237.42,504.99 234.79,503.27 232.16,504.99 232.98,501.95 230.53,499.98 233.67,499.82" fill="#4a98d3" stroke="none" stroke-width="1" />
<polygon points="281.09,568.84 282.21,571.78 285.35,571.94 282.90,573.91 283.72,576.94 281.09,575.22 278.46,576.94 279.28,573.91 276.83,571.94 279.97,571.78" fill="#4a98d3" stroke="none" stroke-width="1" />
<polygon points="327.39,623.59 328.51,626.53 331.65,626.68 329.20,628.66 330.02,631.69 327.39,629.97 324.76,631.69 325.58,628.66 323.13,626.68 326.27,626.53" fill="#4a98d3" stroke="none" stroke-width="1" />
<polygon points="373.69,630.40 374.81,633.34 377.95,633.50 375.50,635.47 376.32,638.51 373.69,636.79 371.06,638.51 371.88,635.47 369.43,633.50 372.57,633.34" fill="#4a98d3" stroke="none" stroke-width="1" />
<circle cx="142.19" cy="508.06" r="3.70" fill="#1f9858" stroke="#1f9858" stroke-width="0.5" />
<circle cx="188.49" cy="518.92" r="3.70" fill="#1f9858" stroke="#1f9858" stroke-width="0.5" />
<circle cx="234.79" cy="498.82" r="3.70" fill="#1f9858" stroke="#1f9858" stroke-width="0.5" />
<circle cx="281.09" cy="554.84" r="3.70" fill="#1f9858" stroke="#1f9858" stroke-width="0.5" />
<circle cx="327.39" cy="624.72" r="3.70" fill="#1f9858" stroke="#1f9858" stroke-width="0.5" />
<circle cx="373.69" cy="640.89" r="3.70" fill="#1f9858" stroke="#1f9858" stroke-width="0.5" />
<polygon points="137.93,507.76 146.45,507.76 142.19,514.99" fill="#f2992e" stroke="none" stroke-width="1" />
<polygon points="184.23,512.38 192.75,512.38 188.49,519.61" fill="#f2992e" stroke="none" stroke-width="1" />
<polygon points="230.53,535.13 239.05,535.13 234.79,542.37" fill="#f2992e" stroke="none" stroke-width="1" />
<polygon points="276.83,569.32 285.35,569.32 281.09,576.55" fill="#f2992e" stroke="none" stroke-width="1" />
<polygon points="323.13,613.21 331.65,613.21 327.39,620.44" fill="#f2992e" stroke="none" stroke-width="1" />
<polygon points="369.43,631.34 377.95,631.34 373.69,638.58" fill="#f2992e" stroke="none" stroke-width="1" />
<polygon points="137.93,509.52 146.45,509.52 142.19,502.29" fill="#27348b" stroke="none" stroke-width="1" />
<polygon points="184.23,508.37 192.75,508.37 188.49,501.13" fill="#27348b" stroke="none" stroke-width="1" />
<polygon points="230.53,520.03 239.05,520.03 234.79,512.80" fill="#27348b" stroke="none" stroke-width="1" />
<polygon points="276.83,582.11 285.35,582.11 281.09,574.88" fill="#27348b" stroke="none" stroke-width="1" />
<polygon points="323.13,632.53 331.65,632.53 327.39,625.29" fill="#27348b" stroke="none" stroke-width="1" />
<polygon points="369.43,631.26 377.95,631.26 373.69,624.02" fill="#27348b" stroke="none" stroke-width="1" />
<polygon points="137.49,501.71 142.19,497.01 146.89,501.71 142.19,506.41" fill="#8b5426" stroke="none" stroke-width="1" />
<polygon points="183.79,502.63 188.49,497.93 193.19,502.63 188.49,507.34" fill="#8b5426" stroke="none" stroke-width="1" />
<polygon points="230.09,519.61 234.79,514.91 239.49,519.61 234.79,524.32" fill="#8b5426" stroke="none" stroke-width="1" />
<polygon points="276.39,600.92 281.09,596.22 285.79,600.92 281.09,605.63" fill="#8b5426" stroke="none" stroke-width="1" />
<polygon points="322.69,635.81 327.39,631.10 332.09,635.81 327.39,640.51" fill="#8b5426" stroke="none" stroke-width="1" />
<polygon points="368.99,638.40 373.69,633.70 378.39,638.40 373.69,643.11" fill="#8b5426" stroke="none" stroke-width="1" />
<polygon points="137.93,504.29 146.45,504.29 142.19,511.53" fill="#8d55a7" stroke="none" stroke-width="1" />
<polygon points="184.23,502.33 192.75,502.33 188.49,509.56" fill="#8d55a7" stroke="none" stroke-width="1" />
<polygon points="230.53,521.39 239.05,521.39 234.79,528.62" fill="#8d55a7" stroke="none" stroke-width="1" />
<polygon points="276.83,586.07 285.35,586.07 281.09,593.30" fill="#8d55a7" stroke="none" stroke-width="1" />
<polygon points="323.13,627.42 331.65,627.42 327.39,634.65" fill="#8d55a7" stroke="none" stroke-width="1" />
<polygon points="369.43,628.69 377.95,628.69 373.69,635.92" fill="#8d55a7" stroke="none" stroke-width="1" />
<circle cx="142.19" cy="508.87" r="3.02" fill="none" stroke="#000000" stroke-width="1.6" />
<circle cx="188.49" cy="528.04" r="3.02" fill="none" stroke="#000000" stroke-width="1.6" />
<circle cx="234.79" cy="498.25" r="3.02" fill="none" stroke="#000000" stroke-width="1.6" />
<circle cx="281.09" cy="547.91" r="3.02" fill="none" stroke="#000000" stroke-width="1.6" />
<circle cx="327.39" cy="624.95" r="3.02" fill="none" stroke="#000000" stroke-width="1.6" />
<circle cx="373.69" cy="640.43" r="3.02" fill="none" stroke="#000000" stroke-width="1.6" />
<rect x="138.49" y="496.40" width="7.39" height="7.39" fill="#e8412b" />
<rect x="184.79" y="517.82" width="7.39" height="7.39" fill="#e8412b" />
<rect x="231.09" y="576.78" width="7.39" height="7.39" fill="#e8412b" />
<rect x="277.39" y="618.40" width="7.39" height="7.39" fill="#e8412b" />
<rect x="323.69" y="628.76" width="7.39" height="7.39" fill="#e8412b" />
<rect x="369.99" y="630.03" width="7.39" height="7.39" fill="#e8412b" />
<line x1="128.30" y1="475.55" x2="128.30" y2="668.60" stroke="#000" stroke-width="1.5" />
<line x1="120.00" y1="661.10" x2="406.85" y2="661.10" stroke="#000" stroke-width="1.5" />
<line x1="120.00" y1="476.30" x2="128.30" y2="476.30" stroke="#000" stroke-width="1.5" />
<text x="114.90" y="481.00" font-size="18.2" fill="#0a0a0a" font-weight="normal" text-anchor="end" >16000</text>
<line x1="120.00" y1="522.50" x2="128.30" y2="522.50" stroke="#000" stroke-width="1.5" />
<text x="114.90" y="527.20" font-size="18.2" fill="#0a0a0a" font-weight="normal" text-anchor="end" >12000</text>
<line x1="120.00" y1="568.70" x2="128.30" y2="568.70" stroke="#000" stroke-width="1.5" />
<text x="112.20" y="573.40" font-size="18.2" fill="#0a0a0a" font-weight="normal" text-anchor="end" >8000</text>
<line x1="120.00" y1="614.90" x2="128.30" y2="614.90" stroke="#000" stroke-width="1.5" />
<text x="112.20" y="619.60" font-size="18.2" fill="#0a0a0a" font-weight="normal" text-anchor="end" >4000</text>
<text x="104.40" y="666.40" font-size="18.2" fill="#0a0a0a" font-weight="normal" text-anchor="end" >0</text>
<line x1="128.30" y1="661.10" x2="128.30" y2="668.60" stroke="#000" stroke-width="1.5" />
<text x="125.40" y="687.60" font-size="18.2" fill="#0a0a0a" font-weight="normal" text-anchor="middle" >-9</text>
<line x1="174.60" y1="661.10" x2="174.60" y2="668.60" stroke="#000" stroke-width="1.5" />
<text x="171.70" y="687.60" font-size="18.2" fill="#0a0a0a" font-weight="normal" text-anchor="middle" >-8</text>
<line x1="220.90" y1="661.10" x2="220.90" y2="668.60" stroke="#000" stroke-width="1.5" />
<text x="218.00" y="687.60" font-size="18.2" fill="#0a0a0a" font-weight="normal" text-anchor="middle" >-7</text>
<line x1="267.20" y1="661.10" x2="267.20" y2="668.60" stroke="#000" stroke-width="1.5" />
<text x="264.30" y="687.60" font-size="18.2" fill="#0a0a0a" font-weight="normal" text-anchor="middle" >-6</text>
<line x1="313.50" y1="661.10" x2="313.50" y2="668.60" stroke="#000" stroke-width="1.5" />
<text x="310.60" y="687.60" font-size="18.2" fill="#0a0a0a" font-weight="normal" text-anchor="middle" >-5</text>
<line x1="359.80" y1="661.10" x2="359.80" y2="668.60" stroke="#000" stroke-width="1.5" />
<text x="356.90" y="687.60" font-size="18.2" fill="#0a0a0a" font-weight="normal" text-anchor="middle" >-4</text>
<line x1="406.10" y1="661.10" x2="406.10" y2="668.60" stroke="#000" stroke-width="1.5" />
<text x="403.20" y="687.60" font-size="18.2" fill="#0a0a0a" font-weight="normal" text-anchor="middle" >-3</text>
<text x="267.30" y="709.80" font-size="18.2" fill="#0a0a0a" font-weight="bold" text-anchor="middle" >Log [Compound (M)]</text>
<text transform="translate(61.3,565.3) rotate(-90)" font-size="18" font-weight="bold" fill="#111" text-anchor="middle">RFU</text>
<line x1="96.00" y1="740.60" x2="115.60" y2="740.60" stroke="#e8412b" stroke-width="1.9" />
<rect x="102.66" y="737.47" width="6.27" height="6.27" fill="#e8412b" />
<text x="126.20" y="745.40" font-size="18.3" fill="#0a0a0a" font-weight="normal" text-anchor="start" >Levomilnacipran</text>
<line x1="96.00" y1="761.50" x2="115.60" y2="761.50" stroke="#000" stroke-width="1.9" />
<circle cx="105.80" cy="761.50" r="2.56" fill="none" stroke="#000" stroke-width="1.6" />
<text x="126.20" y="765.60" font-size="18.3" fill="#0a0a0a" font-weight="normal" text-anchor="start" >F3288-0031</text>
<line x1="96.00" y1="780.60" x2="115.60" y2="780.60" stroke="#8d55a7" stroke-width="1.9" />
<polygon points="102.19,777.89 109.41,777.89 105.80,784.03" fill="#8d55a7" stroke="none" stroke-width="1" />
<text x="126.20" y="785.20" font-size="18.3" fill="#0a0a0a" font-weight="normal" text-anchor="start" >F6209-0486</text>
<line x1="96.00" y1="801.70" x2="115.60" y2="801.70" stroke="#8b5426" stroke-width="1.9" />
<polygon points="101.81,801.70 105.80,797.71 109.79,801.70 105.80,805.69" fill="#8b5426" stroke="none" stroke-width="1" />
<text x="126.20" y="806.60" font-size="18.3" fill="#0a0a0a" font-weight="normal" text-anchor="start" >T161-1125</text>
<line x1="268.20" y1="740.60" x2="287.50" y2="740.60" stroke="#27348b" stroke-width="1.9" />
<polygon points="274.24,743.31 281.46,743.31 277.85,737.17" fill="#27348b" stroke="none" stroke-width="1" />
<text x="298.80" y="745.20" font-size="18.3" fill="#0a0a0a" font-weight="normal" text-anchor="start" >F6209-0484</text>
<line x1="268.20" y1="761.50" x2="287.50" y2="761.50" stroke="#f2992e" stroke-width="1.9" />
<polygon points="274.24,758.79 281.46,758.79 277.85,764.93" fill="#f2992e" stroke="none" stroke-width="1" />
<text x="298.80" y="765.60" font-size="18.3" fill="#0a0a0a" font-weight="normal" text-anchor="start" >F6209-0471</text>
<line x1="268.20" y1="781.00" x2="287.50" y2="781.00" stroke="#1f9858" stroke-width="1.9" />
<circle cx="277.85" cy="781.00" r="3.13" fill="#1f9858" stroke="#1f9858" stroke-width="0.5" />
<text x="298.80" y="785.20" font-size="18.3" fill="#0a0a0a" font-weight="normal" text-anchor="start" >F3314-0326</text>
<line x1="268.20" y1="801.10" x2="287.50" y2="801.10" stroke="#4a98d3" stroke-width="1.9" />
<polygon points="277.85,797.30 278.80,799.79 281.46,799.93 279.39,801.60 280.08,804.17 277.85,802.72 275.62,804.17 276.31,801.60 274.24,799.93 276.90,799.79" fill="#4a98d3" stroke="none" stroke-width="1" />
<text x="298.80" y="805.20" font-size="18.3" fill="#0a0a0a" font-weight="normal" text-anchor="start" >F3314-0161</text>
</g>
<g id="panelD">
<text x="468.40" y="467.90" font-size="28.8" fill="#231815" font-weight="bold" text-anchor="start" >D</text>
<rect x="601.90" y="573.86" width="28.00" height="134.34" fill="#b7d5d4" stroke="#000" stroke-width="1.4" />
<line x1="615.90" y1="564.93" x2="615.90" y2="582.35" stroke="#000" stroke-width="1.5" />
<line x1="607.20" y1="564.93" x2="624.60" y2="564.93" stroke="#000" stroke-width="1.5" />
<line x1="607.20" y1="582.35" x2="624.60" y2="582.35" stroke="#000" stroke-width="1.5" />
<rect x="645.50" y="647.26" width="28.00" height="60.94" fill="#b7d5d4" stroke="#000" stroke-width="1.4" />
<line x1="659.50" y1="628.60" x2="659.50" y2="666.01" stroke="#000" stroke-width="1.5" />
<line x1="650.80" y1="628.60" x2="668.20" y2="628.60" stroke="#000" stroke-width="1.5" />
<line x1="650.80" y1="666.01" x2="668.20" y2="666.01" stroke="#000" stroke-width="1.5" />
<rect x="689.10" y="594.64" width="28.00" height="113.56" fill="#b7d5d4" stroke="#000" stroke-width="1.4" />
<line x1="703.10" y1="585.45" x2="703.10" y2="603.84" stroke="#000" stroke-width="1.5" />
<line x1="694.40" y1="585.45" x2="711.80" y2="585.45" stroke="#000" stroke-width="1.5" />
<line x1="694.40" y1="603.84" x2="711.80" y2="603.84" stroke="#000" stroke-width="1.5" />
<rect x="732.60" y="633.47" width="28.00" height="74.73" fill="#b7d5d4" stroke="#000" stroke-width="1.4" />
<line x1="746.60" y1="619.32" x2="746.60" y2="648.06" stroke="#000" stroke-width="1.5" />
<line x1="737.90" y1="619.32" x2="755.30" y2="619.32" stroke="#000" stroke-width="1.5" />
<line x1="737.90" y1="648.06" x2="755.30" y2="648.06" stroke="#000" stroke-width="1.5" />
<rect x="776.20" y="669.73" width="28.00" height="38.47" fill="#b7d5d4" stroke="#000" stroke-width="1.4" />
<line x1="790.20" y1="659.56" x2="790.20" y2="679.19" stroke="#000" stroke-width="1.5" />
<line x1="781.50" y1="659.56" x2="798.90" y2="659.56" stroke="#000" stroke-width="1.5" />
<line x1="781.50" y1="679.19" x2="798.90" y2="679.19" stroke="#000" stroke-width="1.5" />
<circle cx="615.83" cy="549.58" r="3.50" fill="#d9e8e7" stroke="#000" stroke-width="1.5" />
<circle cx="604.64" cy="556.81" r="3.50" fill="#d9e8e7" stroke="#000" stroke-width="1.5" />
<circle cx="626.69" cy="559.12" r="3.50" fill="#d9e8e7" stroke="#000" stroke-width="1.5" />
<circle cx="615.83" cy="563.40" r="3.50" fill="#d9e8e7" stroke="#000" stroke-width="1.5" />
<circle cx="604.64" cy="576.56" r="3.50" fill="#d9e8e7" stroke="#000" stroke-width="1.5" />
<circle cx="626.69" cy="576.56" r="3.50" fill="#d9e8e7" stroke="#000" stroke-width="1.5" />
<circle cx="615.83" cy="583.14" r="3.50" fill="#d9e8e7" stroke="#000" stroke-width="1.5" />
<circle cx="615.83" cy="621.97" r="3.50" fill="#d9e8e7" stroke="#000" stroke-width="1.5" />
<circle cx="659.26" cy="533.12" r="3.50" fill="#d9e8e7" stroke="#000" stroke-width="1.5" />
<circle cx="659.26" cy="609.46" r="3.50" fill="#d9e8e7" stroke="#000" stroke-width="1.5" />
<circle cx="648.73" cy="657.18" r="3.50" fill="#d9e8e7" stroke="#000" stroke-width="1.5" />
<circle cx="670.45" cy="655.86" r="3.50" fill="#d9e8e7" stroke="#000" stroke-width="1.5" />
<circle cx="659.26" cy="663.76" r="3.50" fill="#d9e8e7" stroke="#000" stroke-width="1.5" />
<circle cx="659.26" cy="671.98" r="3.50" fill="#d9e8e7" stroke="#000" stroke-width="1.5" />
<circle cx="653.67" cy="694.36" r="3.50" fill="#d9e8e7" stroke="#000" stroke-width="1.5" />
<circle cx="664.53" cy="691.73" r="3.50" fill="#d9e8e7" stroke="#000" stroke-width="1.5" />
<circle cx="703.03" cy="556.81" r="3.50" fill="#d9e8e7" stroke="#000" stroke-width="1.5" />
<circle cx="703.03" cy="571.62" r="3.50" fill="#d9e8e7" stroke="#000" stroke-width="1.5" />
<circle cx="703.03" cy="584.78" r="3.50" fill="#d9e8e7" stroke="#000" stroke-width="1.5" />
<circle cx="703.03" cy="594.66" r="3.50" fill="#d9e8e7" stroke="#000" stroke-width="1.5" />
<circle cx="692.50" cy="598.93" r="3.50" fill="#d9e8e7" stroke="#000" stroke-width="1.5" />
<circle cx="713.89" cy="600.58" r="3.50" fill="#d9e8e7" stroke="#000" stroke-width="1.5" />
<circle cx="703.03" cy="611.11" r="3.50" fill="#d9e8e7" stroke="#000" stroke-width="1.5" />
<circle cx="703.03" cy="637.43" r="3.50" fill="#d9e8e7" stroke="#000" stroke-width="1.5" />
<circle cx="746.46" cy="579.19" r="3.50" fill="#d9e8e7" stroke="#000" stroke-width="1.5" />
<circle cx="746.46" cy="593.67" r="3.50" fill="#d9e8e7" stroke="#000" stroke-width="1.5" />
<circle cx="746.46" cy="611.77" r="3.50" fill="#d9e8e7" stroke="#000" stroke-width="1.5" />
<circle cx="746.46" cy="619.34" r="3.50" fill="#d9e8e7" stroke="#000" stroke-width="1.5" />
<circle cx="740.87" cy="647.96" r="3.50" fill="#d9e8e7" stroke="#000" stroke-width="1.5" />
<circle cx="752.71" cy="646.65" r="3.50" fill="#d9e8e7" stroke="#000" stroke-width="1.5" />
<circle cx="746.46" cy="671.00" r="3.50" fill="#d9e8e7" stroke="#000" stroke-width="1.5" />
<circle cx="746.46" cy="692.71" r="3.50" fill="#d9e8e7" stroke="#000" stroke-width="1.5" />
<circle cx="790.23" cy="619.99" r="3.50" fill="#d9e8e7" stroke="#000" stroke-width="1.5" />
<circle cx="790.23" cy="646.65" r="3.50" fill="#d9e8e7" stroke="#000" stroke-width="1.5" />
<circle cx="790.23" cy="657.18" r="3.50" fill="#d9e8e7" stroke="#000" stroke-width="1.5" />
<circle cx="790.23" cy="669.35" r="3.50" fill="#d9e8e7" stroke="#000" stroke-width="1.5" />
<circle cx="790.23" cy="677.58" r="3.50" fill="#d9e8e7" stroke="#000" stroke-width="1.5" />
<circle cx="790.23" cy="686.13" r="3.50" fill="#d9e8e7" stroke="#000" stroke-width="1.5" />
<circle cx="783.65" cy="698.31" r="3.50" fill="#d9e8e7" stroke="#000" stroke-width="1.5" />
<circle cx="797.14" cy="697.65" r="3.50" fill="#d9e8e7" stroke="#000" stroke-width="1.5" />
<line x1="586.50" y1="486.35" x2="586.50" y2="708.20" stroke="#000" stroke-width="1.5" />
<line x1="572.90" y1="708.20" x2="820.80" y2="708.20" stroke="#000" stroke-width="1.5" />
<line x1="572.90" y1="708.20" x2="586.50" y2="708.20" stroke="#000" stroke-width="1.5" />
<text x="569.30" y="714.30" font-size="18.2" fill="#0a0a0a" font-weight="normal" text-anchor="end" >0</text>
<line x1="572.90" y1="663.98" x2="586.50" y2="663.98" stroke="#000" stroke-width="1.5" />
<text x="569.30" y="670.08" font-size="18.2" fill="#0a0a0a" font-weight="normal" text-anchor="end" >50</text>
<line x1="572.90" y1="619.76" x2="586.50" y2="619.76" stroke="#000" stroke-width="1.5" />
<text x="569.30" y="625.86" font-size="18.2" fill="#0a0a0a" font-weight="normal" text-anchor="end" >100</text>
<line x1="572.90" y1="575.54" x2="586.50" y2="575.54" stroke="#000" stroke-width="1.5" />
<text x="569.30" y="581.64" font-size="18.2" fill="#0a0a0a" font-weight="normal" text-anchor="end" >150</text>
<line x1="572.90" y1="531.32" x2="586.50" y2="531.32" stroke="#000" stroke-width="1.5" />
<text x="569.30" y="537.42" font-size="18.2" fill="#0a0a0a" font-weight="normal" text-anchor="end" >200</text>
<line x1="572.90" y1="487.10" x2="586.50" y2="487.10" stroke="#000" stroke-width="1.5" />
<text x="569.30" y="493.20" font-size="18.2" fill="#0a0a0a" font-weight="normal" text-anchor="end" >250</text>
<text transform="translate(520.9,594.7) rotate(-90)" font-size="18.3" font-weight="bold" fill="#0a0a0a" text-anchor="middle">Immobile Time (s)</text>
<line x1="615.90" y1="708.20" x2="615.90" y2="721.40" stroke="#000" stroke-width="1.5" />
<line x1="659.50" y1="708.20" x2="659.50" y2="721.40" stroke="#000" stroke-width="1.5" />
<line x1="703.10" y1="708.20" x2="703.10" y2="721.40" stroke="#000" stroke-width="1.5" />
<line x1="746.60" y1="708.20" x2="746.60" y2="721.40" stroke="#000" stroke-width="1.5" />
<line x1="790.20" y1="708.20" x2="790.20" y2="721.40" stroke="#000" stroke-width="1.5" />
<text transform="translate(623.8,736.0) rotate(-45)" font-size="18.2" fill="#0a0a0a" text-anchor="end">Saline</text>
<text transform="translate(660.5,736.5) rotate(-45)" font-size="18.2" fill="#0a0a0a" text-anchor="end">Duloxetine</text>
<text transform="translate(679.5,747.5) rotate(-45)" font-size="18.2" fill="#0a0a0a" text-anchor="end">(10 mg/kg)</text>
<text transform="translate(709.9,733.8) rotate(-45)" font-size="18.2" fill="#0a0a0a" text-anchor="end">10</text>
<text transform="translate(753.6,733.8) rotate(-45)" font-size="18.2" fill="#0a0a0a" text-anchor="end">30</text>
<text transform="translate(797.2,733.8) rotate(-45)" font-size="18.2" fill="#0a0a0a" text-anchor="end">50</text>
<polyline points="702.90,754.20 702.90,761.60 790.00,761.60 790.00,754.20" stroke="#000" stroke-width="1.5" fill="none" />
<text x="748.00" y="784.00" font-size="18.3" fill="#0a0a0a" font-weight="normal" text-anchor="middle" >F3288-0031</text>
<text x="750.00" y="805.40" font-size="18.6" fill="#0a0a0a" font-weight="normal" text-anchor="middle" >(mg/kg, i.p.)</text>
<line x1="615.20" y1="472.20" x2="789.80" y2="472.20" stroke="#000" stroke-width="1.5" />
<text x="698.40" y="470.20" font-size="18.4" fill="#0a0a0a" font-weight="normal" text-anchor="middle" >****</text>
<line x1="615.20" y1="493.00" x2="746.80" y2="493.00" stroke="#000" stroke-width="1.5" />
<text x="681.30" y="492.40" font-size="18.4" fill="#0a0a0a" font-weight="normal" text-anchor="middle" >**</text>
<line x1="615.20" y1="514.40" x2="659.60" y2="514.40" stroke="#000" stroke-width="1.5" />
<text x="636.90" y="515.30" font-size="18.4" fill="#0a0a0a" font-weight="normal" text-anchor="middle" >***</text>
</g>
<g id="panelE">
<text x="902.20" y="467.90" font-size="28.8" fill="#231815" font-weight="bold" text-anchor="start" >E</text>
<rect x="1022.50" y="620.48" width="28.00" height="86.22" fill="#a7c9e5" stroke="#000" stroke-width="1.4" />
<line x1="1036.50" y1="600.09" x2="1036.50" y2="639.85" stroke="#000" stroke-width="1.5" />
<line x1="1027.80" y1="600.09" x2="1045.20" y2="600.09" stroke="#000" stroke-width="1.5" />
<line x1="1027.80" y1="639.85" x2="1045.20" y2="639.85" stroke="#000" stroke-width="1.5" />
<rect x="1067.00" y="616.84" width="28.00" height="89.86" fill="#a7c9e5" stroke="#000" stroke-width="1.4" />
<line x1="1081.00" y1="598.05" x2="1081.00" y2="634.30" stroke="#000" stroke-width="1.5" />
<line x1="1072.30" y1="598.05" x2="1089.70" y2="598.05" stroke="#000" stroke-width="1.5" />
<line x1="1072.30" y1="634.30" x2="1089.70" y2="634.30" stroke="#000" stroke-width="1.5" />
<rect x="1110.70" y="633.27" width="28.00" height="73.43" fill="#a7c9e5" stroke="#000" stroke-width="1.4" />
<line x1="1124.70" y1="611.20" x2="1124.70" y2="653.04" stroke="#000" stroke-width="1.5" />
<line x1="1116.00" y1="611.20" x2="1133.40" y2="611.20" stroke="#000" stroke-width="1.5" />
<line x1="1116.00" y1="653.04" x2="1133.40" y2="653.04" stroke="#000" stroke-width="1.5" />
<rect x="1154.30" y="614.53" width="28.00" height="92.17" fill="#a7c9e5" stroke="#000" stroke-width="1.4" />
<line x1="1168.30" y1="597.12" x2="1168.30" y2="630.65" stroke="#000" stroke-width="1.5" />
<line x1="1159.60" y1="597.12" x2="1177.00" y2="597.12" stroke="#000" stroke-width="1.5" />
<line x1="1159.60" y1="630.65" x2="1177.00" y2="630.65" stroke="#000" stroke-width="1.5" />
<circle cx="1029.45" cy="541.81" r="3.50" fill="#dce9f5" stroke="#000" stroke-width="1.5" />
<circle cx="1042.94" cy="540.49" r="3.50" fill="#dce9f5" stroke="#000" stroke-width="1.5" />
<circle cx="1036.36" cy="596.76" r="3.50" fill="#dce9f5" stroke="#000" stroke-width="1.5" />
<circle cx="1029.45" cy="629.01" r="3.50" fill="#dce9f5" stroke="#000" stroke-width="1.5" />
<circle cx="1042.94" cy="630.98" r="3.50" fill="#dce9f5" stroke="#000" stroke-width="1.5" />
<circle cx="1036.36" cy="655.66" r="3.50" fill="#dce9f5" stroke="#000" stroke-width="1.5" />
<circle cx="1036.36" cy="676.72" r="3.50" fill="#dce9f5" stroke="#000" stroke-width="1.5" />
<circle cx="1036.36" cy="689.22" r="3.50" fill="#dce9f5" stroke="#000" stroke-width="1.5" />
<circle cx="1080.78" cy="519.10" r="3.50" fill="#dce9f5" stroke="#000" stroke-width="1.5" />
<circle cx="1080.78" cy="580.96" r="3.50" fill="#dce9f5" stroke="#000" stroke-width="1.5" />
<circle cx="1080.78" cy="600.71" r="3.50" fill="#dce9f5" stroke="#000" stroke-width="1.5" />
<circle cx="1080.78" cy="609.26" r="3.50" fill="#dce9f5" stroke="#000" stroke-width="1.5" />
<circle cx="1080.78" cy="627.03" r="3.50" fill="#dce9f5" stroke="#000" stroke-width="1.5" />
<circle cx="1080.78" cy="649.41" r="3.50" fill="#dce9f5" stroke="#000" stroke-width="1.5" />
<circle cx="1080.78" cy="666.19" r="3.50" fill="#dce9f5" stroke="#000" stroke-width="1.5" />
<circle cx="1080.78" cy="678.04" r="3.50" fill="#dce9f5" stroke="#000" stroke-width="1.5" />
<circle cx="1124.54" cy="540.49" r="3.50" fill="#dce9f5" stroke="#000" stroke-width="1.5" />
<circle cx="1124.54" cy="584.25" r="3.50" fill="#dce9f5" stroke="#000" stroke-width="1.5" />
<circle cx="1117.96" cy="602.35" r="3.50" fill="#dce9f5" stroke="#000" stroke-width="1.5" />
<circle cx="1131.45" cy="598.73" r="3.50" fill="#dce9f5" stroke="#000" stroke-width="1.5" />
<circle cx="1124.54" cy="647.43" r="3.50" fill="#dce9f5" stroke="#000" stroke-width="1.5" />
<circle cx="1124.54" cy="690.21" r="3.50" fill="#dce9f5" stroke="#000" stroke-width="1.5" />
<circle cx="1117.96" cy="698.44" r="3.50" fill="#dce9f5" stroke="#000" stroke-width="1.5" />
<circle cx="1131.45" cy="696.79" r="3.50" fill="#dce9f5" stroke="#000" stroke-width="1.5" />
<circle cx="1168.31" cy="522.72" r="3.50" fill="#dce9f5" stroke="#000" stroke-width="1.5" />
<circle cx="1157.45" cy="591.82" r="3.50" fill="#dce9f5" stroke="#000" stroke-width="1.5" />
<circle cx="1168.31" cy="595.11" r="3.50" fill="#dce9f5" stroke="#000" stroke-width="1.5" />
<circle cx="1179.17" cy="591.49" r="3.50" fill="#dce9f5" stroke="#000" stroke-width="1.5" />
<circle cx="1156.79" cy="640.19" r="3.50" fill="#dce9f5" stroke="#000" stroke-width="1.5" />
<circle cx="1168.31" cy="650.72" r="3.50" fill="#dce9f5" stroke="#000" stroke-width="1.5" />
<circle cx="1179.17" cy="646.45" r="3.50" fill="#dce9f5" stroke="#000" stroke-width="1.5" />
<circle cx="1168.31" cy="671.78" r="3.50" fill="#dce9f5" stroke="#000" stroke-width="1.5" />
<line x1="1007.40" y1="483.85" x2="1007.40" y2="706.70" stroke="#000" stroke-width="1.5" />
<line x1="993.80" y1="706.70" x2="1198.60" y2="706.70" stroke="#000" stroke-width="1.5" />
<line x1="993.80" y1="706.70" x2="1007.40" y2="706.70" stroke="#000" stroke-width="1.5" />
<text x="989.20" y="712.80" font-size="18.2" fill="#0a0a0a" font-weight="normal" text-anchor="end" >0</text>
<line x1="993.80" y1="662.28" x2="1007.40" y2="662.28" stroke="#000" stroke-width="1.5" />
<text x="989.20" y="668.38" font-size="18.2" fill="#0a0a0a" font-weight="normal" text-anchor="end" >1000</text>
<line x1="993.80" y1="617.86" x2="1007.40" y2="617.86" stroke="#000" stroke-width="1.5" />
<text x="989.20" y="623.96" font-size="18.2" fill="#0a0a0a" font-weight="normal" text-anchor="end" >2000</text>
<line x1="993.80" y1="573.44" x2="1007.40" y2="573.44" stroke="#000" stroke-width="1.5" />
<text x="989.20" y="579.54" font-size="18.2" fill="#0a0a0a" font-weight="normal" text-anchor="end" >3000</text>
<line x1="993.80" y1="529.02" x2="1007.40" y2="529.02" stroke="#000" stroke-width="1.5" />
<text x="989.20" y="535.12" font-size="18.2" fill="#0a0a0a" font-weight="normal" text-anchor="end" >4000</text>
<line x1="993.80" y1="484.60" x2="1007.40" y2="484.60" stroke="#000" stroke-width="1.5" />
<text x="989.20" y="490.70" font-size="18.2" fill="#0a0a0a" font-weight="normal" text-anchor="end" >5000</text>
<text transform="translate(935.6,590.8) rotate(-90)" font-size="18.3" font-weight="bold" fill="#0a0a0a" text-anchor="middle">Distance (cm)</text>
<line x1="1036.50" y1="706.70" x2="1036.50" y2="719.90" stroke="#000" stroke-width="1.5" />
<line x1="1081.00" y1="706.70" x2="1081.00" y2="719.90" stroke="#000" stroke-width="1.5" />
<line x1="1124.70" y1="706.70" x2="1124.70" y2="719.90" stroke="#000" stroke-width="1.5" />
<line x1="1168.30" y1="706.70" x2="1168.30" y2="719.90" stroke="#000" stroke-width="1.5" />
<text transform="translate(1042.3,737.2) rotate(-45)" font-size="18.2" fill="#0a0a0a" text-anchor="end">Saline</text>
<text transform="translate(1085.8,736.8) rotate(-45)" font-size="18.2" fill="#0a0a0a" text-anchor="end">3</text>
<text transform="translate(1130.5,736.8) rotate(-45)" font-size="18.2" fill="#0a0a0a" text-anchor="end">10</text>
<text transform="translate(1174.2,736.8) rotate(-45)" font-size="18.2" fill="#0a0a0a" text-anchor="end">30</text>
<polyline points="1081.00,753.50 1081.00,761.40 1168.30,761.40 1168.30,753.50" stroke="#000" stroke-width="1.5" fill="none" />
<text x="1124.50" y="784.40" font-size="18.3" fill="#0a0a0a" font-weight="normal" text-anchor="middle" >F3288-0031</text>
<text x="1126.00" y="806.00" font-size="18.6" fill="#0a0a0a" font-weight="normal" text-anchor="middle" >(mg/kg, i.p.)</text>
<line x1="1036.40" y1="500.30" x2="1168.30" y2="500.30" stroke="#000" stroke-width="1.5" />
<text x="1081.10" y="487.20" font-size="18.2" fill="#0a0a0a" font-weight="normal" text-anchor="middle" >ns</text>
</g>
</svg>
</body></html>
